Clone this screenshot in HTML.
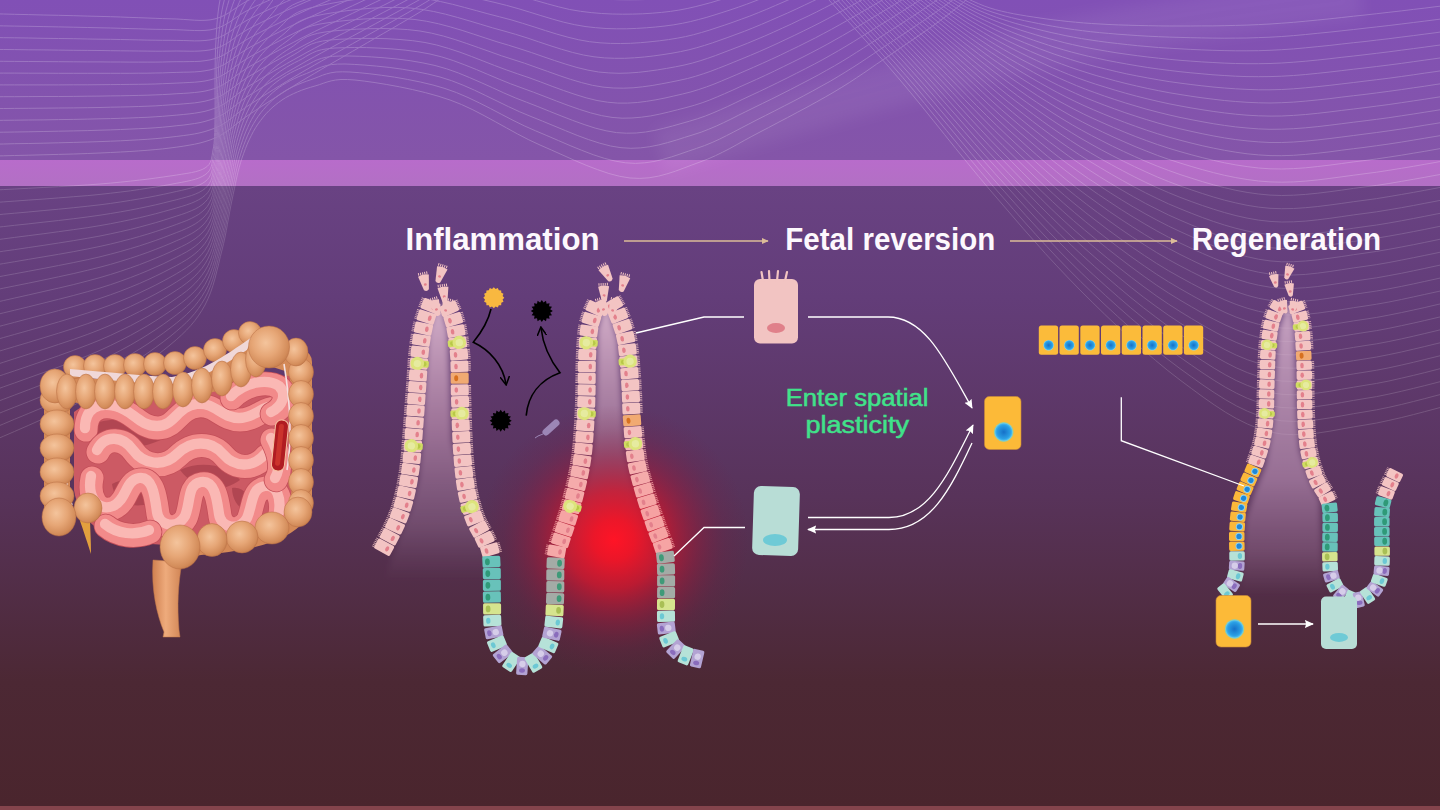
<!DOCTYPE html>
<html><head><meta charset="utf-8">
<style>
html,body{margin:0;padding:0;width:1440px;height:810px;overflow:hidden;background:#5a3358;}
svg{display:block;position:absolute;left:0;top:0;}
</style></head>
<body>
<svg width="1440" height="810" viewBox="0 0 1440 810">
<defs>
  <linearGradient id="gTop" x1="0" y1="0" x2="0" y2="1">
    <stop offset="0" stop-color="#8150b6"/>
    <stop offset="1" stop-color="#8455a8"/>
  </linearGradient>
  <linearGradient id="gBand" x1="0" y1="0" x2="0" y2="1">
    <stop offset="0" stop-color="#b86ccb"/>
    <stop offset="1" stop-color="#b270c4"/>
  </linearGradient>
  <linearGradient id="gLow" x1="0" y1="0" x2="0" y2="1">
    <stop offset="0" stop-color="#694283"/>
    <stop offset="0.18" stop-color="#633d79"/>
    <stop offset="0.5" stop-color="#58335a"/>
    <stop offset="0.8" stop-color="#4c2834"/>
    <stop offset="1" stop-color="#4a252d"/>
  </linearGradient>
  <radialGradient id="gRed" cx="0.5" cy="0.5" r="0.5">
    <stop offset="0" stop-color="#ff1426" stop-opacity="1"/>
    <stop offset="0.15" stop-color="#f21426" stop-opacity="0.95"/>
    <stop offset="0.36" stop-color="#d4162c" stop-opacity="0.8"/>
    <stop offset="0.62" stop-color="#a01838" stop-opacity="0.45"/>
    <stop offset="0.82" stop-color="#7c1c40" stop-opacity="0.18"/>
    <stop offset="1" stop-color="#701c40" stop-opacity="0"/>
  </radialGradient>
  <linearGradient id="gLumen" x1="0" y1="0" x2="0" y2="1">
    <stop offset="0" stop-color="#e8c4d8" stop-opacity="0.85"/>
    <stop offset="0.45" stop-color="#c89ab8" stop-opacity="0.6"/>
    <stop offset="0.8" stop-color="#b08aa8" stop-opacity="0.3"/>
    <stop offset="1" stop-color="#a07898" stop-opacity="0"/>
  </linearGradient>
  <radialGradient id="gNuc" cx="0.5" cy="0.5" r="0.5">
    <stop offset="0" stop-color="#1670c8"/>
    <stop offset="0.7" stop-color="#2a9ee4"/>
    <stop offset="0.85" stop-color="#40b4ec"/>
    <stop offset="1" stop-color="#8fd4f0"/>
  </radialGradient>
  <radialGradient id="gCol" cx="0.42" cy="0.4" r="0.65">
    <stop offset="0" stop-color="#f4c49c"/>
    <stop offset="0.5" stop-color="#e6a676"/>
    <stop offset="0.85" stop-color="#d38c5a"/>
    <stop offset="1" stop-color="#c27a4a"/>
  </radialGradient>
  <linearGradient id="gRect" x1="0" y1="0" x2="1" y2="0">
    <stop offset="0" stop-color="#d08050"/>
    <stop offset="0.45" stop-color="#eeab7c"/>
    <stop offset="1" stop-color="#d08454"/>
  </linearGradient>
  <linearGradient id="gLumen3" x1="0" y1="0" x2="0" y2="1">
    <stop offset="0" stop-color="#e0bcd4" stop-opacity="0.8"/>
    <stop offset="0.6" stop-color="#c096b8" stop-opacity="0.6"/>
    <stop offset="0.85" stop-color="#a87ca0" stop-opacity="0.35"/>
    <stop offset="1" stop-color="#a07898" stop-opacity="0"/>
  </linearGradient>
  <filter id="blur8" x="-20%" y="-50%" width="140%" height="200%"><feGaussianBlur stdDeviation="8"/></filter>
  <filter id="blur3" x="-20%" y="-20%" width="140%" height="140%"><feGaussianBlur stdDeviation="3"/></filter>
  <clipPath id="clipTop"><rect x="0" y="0" width="1440" height="186"/></clipPath>
  <clipPath id="clipLow"><rect x="0" y="186" width="1440" height="624"/></clipPath>
  <marker id="ahW" viewBox="0 0 10 10" refX="9" refY="5" markerWidth="7" markerHeight="7" orient="auto-start-reverse">
    <path d="M0,0.5 L10,5 L0,9.5 L1.5,5 z" fill="#ffffff"/>
  </marker>
  <marker id="ahT" viewBox="0 0 10 10" refX="9" refY="5" markerWidth="7" markerHeight="7" markerUnits="userSpaceOnUse" orient="auto">
    <path d="M0,0.5 L10,5 L0,9.5 z" fill="#dcbc98"/>
  </marker>
  <marker id="ahK" viewBox="0 0 10 10" refX="8" refY="5" markerWidth="6" markerHeight="6" orient="auto">
    <path d="M0,0 L9,5 L0,10" fill="none" stroke="#000" stroke-width="1.6"/>
  </marker>
</defs>

<!-- background -->
<rect x="0" y="0" width="1440" height="160" fill="url(#gTop)"/>
<rect x="0" y="186" width="1440" height="620" fill="url(#gLow)"/>
<rect x="0" y="160" width="1440" height="26" fill="url(#gBand)"/>
<rect x="0" y="806" width="1440" height="4" fill="#84444c"/>
<path d="M660,152 C760,120 880,88 1000,56 C1100,32 1220,12 1360,-4" stroke="#ffffff" stroke-width="44" fill="none" opacity="0.06" filter="url(#blur8)" clip-path="url(#clipTop)"/>
<g fill="none" stroke="#ffffff" stroke-width="1" clip-path="url(#clipTop)" opacity="0.2">
<path d="M-5.0,440.0 L3.3,436.3 L14.7,431.4 L28.2,425.5 L43.1,418.9 L58.6,412.0 L73.8,405.1 L87.8,398.3 L100.0,392.0 L110.7,386.0 L120.8,380.0 L130.4,374.0 L139.4,368.0 L147.9,362.1 L155.8,356.2 L163.2,350.5 L170.0,345.0 L176.2,339.8 L181.6,334.9 L186.5,330.1 L190.8,325.5 L194.7,320.8 L198.3,315.9 L201.7,310.7 L205.0,305.0 L208.0,298.8 L210.7,292.2 L213.0,285.3 L215.1,278.1 L216.9,270.9 L218.7,263.8 L220.3,256.7 L222.0,250.0 L223.6,243.5 L225.0,237.0 L226.3,230.5 L227.4,224.2 L228.6,217.9 L229.7,211.8 L230.8,205.8 L232.0,200.0 L233.2,194.3 L234.4,188.8 L235.5,183.3 L236.6,178.0 L237.8,172.8 L239.1,167.8 L240.5,162.8 L242.0,158.0 L243.7,153.3 L245.4,148.7 L247.2,144.2 L249.1,139.9 L251.2,135.7 L253.3,131.6 L255.6,127.7 L258.0,124.0 L260.6,120.5 L263.2,117.1 L266.0,113.8 L268.9,110.8 L272.0,107.8 L275.2,105.1 L278.5,102.5 L282.0,100.0 L285.6,97.7 L289.5,95.6 L293.4,93.7 L297.5,91.9 L301.7,90.2 L306.0,88.7 L310.5,87.3 L315.0,86.0 L319.3,84.7 L323.2,83.3 L327.1,82.0 L331.1,80.9 L335.7,80.0 L341.0,79.5 L347.3,79.5 L355.0,80.0 L364.3,81.1 L375.0,82.6 L386.8,84.5 L399.4,86.8 L412.3,89.5 L425.3,92.6 L438.0,96.1 L450.0,100.0 L461.5,104.5 L472.9,109.8 L484.1,115.6 L495.3,121.7 L506.5,127.9 L517.6,134.0 L528.8,139.8 L540.0,145.0 L551.4,150.0 L563.0,155.2 L574.6,160.4 L586.2,165.3 L597.7,169.7 L608.9,173.5 L619.7,176.3 L630.0,178.0 L639.8,178.4 L649.1,177.8 L658.2,176.2 L666.9,173.9 L675.4,171.2 L683.7,168.1 L691.9,165.0 L700.0,162.0 L707.9,159.0 L715.4,155.7 L722.6,152.2 L729.8,148.5 L736.9,144.6 L744.2,140.5 L751.9,136.3 L760.0,132.0 L768.7,127.5 L777.9,122.6 L787.5,117.6 L797.2,112.4 L807.0,107.2 L816.4,102.0 L825.5,96.9 L834.0,92.0 L841.9,87.2 L849.3,82.6 L856.4,77.9 L863.2,73.4 L869.9,68.8 L876.5,64.2 L883.2,59.7 L890.0,55.0 L897.0,50.3 L904.1,45.5 L911.1,40.8 L918.2,36.0 L925.2,31.2 L932.0,26.5 L938.6,21.7 L945.0,17.0 L951.4,12.1 L958.0,6.8 L964.6,1.4 L970.9,-3.9 L976.9,-8.9 L982.1,-13.4 L986.6,-17.2 L990.0,-20.0"/>
<path d="M-5.0,427.5 L3.3,424.0 L14.7,419.2 L28.2,413.6 L43.1,407.4 L58.6,400.8 L73.8,394.1 L87.8,387.6 L100.0,381.6 L110.7,375.9 L120.8,370.1 L130.4,364.4 L139.4,358.6 L147.9,352.9 L155.8,347.3 L163.2,341.9 L170.0,336.6 L176.2,331.5 L181.6,326.8 L186.5,322.3 L190.8,317.9 L194.8,313.3 L198.4,308.6 L201.7,303.6 L205.0,298.1 L208.0,292.2 L210.6,285.8 L212.9,279.1 L214.9,272.2 L216.7,265.3 L218.3,258.3 L219.9,251.5 L221.6,245.0 L223.1,238.6 L224.4,232.3 L225.7,226.0 L226.8,219.8 L227.9,213.7 L228.9,207.7 L230.0,201.8 L231.2,196.0 L232.3,190.4 L233.4,184.8 L234.5,179.4 L235.5,174.1 L236.7,168.9 L237.9,163.9 L239.2,158.9 L240.7,154.1 L242.2,149.4 L243.9,144.8 L245.6,140.3 L247.4,135.9 L249.4,131.6 L251.4,127.5 L253.6,123.6 L255.9,119.8 L258.3,116.2 L260.9,112.7 L263.6,109.4 L266.4,106.2 L269.3,103.2 L272.3,100.3 L275.5,97.6 L278.9,95.0 L282.4,92.6 L286.1,90.3 L289.9,88.2 L293.9,86.3 L297.9,84.5 L302.1,82.8 L306.5,81.2 L310.9,79.7 L315.0,78.2 L318.8,76.7 L322.5,75.2 L326.5,73.9 L330.9,72.8 L336.1,72.0 L342.4,71.8 L350.0,72.0 L359.2,72.7 L369.9,73.8 L381.7,75.3 L394.3,77.1 L407.3,79.4 L420.3,82.0 L433.0,85.0 L445.0,88.5 L456.5,92.6 L468.0,97.5 L479.3,102.9 L490.6,108.6 L501.8,114.5 L513.0,120.3 L524.2,125.8 L535.5,130.8 L546.9,135.6 L558.5,140.6 L570.1,145.6 L581.7,150.3 L593.2,154.7 L604.3,158.3 L615.2,161.1 L625.5,162.8 L635.4,163.4 L644.8,162.8 L654.0,161.5 L662.8,159.4 L671.5,156.9 L679.9,154.1 L688.3,151.2 L696.5,148.4 L704.5,145.6 L712.1,142.5 L719.4,139.2 L726.6,135.6 L733.8,131.9 L741.2,128.0 L748.9,124.0 L757.0,119.8 L765.7,115.4 L774.8,110.8 L784.3,105.9 L793.9,101.0 L803.5,95.9 L812.8,90.9 L821.8,85.9 L830.3,81.2 L838.2,76.5 L845.7,71.9 L852.9,67.4 L859.9,62.9 L866.7,58.4 L873.5,53.8 L880.3,49.3 L887.2,44.8 L894.2,40.1 L901.3,35.5 L908.3,30.9 L915.3,26.2 L922.2,21.6 L929.0,16.9 L935.7,12.3 L942.2,7.7 L948.9,2.8 L955.8,-2.5 L962.8,-7.9 L969.6,-13.2 L975.9,-18.3 L981.6,-22.8 L986.4,-26.6 L990.0,-29.5"/>
<path d="M-5.0,415.0 L3.3,411.6 L14.7,407.1 L28.2,401.8 L43.1,395.8 L58.6,389.5 L73.8,383.1 L87.8,376.9 L100.0,371.2 L110.7,365.7 L120.8,360.2 L130.4,354.7 L139.4,349.2 L147.9,343.8 L155.8,338.4 L163.2,333.2 L170.0,328.1 L176.2,323.3 L181.7,318.8 L186.5,314.5 L190.9,310.2 L194.8,305.9 L198.4,301.4 L201.8,296.6 L205.0,291.3 L208.0,285.6 L210.5,279.4 L212.7,273.0 L214.7,266.3 L216.4,259.6 L218.0,252.9 L219.5,246.4 L221.1,240.0 L222.6,233.8 L223.9,227.6 L225.1,221.5 L226.1,215.4 L227.2,209.4 L228.2,203.5 L229.2,197.7 L230.3,192.0 L231.4,186.4 L232.4,180.9 L233.4,175.6 L234.5,170.3 L235.5,165.1 L236.7,160.0 L237.9,155.0 L239.3,150.2 L240.8,145.5 L242.4,140.8 L244.0,136.3 L245.7,131.9 L247.6,127.6 L249.5,123.4 L251.6,119.4 L253.8,115.6 L256.1,111.9 L258.6,108.4 L261.1,104.9 L263.8,101.7 L266.6,98.5 L269.5,95.6 L272.6,92.7 L275.8,90.0 L279.2,87.4 L282.7,85.0 L286.4,82.8 L290.2,80.7 L294.2,78.7 L298.2,76.8 L302.4,75.1 L306.7,73.4 L310.7,71.7 L314.4,70.0 L318.0,68.4 L321.8,66.9 L326.2,65.6 L331.3,64.6 L337.4,64.1 L345.0,64.0 L354.2,64.4 L364.9,65.1 L376.6,66.1 L389.2,67.4 L402.2,69.2 L415.2,71.4 L427.9,74.0 L440.0,77.0 L451.6,80.7 L463.1,85.2 L474.5,90.2 L485.8,95.6 L497.1,101.1 L508.4,106.6 L519.7,111.8 L531.0,116.5 L542.4,121.1 L554.0,125.9 L565.6,130.7 L577.2,135.4 L588.6,139.6 L599.8,143.2 L610.6,146.0 L621.0,147.7 L630.9,148.3 L640.5,147.9 L649.8,146.7 L658.8,144.9 L667.6,142.6 L676.2,140.1 L684.6,137.4 L693.0,134.8 L701.1,132.2 L708.8,129.2 L716.2,126.1 L723.5,122.7 L730.8,119.2 L738.2,115.4 L745.9,111.6 L754.0,107.6 L762.6,103.4 L771.7,99.0 L781.0,94.3 L790.5,89.5 L799.9,84.6 L809.2,79.8 L818.2,75.0 L826.6,70.3 L834.6,65.8 L842.2,61.3 L849.5,56.8 L856.6,52.3 L863.6,47.9 L870.5,43.4 L877.4,39.0 L884.4,34.5 L891.4,30.0 L898.5,25.5 L905.5,21.0 L912.4,16.5 L919.3,12.0 L926.1,7.4 L932.9,2.9 L939.5,-1.7 L946.4,-6.6 L953.6,-11.8 L961.0,-17.2 L968.2,-22.6 L975.0,-27.7 L981.0,-32.3 L986.1,-36.1 L990.0,-39.0"/>
<path d="M-5.0,402.5 L3.3,399.3 L14.7,395.0 L28.2,389.9 L43.1,384.2 L58.6,378.2 L73.8,372.2 L87.8,366.3 L100.0,360.8 L110.7,355.6 L120.8,350.3 L130.4,345.1 L139.4,339.8 L147.9,334.6 L155.8,329.5 L163.2,324.5 L170.0,319.6 L176.2,315.1 L181.7,310.8 L186.5,306.6 L190.9,302.6 L194.8,298.4 L198.4,294.1 L201.8,289.5 L205.0,284.4 L207.9,278.9 L210.4,273.0 L212.6,266.8 L214.5,260.5 L216.1,254.0 L217.7,247.5 L219.2,241.2 L220.7,235.0 L222.1,229.0 L223.3,223.0 L224.5,217.0 L225.5,211.0 L226.5,205.1 L227.4,199.3 L228.4,193.6 L229.4,188.0 L230.5,182.5 L231.5,177.0 L232.4,171.7 L233.4,166.4 L234.4,161.2 L235.5,156.1 L236.6,151.2 L237.9,146.3 L239.4,141.6 L240.8,136.9 L242.4,132.3 L244.0,127.9 L245.8,123.6 L247.6,119.4 L249.6,115.3 L251.7,111.4 L253.9,107.6 L256.2,104.0 L258.7,100.5 L261.2,97.1 L263.9,93.9 L266.7,90.8 L269.6,87.8 L272.7,85.0 L276.0,82.3 L279.4,79.8 L282.9,77.4 L286.6,75.1 L290.4,72.9 L294.3,70.9 L298.4,69.0 L302.6,67.1 L306.5,65.2 L310.0,63.4 L313.5,61.5 L317.2,59.8 L321.4,58.4 L326.4,57.2 L332.5,56.4 L340.0,56.0 L349.1,56.0 L359.8,56.3 L371.6,56.9 L384.1,57.8 L397.1,59.0 L410.1,60.7 L422.9,62.9 L435.0,65.5 L446.6,68.8 L458.2,72.9 L469.6,77.6 L481.1,82.6 L492.5,87.7 L503.8,92.9 L515.2,97.8 L526.5,102.2 L537.9,106.6 L549.5,111.3 L561.1,115.9 L572.7,120.4 L584.1,124.5 L595.2,128.1 L606.1,130.8 L616.5,132.6 L626.5,133.2 L636.2,133.0 L645.6,132.0 L654.8,130.4 L663.7,128.3 L672.5,126.0 L681.0,123.6 L689.5,121.2 L697.7,118.7 L705.4,116.0 L712.9,113.0 L720.3,109.8 L727.7,106.5 L735.2,102.9 L742.9,99.2 L751.0,95.4 L759.6,91.4 L768.6,87.1 L777.8,82.6 L787.1,78.0 L796.4,73.3 L805.6,68.6 L814.5,64.0 L822.9,59.5 L830.9,55.0 L838.6,50.6 L846.0,46.2 L853.3,41.8 L860.4,37.4 L867.5,33.0 L874.5,28.6 L881.6,24.2 L888.7,19.9 L895.7,15.5 L902.6,11.1 L909.5,6.7 L916.4,2.3 L923.2,-2.1 L930.0,-6.5 L936.8,-11.1 L943.9,-15.9 L951.4,-21.1 L959.2,-26.6 L966.8,-32.0 L974.0,-37.1 L980.5,-41.7 L985.9,-45.6 L990.0,-48.5"/>
<path d="M-5.0,390.0 L3.3,386.9 L14.7,382.9 L28.2,378.0 L43.1,372.7 L58.6,367.0 L73.8,361.2 L87.8,355.6 L100.0,350.4 L110.7,345.4 L120.8,340.4 L130.4,335.4 L139.4,330.4 L147.9,325.5 L155.8,320.6 L163.2,315.8 L170.0,311.2 L176.2,306.8 L181.7,302.7 L186.6,298.8 L190.9,294.9 L194.9,291.0 L198.5,286.9 L201.8,282.4 L205.0,277.6 L207.9,272.3 L210.4,266.6 L212.4,260.7 L214.3,254.6 L215.9,248.3 L217.3,242.1 L218.8,236.0 L220.2,230.0 L221.6,224.1 L222.8,218.3 L223.9,212.4 L224.8,206.6 L225.8,200.9 L226.7,195.2 L227.6,189.5 L228.6,184.0 L229.6,178.5 L230.5,173.1 L231.4,167.8 L232.3,162.5 L233.3,157.3 L234.3,152.2 L235.4,147.3 L236.6,142.4 L237.9,137.6 L239.3,133.0 L240.8,128.4 L242.3,123.9 L244.0,119.5 L245.7,115.3 L247.6,111.2 L249.6,107.2 L251.7,103.4 L253.9,99.7 L256.2,96.1 L258.6,92.6 L261.1,89.3 L263.8,86.0 L266.6,83.0 L269.6,80.0 L272.7,77.2 L276.0,74.5 L279.4,71.9 L283.0,69.5 L286.6,67.2 L290.4,65.0 L294.4,62.8 L298.4,60.8 L302.2,58.8 L305.6,56.7 L309.0,54.7 L312.6,52.8 L316.7,51.1 L321.6,49.7 L327.6,48.7 L335.0,48.0 L344.1,47.7 L354.7,47.5 L366.5,47.6 L379.0,48.1 L392.0,48.9 L405.1,50.1 L417.9,51.8 L430.0,54.0 L441.7,56.9 L453.3,60.6 L464.8,64.9 L476.3,69.5 L487.8,74.4 L499.2,79.2 L510.6,83.8 L522.0,88.0 L533.5,92.2 L545.0,96.6 L556.6,101.1 L568.1,105.4 L579.5,109.4 L590.7,112.9 L601.5,115.6 L612.0,117.4 L622.1,118.2 L631.9,118.0 L641.4,117.2 L650.8,115.9 L659.8,114.1 L668.7,112.0 L677.4,109.8 L686.0,107.6 L694.3,105.3 L702.1,102.8 L709.7,100.0 L717.2,96.9 L724.6,93.7 L732.1,90.4 L739.9,86.8 L748.0,83.2 L756.5,79.4 L765.4,75.3 L774.5,71.0 L783.7,66.5 L792.9,62.0 L802.0,57.5 L810.8,53.0 L819.2,48.6 L827.2,44.3 L835.0,39.9 L842.6,35.6 L850.0,31.3 L857.3,27.0 L864.5,22.6 L871.6,18.3 L878.8,14.0 L885.9,9.7 L892.9,5.5 L899.8,1.2 L906.6,-3.0 L913.4,-7.3 L920.2,-11.6 L927.1,-15.9 L934.0,-20.4 L941.3,-25.2 L949.3,-30.5 L957.4,-35.9 L965.5,-41.3 L973.1,-46.5 L979.9,-51.2 L985.7,-55.1 L990.0,-58.0"/>
<path d="M-5.0,377.5 L3.3,374.6 L14.7,370.8 L28.2,366.2 L43.1,361.1 L58.6,355.7 L73.8,350.2 L87.8,344.9 L100.0,340.0 L110.7,335.3 L120.8,330.5 L130.4,325.8 L139.4,321.0 L147.9,316.3 L155.8,311.7 L163.2,307.2 L170.0,302.8 L176.2,298.6 L181.7,294.7 L186.6,291.0 L191.0,287.3 L194.9,283.5 L198.5,279.6 L201.8,275.4 L205.0,270.8 L207.9,265.7 L210.3,260.3 L212.3,254.6 L214.1,248.7 L215.6,242.7 L217.0,236.7 L218.4,230.8 L219.8,225.0 L221.1,219.3 L222.2,213.6 L223.3,207.9 L224.2,202.2 L225.1,196.6 L225.9,191.0 L226.8,185.5 L227.8,180.0 L228.7,174.6 L229.5,169.2 L230.4,163.9 L231.2,158.7 L232.1,153.5 L233.1,148.4 L234.1,143.4 L235.2,138.5 L236.5,133.7 L237.8,129.0 L239.2,124.4 L240.7,119.9 L242.2,115.5 L243.9,111.2 L245.6,107.0 L247.5,103.0 L249.5,99.1 L251.6,95.3 L253.7,91.6 L256.0,88.1 L258.4,84.6 L261.0,81.3 L263.7,78.1 L266.5,75.0 L269.5,72.0 L272.6,69.2 L275.9,66.5 L279.3,63.9 L282.9,61.4 L286.5,59.0 L290.3,56.7 L294.2,54.5 L297.9,52.3 L301.2,50.1 L304.5,47.9 L307.9,45.8 L311.9,43.9 L316.7,42.3 L322.6,41.0 L330.0,40.0 L339.1,39.3 L349.6,38.8 L361.4,38.4 L374.0,38.4 L387.0,38.7 L400.0,39.5 L412.8,40.7 L425.0,42.5 L436.7,45.0 L448.4,48.4 L460.0,52.2 L471.6,56.5 L483.1,61.0 L494.6,65.5 L506.1,69.8 L517.5,73.8 L529.0,77.7 L540.5,81.9 L552.1,86.3 L563.6,90.5 L575.0,94.4 L586.1,97.8 L597.0,100.5 L607.5,102.2 L617.7,103.1 L627.6,103.1 L637.3,102.5 L646.7,101.3 L655.9,99.8 L665.0,98.0 L673.8,96.0 L682.5,94.0 L690.9,91.9 L698.8,89.5 L706.5,86.9 L714.0,84.1 L721.5,81.0 L729.1,77.8 L736.9,74.5 L745.0,71.0 L753.5,67.3 L762.3,63.4 L771.3,59.3 L780.4,55.1 L789.4,50.7 L798.4,46.4 L807.1,42.0 L815.5,37.8 L823.6,33.5 L831.5,29.3 L839.2,25.0 L846.7,20.8 L854.1,16.5 L861.5,12.2 L868.8,8.0 L876.0,3.8 L883.1,-0.4 L890.1,-4.6 L896.9,-8.7 L903.7,-12.8 L910.5,-16.9 L917.3,-21.1 L924.2,-25.4 L931.2,-29.8 L938.8,-34.5 L947.1,-39.8 L955.6,-45.3 L964.1,-50.7 L972.1,-55.9 L979.4,-60.6 L985.4,-64.6 L990.0,-67.5"/>
<path d="M-5.0,365.0 L3.3,362.3 L14.7,358.6 L28.2,354.3 L43.1,349.5 L58.6,344.4 L73.8,339.3 L87.8,334.3 L100.0,329.6 L110.7,325.1 L120.8,320.7 L130.4,316.1 L139.4,311.6 L147.9,307.2 L155.8,302.8 L163.2,298.5 L170.0,294.3 L176.2,290.4 L181.7,286.7 L186.6,283.1 L191.0,279.6 L194.9,276.1 L198.5,272.3 L201.9,268.3 L205.0,263.9 L207.8,259.1 L210.2,253.9 L212.2,248.4 L213.9,242.8 L215.3,237.1 L216.7,231.3 L218.0,225.6 L219.3,220.0 L220.6,214.5 L221.7,208.9 L222.7,203.4 L223.6,197.8 L224.4,192.3 L225.2,186.8 L226.0,181.4 L226.9,176.0 L227.8,170.7 L228.6,165.3 L229.4,160.0 L230.2,154.8 L231.0,149.6 L231.8,144.5 L232.8,139.5 L233.9,134.6 L235.1,129.8 L236.3,125.1 L237.6,120.5 L239.0,115.9 L240.4,111.5 L242.0,107.1 L243.6,102.9 L245.4,98.8 L247.3,94.8 L249.2,90.9 L251.3,87.2 L253.5,83.5 L255.7,80.0 L258.1,76.5 L260.7,73.2 L263.4,70.0 L266.3,66.9 L269.3,63.9 L272.4,61.1 L275.7,58.3 L279.1,55.7 L282.6,53.1 L286.3,50.6 L290.1,48.2 L293.7,45.8 L296.8,43.4 L299.9,41.0 L303.3,38.8 L307.2,36.7 L311.9,34.9 L317.7,33.3 L325.0,32.0 L334.0,30.9 L344.6,30.0 L356.3,29.2 L368.9,28.7 L381.9,28.5 L395.0,28.8 L407.8,29.6 L420.0,31.0 L431.7,33.2 L443.5,36.1 L455.2,39.6 L466.8,43.5 L478.4,47.6 L490.0,51.7 L501.5,55.8 L513.0,59.5 L524.5,63.2 L536.0,67.3 L547.6,71.4 L559.1,75.5 L570.4,79.3 L581.6,82.6 L592.4,85.3 L603.0,87.1 L613.3,88.0 L623.3,88.2 L633.1,87.8 L642.7,86.8 L652.1,85.5 L661.2,83.9 L670.2,82.2 L679.0,80.4 L687.5,78.5 L695.5,76.3 L703.3,73.8 L710.9,71.2 L718.4,68.3 L726.1,65.3 L733.9,62.1 L742.0,58.8 L750.5,55.3 L759.2,51.6 L768.0,47.7 L777.0,43.6 L785.9,39.4 L794.8,35.2 L803.4,31.0 L811.8,26.9 L819.9,22.8 L827.9,18.6 L835.7,14.4 L843.4,10.2 L851.0,6.0 L858.5,1.8 L865.9,-2.4 L873.2,-6.5 L880.4,-10.6 L887.3,-14.6 L894.1,-18.6 L900.8,-22.5 L907.6,-26.5 L914.4,-30.6 L921.3,-34.8 L928.5,-39.1 L936.3,-43.8 L944.9,-49.1 L953.8,-54.6 L962.7,-60.1 L971.2,-65.3 L978.8,-70.1 L985.2,-74.0 L990.0,-77.0"/>
<path d="M-5.0,352.5 L3.3,349.9 L14.7,346.5 L28.2,342.5 L43.1,337.9 L58.6,333.2 L73.8,328.3 L87.8,323.6 L100.0,319.2 L110.7,315.0 L120.8,310.8 L130.4,306.5 L139.4,302.2 L147.9,298.0 L155.8,293.9 L163.2,289.8 L170.0,285.9 L176.2,282.1 L181.7,278.6 L186.6,275.3 L191.0,272.0 L195.0,268.6 L198.6,265.1 L201.9,261.3 L205.0,257.1 L207.8,252.4 L210.1,247.5 L212.0,242.3 L213.7,236.9 L215.1,231.4 L216.4,225.9 L217.6,220.4 L218.8,215.0 L220.1,209.7 L221.1,204.3 L222.1,198.9 L222.9,193.5 L223.7,188.0 L224.5,182.7 L225.2,177.3 L226.1,172.0 L226.9,166.7 L227.6,161.4 L228.4,156.2 L229.1,150.9 L229.8,145.7 L230.6,140.6 L231.5,135.6 L232.6,130.7 L233.6,125.9 L234.8,121.2 L236.0,116.5 L237.3,111.9 L238.6,107.4 L240.1,103.0 L241.6,98.8 L243.3,94.6 L245.1,90.5 L246.9,86.6 L248.8,82.7 L250.9,79.0 L253.0,75.3 L255.3,71.8 L257.7,68.3 L260.3,65.0 L263.0,61.8 L265.9,58.6 L268.9,55.6 L272.1,52.7 L275.3,49.9 L278.7,47.2 L282.3,44.5 L285.9,41.9 L289.4,39.3 L292.4,36.7 L295.4,34.2 L298.6,31.8 L302.4,29.5 L307.0,27.4 L312.8,25.6 L320.0,24.0 L329.0,22.6 L339.5,21.2 L351.2,20.0 L363.8,19.0 L376.8,18.4 L389.9,18.2 L402.8,18.5 L415.0,19.5 L426.8,21.3 L438.6,23.8 L450.3,26.9 L462.1,30.4 L473.8,34.2 L485.4,38.0 L497.0,41.8 L508.5,45.2 L520.0,48.8 L531.6,52.6 L543.1,56.6 L554.5,60.5 L565.9,64.2 L577.0,67.5 L587.9,70.1 L598.5,72.0 L608.8,72.9 L619.0,73.3 L628.9,73.0 L638.7,72.3 L648.2,71.2 L657.5,69.9 L666.6,68.4 L675.5,66.8 L684.0,65.1 L692.2,63.1 L700.1,60.8 L707.7,58.3 L715.4,55.6 L723.0,52.7 L730.9,49.7 L739.0,46.6 L747.4,43.3 L756.0,39.7 L764.8,36.0 L773.6,32.1 L782.4,28.1 L791.2,24.1 L799.7,20.0 L808.1,16.1 L816.3,12.1 L824.3,8.0 L832.3,3.9 L840.1,-0.3 L847.8,-4.4 L855.5,-8.6 L863.0,-12.7 L870.4,-16.8 L877.6,-20.7 L884.5,-24.6 L891.3,-28.4 L898.0,-32.3 L904.6,-36.1 L911.4,-40.1 L918.5,-44.2 L925.8,-48.5 L933.8,-53.2 L942.7,-58.4 L952.0,-63.9 L961.3,-69.5 L970.2,-74.7 L978.2,-79.5 L985.0,-83.5 L990.0,-86.5"/>
<path d="M-5.0,340.0 L3.3,337.6 L14.7,334.4 L28.2,330.6 L43.1,326.4 L58.6,321.9 L73.8,317.3 L87.8,312.9 L100.0,308.8 L110.7,304.9 L120.8,300.9 L130.4,296.9 L139.4,292.9 L147.9,288.9 L155.8,285.0 L163.2,281.1 L170.0,277.4 L176.2,273.9 L181.7,270.6 L186.6,267.5 L191.0,264.4 L195.0,261.2 L198.6,257.8 L201.9,254.2 L205.0,250.2 L207.8,245.8 L210.0,241.1 L211.9,236.2 L213.5,231.0 L214.8,225.8 L216.0,220.5 L217.2,215.2 L218.4,210.0 L219.6,204.8 L220.6,199.6 L221.5,194.3 L222.3,189.1 L223.0,183.8 L223.7,178.5 L224.4,173.2 L225.2,168.0 L226.0,162.8 L226.7,157.5 L227.3,152.3 L228.0,147.0 L228.7,141.9 L229.4,136.7 L230.3,131.7 L231.2,126.8 L232.2,122.0 L233.3,117.2 L234.4,112.5 L235.6,107.9 L236.8,103.4 L238.2,99.0 L239.6,94.6 L241.2,90.4 L242.9,86.3 L244.6,82.2 L246.4,78.3 L248.3,74.5 L250.3,70.7 L252.5,67.0 L254.7,63.5 L257.2,60.0 L259.8,56.6 L262.5,53.4 L265.4,50.2 L268.4,47.1 L271.6,44.1 L274.8,41.2 L278.3,38.4 L281.8,35.6 L285.1,32.8 L288.0,30.1 L290.9,27.4 L294.0,24.8 L297.6,22.3 L302.2,20.0 L307.8,17.9 L315.0,16.0 L323.9,14.2 L334.4,12.5 L346.1,10.8 L358.7,9.3 L371.7,8.2 L384.9,7.5 L397.8,7.4 L410.0,8.0 L421.8,9.4 L433.7,11.5 L445.5,14.2 L457.3,17.4 L469.1,20.8 L480.8,24.3 L492.4,27.8 L504.0,31.0 L515.5,34.3 L527.1,37.9 L538.6,41.8 L550.0,45.6 L561.3,49.2 L572.4,52.4 L583.4,55.0 L594.0,56.8 L604.4,57.9 L614.7,58.3 L624.7,58.3 L634.6,57.8 L644.3,57.0 L653.8,55.9 L663.0,54.6 L672.0,53.2 L680.6,51.6 L688.9,49.8 L696.8,47.7 L704.6,45.4 L712.3,42.9 L720.0,40.2 L727.9,37.4 L736.0,34.4 L744.4,31.3 L752.9,27.9 L761.6,24.3 L770.2,20.6 L778.9,16.8 L787.6,13.0 L796.1,9.1 L804.4,5.2 L812.6,1.3 L820.7,-2.7 L828.8,-6.7 L836.8,-10.8 L844.7,-14.9 L852.5,-19.0 L860.1,-23.0 L867.6,-27.0 L874.8,-30.9 L881.7,-34.6 L888.4,-38.3 L895.1,-42.0 L901.7,-45.8 L908.5,-49.6 L915.6,-53.6 L923.0,-57.8 L931.3,-62.5 L940.5,-67.7 L950.2,-73.3 L960.0,-78.8 L969.3,-84.1 L977.7,-89.0 L984.8,-93.0 L990.0,-96.0"/>
<path d="M-5.0,327.5 L3.3,325.3 L14.7,322.3 L28.2,318.7 L43.1,314.8 L58.6,310.6 L73.8,306.4 L87.8,302.3 L100.0,298.4 L110.7,294.7 L120.8,291.0 L130.4,287.2 L139.4,283.5 L147.9,279.7 L155.8,276.0 L163.2,272.4 L170.0,268.9 L176.2,265.7 L181.7,262.6 L186.7,259.6 L191.1,256.7 L195.0,253.7 L198.6,250.6 L201.9,247.1 L205.0,243.3 L207.7,239.2 L209.9,234.7 L211.8,230.0 L213.3,225.1 L214.5,220.1 L215.7,215.1 L216.8,210.0 L217.9,205.0 L219.1,200.0 L220.0,194.9 L220.9,189.8 L221.6,184.7 L222.3,179.5 L223.0,174.3 L223.6,169.1 L224.3,164.0 L225.1,158.8 L225.7,153.6 L226.3,148.4 L226.9,143.2 L227.6,138.0 L228.2,132.9 L229.0,127.8 L229.8,122.9 L230.8,118.1 L231.8,113.3 L232.8,108.6 L233.9,103.9 L235.0,99.4 L236.3,94.9 L237.6,90.5 L239.1,86.2 L240.6,82.0 L242.2,77.9 L243.9,73.9 L245.7,69.9 L247.6,66.1 L249.6,62.3 L251.8,58.6 L254.1,55.0 L256.6,51.5 L259.2,48.1 L261.9,44.8 L264.8,41.5 L267.8,38.4 L270.9,35.3 L274.2,32.3 L277.6,29.3 L280.8,26.4 L283.7,23.4 L286.4,20.6 L289.4,17.8 L292.9,15.1 L297.3,12.5 L302.9,10.2 L310.0,8.0 L318.9,5.9 L329.4,3.7 L341.1,1.6 L353.6,-0.3 L366.7,-1.9 L379.8,-3.1 L392.7,-3.6 L405.0,-3.5 L416.9,-2.5 L428.8,-0.8 L440.7,1.6 L452.6,4.3 L464.4,7.4 L476.2,10.6 L487.9,13.8 L499.5,16.8 L511.0,19.8 L522.6,23.3 L534.1,26.9 L545.5,30.6 L556.8,34.1 L567.9,37.2 L578.8,39.8 L589.5,41.7 L600.0,42.8 L610.4,43.4 L620.6,43.5 L630.6,43.3 L640.4,42.7 L650.0,41.8 L659.4,40.8 L668.5,39.6 L677.2,38.2 L685.6,36.6 L693.6,34.7 L701.5,32.5 L709.2,30.2 L717.0,27.6 L724.9,25.0 L733.0,22.2 L741.3,19.2 L749.8,16.1 L758.3,12.7 L766.9,9.2 L775.4,5.5 L784.0,1.8 L792.4,-1.9 L800.7,-5.7 L808.9,-9.4 L817.2,-13.3 L825.4,-17.3 L833.5,-21.3 L841.6,-25.4 L849.5,-29.4 L857.2,-33.4 L864.8,-37.2 L872.0,-41.0 L878.9,-44.6 L885.6,-48.2 L892.2,-51.8 L898.8,-55.4 L905.6,-59.1 L912.7,-63.0 L920.2,-67.2 L928.8,-71.8 L938.3,-77.0 L948.4,-82.6 L958.6,-88.2 L968.3,-93.6 L977.1,-98.4 L984.5,-102.5 L990.0,-105.5"/>
<path d="M-5.0,315.0 L3.3,312.9 L14.7,310.2 L28.2,306.9 L43.1,303.2 L58.6,299.3 L73.8,295.4 L87.8,291.6 L100.0,288.0 L110.7,284.6 L120.8,281.1 L130.4,277.6 L139.4,274.1 L147.9,270.6 L155.8,267.1 L163.2,263.8 L170.0,260.5 L176.2,257.4 L181.7,254.5 L186.7,251.8 L191.1,249.1 L195.1,246.3 L198.7,243.3 L201.9,240.1 L205.0,236.5 L207.7,232.6 L209.9,228.3 L211.6,223.9 L213.1,219.2 L214.3,214.5 L215.4,209.7 L216.4,204.8 L217.5,200.0 L218.6,195.2 L219.5,190.3 L220.3,185.3 L221.0,180.3 L221.6,175.2 L222.2,170.2 L222.8,165.1 L223.5,160.0 L224.1,154.9 L224.7,149.7 L225.3,144.5 L225.8,139.3 L226.4,134.1 L227.0,129.0 L227.7,123.9 L228.5,119.0 L229.4,114.1 L230.2,109.4 L231.2,104.6 L232.2,99.9 L233.3,95.3 L234.4,90.8 L235.7,86.4 L237.0,82.0 L238.4,77.7 L239.9,73.5 L241.5,69.4 L243.1,65.4 L244.9,61.4 L246.8,57.5 L248.8,53.7 L251.0,50.0 L253.3,46.4 L255.8,42.8 L258.4,39.3 L261.2,35.9 L264.0,32.6 L267.0,29.4 L270.2,26.1 L273.5,23.0 L276.6,19.9 L279.3,16.8 L281.9,13.7 L284.7,10.8 L288.1,7.9 L292.4,5.1 L298.0,2.5 L305.0,0.0 L313.8,-2.5 L324.3,-5.1 L336.0,-7.6 L348.5,-10.0 L361.6,-12.1 L374.8,-13.7 L387.7,-14.7 L400.0,-15.0 L411.9,-14.4 L423.9,-13.1 L435.8,-11.1 L447.8,-8.7 L459.7,-6.0 L471.6,-3.1 L483.4,-0.2 L495.0,2.5 L506.6,5.4 L518.1,8.6 L529.6,12.1 L540.9,15.6 L552.2,19.0 L563.3,22.1 L574.3,24.6 L585.0,26.5 L595.6,27.7 L606.1,28.5 L616.4,28.8 L626.6,28.8 L636.5,28.4 L646.3,27.8 L655.8,27.0 L665.0,26.0 L673.8,24.8 L682.3,23.3 L690.4,21.6 L698.3,19.6 L706.1,17.5 L714.0,15.1 L721.9,12.6 L730.0,10.0 L738.3,7.2 L746.7,4.2 L755.1,1.0 L763.5,-2.3 L771.9,-5.8 L780.3,-9.3 L788.7,-12.9 L797.0,-16.5 L805.3,-20.2 L813.6,-24.0 L821.9,-27.9 L830.2,-31.8 L838.4,-35.8 L846.5,-39.8 L854.3,-43.7 L862.0,-47.5 L869.3,-51.2 L876.1,-54.7 L882.8,-58.1 L889.3,-61.5 L895.9,-65.0 L902.7,-68.6 L909.8,-72.4 L917.5,-76.5 L926.2,-81.1 L936.1,-86.4 L946.6,-91.9 L957.2,-97.6 L967.4,-103.0 L976.6,-107.9 L984.3,-112.0 L990.0,-115.0"/>
<path d="M-5.0,302.5 L3.3,300.6 L14.7,298.0 L28.2,295.0 L43.1,291.6 L58.6,288.1 L73.8,284.5 L87.8,280.9 L100.0,277.6 L110.7,274.4 L120.8,271.2 L130.4,267.9 L139.4,264.7 L147.9,261.4 L155.8,258.2 L163.2,255.1 L170.0,252.1 L176.2,249.2 L181.7,246.5 L186.7,244.0 L191.1,241.4 L195.1,238.8 L198.7,236.0 L202.0,233.0 L205.0,229.6 L207.6,225.9 L209.8,222.0 L211.5,217.7 L212.9,213.4 L214.0,208.9 L215.0,204.3 L216.0,199.6 L217.1,195.0 L218.1,190.3 L218.9,185.6 L219.7,180.8 L220.3,175.9 L220.9,171.0 L221.5,166.0 L222.0,161.0 L222.7,156.0 L223.2,151.0 L223.8,145.8 L224.3,140.6 L224.8,135.4 L225.3,130.3 L225.8,125.1 L226.4,120.1 L227.2,115.1 L227.9,110.2 L228.7,105.4 L229.6,100.7 L230.5,95.9 L231.5,91.3 L232.5,86.7 L233.7,82.2 L234.9,77.8 L236.2,73.5 L237.6,69.2 L239.0,65.0 L240.5,60.8 L242.2,56.8 L243.9,52.8 L245.8,48.9 L247.9,45.0 L250.1,41.2 L252.5,37.5 L254.9,33.9 L257.5,30.3 L260.3,26.9 L263.1,23.4 L266.2,20.0 L269.4,16.7 L272.3,13.4 L274.9,10.1 L277.3,6.9 L280.1,3.7 L283.4,0.7 L287.6,-2.3 L293.0,-5.2 L300.0,-8.0 L308.8,-10.8 L319.2,-13.8 L330.9,-16.9 L343.4,-19.7 L356.5,-22.3 L369.7,-24.4 L382.7,-25.8 L395.0,-26.5 L407.0,-26.3 L419.0,-25.3 L431.0,-23.8 L443.1,-21.7 L455.1,-19.4 L467.0,-16.8 L478.8,-14.2 L490.5,-11.8 L502.1,-9.1 L513.6,-6.0 L525.0,-2.7 L536.4,0.7 L547.7,3.9 L558.8,6.9 L569.7,9.5 L580.5,11.3 L591.2,12.6 L601.7,13.5 L612.2,14.0 L622.5,14.2 L632.7,14.1 L642.6,13.8 L652.2,13.2 L661.5,12.4 L670.4,11.4 L678.9,10.1 L687.2,8.5 L695.2,6.7 L703.1,4.7 L710.9,2.6 L718.9,0.2 L727.0,-2.2 L735.3,-4.8 L743.5,-7.6 L751.8,-10.6 L760.1,-13.8 L768.4,-17.1 L776.7,-20.4 L785.0,-23.9 L793.3,-27.4 L801.6,-30.9 L810.0,-34.6 L818.5,-38.5 L826.9,-42.4 L835.3,-46.3 L843.5,-50.2 L851.5,-54.0 L859.2,-57.8 L866.5,-61.3 L873.4,-64.7 L879.9,-68.0 L886.4,-71.3 L892.9,-74.6 L899.7,-78.1 L906.9,-81.8 L914.8,-85.9 L923.7,-90.4 L933.9,-95.7 L944.8,-101.3 L955.8,-106.9 L966.4,-112.4 L976.0,-117.3 L984.1,-121.4 L990.0,-124.5"/>
<path d="M-5.0,290.0 L3.3,288.2 L14.7,285.9 L28.2,283.2 L43.1,280.1 L58.6,276.8 L73.8,273.5 L87.8,270.2 L100.0,267.2 L110.7,264.3 L120.8,261.3 L130.4,258.3 L139.4,255.3 L147.9,252.3 L155.8,249.3 L163.2,246.4 L170.0,243.6 L176.2,240.9 L181.8,238.5 L186.7,236.1 L191.2,233.8 L195.1,231.4 L198.7,228.8 L202.0,226.0 L205.0,222.8 L207.6,219.3 L209.7,215.6 L211.3,211.6 L212.7,207.5 L213.7,203.2 L214.7,198.8 L215.6,194.4 L216.6,190.0 L217.6,185.5 L218.4,180.9 L219.1,176.3 L219.7,171.5 L220.2,166.7 L220.7,161.8 L221.3,156.9 L221.8,152.0 L222.3,147.0 L222.8,141.9 L223.3,136.8 L223.7,131.6 L224.1,126.4 L224.6,121.2 L225.2,116.2 L225.8,111.2 L226.5,106.3 L227.2,101.5 L228.0,96.7 L228.8,91.9 L229.7,87.3 L230.6,82.6 L231.7,78.1 L232.8,73.6 L234.0,69.2 L235.3,64.8 L236.6,60.5 L238.0,56.3 L239.5,52.1 L241.1,48.0 L242.9,44.0 L244.8,40.0 L246.9,36.1 L249.1,32.2 L251.4,28.5 L253.9,24.8 L256.5,21.1 L259.2,17.5 L262.1,13.9 L265.2,10.4 L268.0,6.9 L270.5,3.5 L272.8,0.1 L275.4,-3.3 L278.6,-6.6 L282.7,-9.8 L288.1,-12.9 L295.0,-16.0 L303.7,-19.2 L314.1,-22.6 L325.8,-26.1 L338.4,-29.4 L351.4,-32.4 L364.7,-35.0 L377.6,-36.9 L390.0,-38.0 L402.0,-38.2 L414.1,-37.6 L426.2,-36.4 L438.3,-34.8 L450.4,-32.7 L462.4,-30.5 L474.3,-28.2 L486.0,-26.0 L497.6,-23.6 L509.1,-20.7 L520.5,-17.6 L531.9,-14.3 L543.1,-11.1 L554.2,-8.2 L565.2,-5.7 L576.0,-3.8 L586.7,-2.4 L597.4,-1.4 L608.0,-0.7 L618.5,-0.3 L628.8,-0.2 L638.8,-0.3 L648.6,-0.6 L658.0,-1.2 L667.0,-2.0 L675.6,-3.1 L683.9,-4.5 L692.0,-6.1 L700.0,-8.0 L707.9,-10.0 L715.9,-12.1 L724.0,-14.4 L732.2,-16.8 L740.4,-19.5 L748.6,-22.3 L756.8,-25.3 L764.9,-28.4 L773.1,-31.6 L781.3,-34.9 L789.6,-38.2 L798.0,-41.7 L806.5,-45.3 L815.1,-49.0 L823.6,-52.9 L832.1,-56.8 L840.5,-60.6 L848.6,-64.4 L856.4,-68.0 L863.7,-71.4 L870.6,-74.7 L877.1,-77.9 L883.5,-81.0 L890.0,-84.3 L896.8,-87.6 L904.1,-91.3 L912.0,-95.2 L921.2,-99.8 L931.8,-105.0 L943.0,-110.6 L954.5,-116.3 L965.5,-121.8 L975.5,-126.8 L983.8,-130.9 L990.0,-134.0"/>
<path d="M-5.0,277.5 L3.3,275.9 L14.7,273.8 L28.2,271.3 L43.1,268.5 L58.6,265.5 L73.8,262.5 L87.8,259.6 L100.0,256.8 L110.7,254.1 L120.8,251.4 L130.4,248.6 L139.4,245.9 L147.9,243.1 L155.8,240.4 L163.2,237.7 L170.0,235.1 L176.2,232.7 L181.8,230.5 L186.7,228.3 L191.2,226.1 L195.2,223.9 L198.7,221.5 L202.0,218.9 L205.0,215.9 L207.6,212.7 L209.6,209.2 L211.2,205.5 L212.5,201.6 L213.5,197.6 L214.4,193.4 L215.2,189.2 L216.2,185.0 L217.1,180.7 L217.8,176.3 L218.5,171.7 L219.0,167.1 L219.5,162.4 L220.0,157.7 L220.5,152.8 L220.9,148.0 L221.4,143.1 L221.9,138.0 L222.2,132.9 L222.6,127.7 L223.0,122.5 L223.4,117.4 L223.9,112.3 L224.4,107.3 L225.1,102.4 L225.7,97.5 L226.4,92.7 L227.1,88.0 L227.9,83.2 L228.7,78.6 L229.7,74.0 L230.7,69.4 L231.8,64.9 L232.9,60.5 L234.1,56.1 L235.4,51.8 L236.8,47.5 L238.3,43.3 L239.9,39.1 L241.7,35.0 L243.7,31.0 L245.7,27.0 L247.9,23.0 L250.3,19.2 L252.7,15.3 L255.3,11.5 L258.1,7.8 L261.1,4.1 L263.8,0.4 L266.1,-3.2 L268.3,-6.8 L270.8,-10.3 L273.9,-13.8 L277.9,-17.2 L283.2,-20.6 L290.0,-24.0 L298.7,-27.5 L309.1,-31.4 L320.7,-35.3 L333.3,-39.1 L346.4,-42.6 L359.6,-45.6 L372.6,-48.0 L385.0,-49.5 L397.0,-50.1 L409.2,-49.9 L421.4,-49.1 L433.6,-47.8 L445.7,-46.1 L457.8,-44.2 L469.7,-42.2 L481.5,-40.2 L493.1,-38.0 L504.6,-35.4 L516.0,-32.4 L527.3,-29.3 L538.5,-26.2 L549.6,-23.4 L560.6,-20.9 L571.5,-19.0 L582.3,-17.5 L593.1,-16.3 L603.9,-15.4 L614.5,-14.8 L624.9,-14.4 L635.1,-14.3 L645.0,-14.4 L654.5,-14.8 L663.6,-15.4 L672.3,-16.4 L680.7,-17.6 L688.9,-19.0 L696.9,-20.7 L704.9,-22.5 L712.9,-24.5 L721.0,-26.6 L729.2,-28.9 L737.3,-31.3 L745.3,-33.9 L753.4,-36.7 L761.4,-39.7 L769.5,-42.7 L777.7,-45.8 L785.9,-49.1 L794.3,-52.4 L802.9,-55.9 L811.6,-59.6 L820.3,-63.4 L829.0,-67.2 L837.5,-71.0 L845.7,-74.7 L853.6,-78.2 L861.0,-81.6 L867.8,-84.7 L874.2,-87.8 L880.6,-90.8 L887.1,-93.9 L893.9,-97.2 L901.2,-100.7 L909.2,-104.5 L918.7,-109.1 L929.6,-114.3 L941.2,-119.9 L953.1,-125.7 L964.5,-131.2 L974.9,-136.2 L983.6,-140.4 L990.0,-143.5"/>
<path d="M-5.0,265.0 L3.3,263.6 L14.7,261.7 L28.2,259.4 L43.1,256.9 L58.6,254.3 L73.8,251.6 L87.8,248.9 L100.0,246.4 L110.7,244.0 L120.8,241.5 L130.4,239.0 L139.4,236.5 L147.9,234.0 L155.8,231.5 L163.2,229.1 L170.0,226.7 L176.2,224.5 L181.8,222.4 L186.8,220.5 L191.2,218.5 L195.2,216.4 L198.8,214.3 L202.0,211.8 L205.0,209.1 L207.5,206.1 L209.5,202.8 L211.1,199.3 L212.3,195.7 L213.2,191.9 L214.0,188.0 L214.8,184.0 L215.7,180.0 L216.6,175.9 L217.3,171.6 L217.9,167.2 L218.4,162.7 L218.8,158.1 L219.2,153.5 L219.7,148.8 L220.1,144.0 L220.5,139.1 L220.9,134.1 L221.2,129.0 L221.5,123.8 L221.9,118.7 L222.2,113.5 L222.6,108.4 L223.1,103.4 L223.6,98.5 L224.2,93.6 L224.8,88.8 L225.4,84.0 L226.1,79.2 L226.8,74.5 L227.7,69.8 L228.6,65.2 L229.6,60.6 L230.6,56.1 L231.7,51.6 L232.8,47.2 L234.0,42.8 L235.4,38.5 L236.9,34.2 L238.6,30.0 L240.4,25.8 L242.4,21.7 L244.4,17.6 L246.6,13.6 L249.0,9.6 L251.4,5.6 L254.1,1.7 L256.9,-2.2 L259.5,-6.0 L261.7,-9.8 L263.8,-13.6 L266.2,-17.3 L269.1,-21.0 L273.0,-24.7 L278.2,-28.3 L285.0,-32.0 L293.7,-35.9 L304.0,-40.1 L315.6,-44.5 L328.2,-48.8 L341.3,-52.8 L354.5,-56.3 L367.6,-59.1 L380.0,-61.0 L392.1,-62.0 L404.3,-62.2 L416.5,-61.8 L428.8,-60.8 L441.0,-59.5 L453.2,-57.9 L465.2,-56.2 L477.0,-54.5 L488.6,-52.5 L500.1,-50.0 L511.5,-47.2 L522.8,-44.2 L534.0,-41.3 L545.1,-38.5 L556.1,-36.0 L567.0,-34.1 L577.9,-32.6 L588.8,-31.3 L599.7,-30.2 L610.4,-29.3 L621.0,-28.7 L631.3,-28.3 L641.4,-28.2 L651.0,-28.4 L660.2,-28.9 L669.0,-29.6 L677.5,-30.7 L685.7,-31.9 L693.8,-33.4 L701.8,-35.1 L709.9,-36.9 L718.0,-38.8 L726.1,-40.9 L734.1,-43.1 L742.1,-45.6 L750.0,-48.2 L757.9,-51.0 L765.9,-53.8 L774.0,-56.8 L782.2,-59.9 L790.7,-63.1 L799.3,-66.6 L808.2,-70.2 L817.0,-73.9 L825.8,-77.7 L834.5,-81.4 L842.8,-85.0 L850.8,-88.5 L858.2,-91.7 L865.0,-94.8 L871.4,-97.7 L877.7,-100.5 L884.1,-103.5 L890.9,-106.7 L898.3,-110.1 L906.5,-113.9 L916.2,-118.4 L927.4,-123.6 L939.4,-129.3 L951.7,-135.0 L963.6,-140.6 L974.3,-145.7 L983.4,-149.9 L990.0,-153.0"/>
<path d="M-5.0,252.5 L3.3,251.2 L14.7,249.6 L28.2,247.6 L43.1,245.4 L58.6,243.0 L73.8,240.6 L87.8,238.2 L100.0,236.0 L110.7,233.8 L120.8,231.6 L130.4,229.4 L139.4,227.1 L147.9,224.8 L155.8,222.6 L163.2,220.4 L170.0,218.2 L176.2,216.2 L181.8,214.4 L186.8,212.6 L191.2,210.8 L195.2,209.0 L198.8,207.0 L202.0,204.8 L205.0,202.2 L207.5,199.4 L209.4,196.4 L210.9,193.2 L212.1,189.8 L213.0,186.3 L213.7,182.6 L214.4,178.9 L215.2,175.0 L216.1,171.0 L216.7,166.9 L217.3,162.7 L217.7,158.3 L218.1,153.9 L218.5,149.3 L218.9,144.7 L219.2,140.0 L219.6,135.2 L219.9,130.2 L220.2,125.1 L220.5,120.0 L220.7,114.8 L221.0,109.6 L221.3,104.5 L221.8,99.5 L222.2,94.6 L222.7,89.7 L223.2,84.8 L223.7,80.0 L224.3,75.2 L225.0,70.4 L225.7,65.7 L226.5,61.0 L227.4,56.4 L228.3,51.8 L229.2,47.2 L230.2,42.7 L231.3,38.2 L232.6,33.8 L234.0,29.4 L235.5,25.0 L237.2,20.7 L239.0,16.4 L240.9,12.2 L243.0,8.0 L245.2,3.8 L247.5,-0.3 L250.1,-4.4 L252.8,-8.5 L255.2,-12.5 L257.3,-16.5 L259.3,-20.4 L261.5,-24.3 L264.4,-28.2 L268.2,-32.1 L273.3,-36.0 L280.0,-40.0 L288.6,-44.3 L298.9,-48.9 L310.6,-53.7 L323.1,-58.5 L336.2,-62.9 L349.5,-66.9 L362.5,-70.2 L375.0,-72.5 L387.1,-73.9 L399.4,-74.5 L411.7,-74.4 L424.1,-73.9 L436.4,-72.9 L448.6,-71.6 L460.7,-70.2 L472.5,-68.8 L484.1,-67.0 L495.6,-64.7 L507.0,-62.1 L518.3,-59.2 L529.4,-56.4 L540.5,-53.6 L551.5,-51.2 L562.5,-49.2 L573.5,-47.6 L584.5,-46.2 L595.5,-44.9 L606.4,-43.8 L617.1,-43.0 L627.6,-42.4 L637.7,-42.0 L647.5,-42.0 L656.8,-42.3 L665.7,-42.9 L674.3,-43.7 L682.6,-44.8 L690.7,-46.1 L698.8,-47.6 L706.9,-49.2 L715.0,-51.0 L723.1,-52.9 L731.0,-55.0 L738.8,-57.3 L746.6,-59.7 L754.4,-62.3 L762.3,-65.0 L770.3,-67.8 L778.5,-70.8 L787.0,-73.9 L795.8,-77.3 L804.7,-80.8 L813.7,-84.5 L822.7,-88.1 L831.5,-91.8 L839.9,-95.4 L848.0,-98.8 L855.4,-101.9 L862.2,-104.8 L868.6,-107.5 L874.8,-110.3 L881.2,-113.1 L888.0,-116.2 L895.4,-119.5 L903.8,-123.2 L913.7,-127.7 L925.2,-132.9 L937.7,-138.6 L950.4,-144.4 L962.6,-150.0 L973.8,-155.1 L983.1,-159.4 L990.0,-162.5"/>
<path d="M-5.0,240.0 L3.3,238.9 L14.7,237.4 L28.2,235.7 L43.1,233.8 L58.6,231.7 L73.8,229.6 L87.8,227.6 L100.0,225.6 L110.7,223.7 L120.8,221.7 L130.4,219.7 L139.4,217.7 L147.9,215.7 L155.8,213.7 L163.2,211.7 L170.0,209.8 L176.2,208.0 L181.8,206.4 L186.8,204.8 L191.3,203.2 L195.3,201.5 L198.8,199.7 L202.1,197.7 L205.0,195.4 L207.5,192.8 L209.4,190.0 L210.8,187.1 L211.9,183.9 L212.7,180.6 L213.4,177.2 L214.0,173.7 L214.8,170.0 L215.6,166.2 L216.2,162.3 L216.7,158.2 L217.1,153.9 L217.4,149.6 L217.8,145.2 L218.1,140.6 L218.4,136.0 L218.7,131.2 L219.0,126.3 L219.2,121.2 L219.4,116.1 L219.6,110.9 L219.8,105.7 L220.1,100.6 L220.4,95.6 L220.8,90.7 L221.2,85.7 L221.6,80.8 L222.0,76.0 L222.5,71.1 L223.1,66.3 L223.7,61.5 L224.4,56.8 L225.2,52.1 L225.9,47.4 L226.7,42.8 L227.6,38.1 L228.6,33.6 L229.7,29.0 L231.0,24.5 L232.4,20.0 L234.0,15.5 L235.6,11.1 L237.4,6.7 L239.3,2.4 L241.4,-2.0 L243.6,-6.3 L246.0,-10.5 L248.6,-14.8 L250.9,-19.0 L252.9,-23.1 L254.7,-27.2 L256.9,-31.3 L259.6,-35.4 L263.3,-39.5 L268.3,-43.7 L275.0,-48.0 L283.6,-52.6 L293.9,-57.7 L305.5,-62.9 L318.0,-68.1 L331.1,-73.1 L344.4,-77.5 L357.5,-81.3 L370.0,-84.0 L382.2,-85.8 L394.5,-86.8 L406.9,-87.1 L419.3,-86.9 L431.7,-86.3 L444.0,-85.4 L456.1,-84.2 L468.0,-83.0 L479.7,-81.5 L491.2,-79.4 L502.5,-76.9 L513.8,-74.2 L524.9,-71.4 L536.0,-68.8 L547.0,-66.4 L558.0,-64.4 L569.1,-62.7 L580.2,-61.1 L591.3,-59.7 L602.4,-58.4 L613.2,-57.3 L623.9,-56.4 L634.1,-55.8 L644.0,-55.6 L653.4,-55.7 L662.4,-56.1 L671.0,-56.8 L679.4,-57.7 L687.7,-58.8 L695.8,-60.2 L703.9,-61.6 L712.0,-63.2 L720.0,-64.9 L727.9,-66.8 L735.6,-68.9 L743.3,-71.2 L750.9,-73.6 L758.7,-76.1 L766.6,-78.8 L774.8,-81.6 L783.3,-84.6 L792.2,-87.9 L801.3,-91.4 L810.4,-95.0 L819.5,-98.6 L828.4,-102.2 L837.0,-105.7 L845.2,-109.0 L852.6,-112.0 L859.4,-114.8 L865.7,-117.4 L871.9,-120.1 L878.3,-122.8 L885.1,-125.7 L892.5,-128.9 L901.0,-132.6 L911.1,-137.0 L923.0,-142.3 L935.9,-147.9 L949.0,-153.8 L961.7,-159.4 L973.2,-164.5 L982.9,-168.9 L990.0,-172.0"/>
<path d="M-5.0,227.5 L3.3,226.6 L14.7,225.3 L28.2,223.9 L43.1,222.2 L58.6,220.5 L73.8,218.7 L87.8,216.9 L100.0,215.2 L110.7,213.5 L120.8,211.8 L130.4,210.1 L139.4,208.3 L147.9,206.5 L155.8,204.8 L163.2,203.0 L170.0,201.3 L176.2,199.8 L181.8,198.3 L186.8,196.9 L191.3,195.6 L195.3,194.1 L198.9,192.5 L202.1,190.7 L205.0,188.6 L207.4,186.2 L209.3,183.6 L210.7,180.9 L211.7,178.0 L212.4,175.0 L213.0,171.8 L213.7,168.5 L214.3,165.0 L215.1,161.4 L215.6,157.6 L216.1,153.6 L216.4,149.5 L216.7,145.3 L217.0,141.0 L217.3,136.5 L217.6,132.0 L217.8,127.3 L218.0,122.4 L218.2,117.4 L218.3,112.2 L218.4,107.0 L218.6,101.9 L218.8,96.7 L219.1,91.7 L219.3,86.7 L219.7,81.8 L220.0,76.9 L220.3,72.0 L220.7,67.1 L221.2,62.2 L221.7,57.4 L222.3,52.6 L222.9,47.8 L223.6,43.1 L224.3,38.3 L225.1,33.6 L225.9,28.9 L226.9,24.3 L228.0,19.6 L229.3,15.0 L230.7,10.4 L232.3,5.8 L233.9,1.3 L235.7,-3.2 L237.6,-7.7 L239.7,-12.2 L242.0,-16.7 L244.4,-21.1 L246.7,-25.5 L248.5,-29.8 L250.2,-34.1 L252.2,-38.3 L254.9,-42.6 L258.5,-47.0 L263.4,-51.4 L270.0,-56.0 L278.5,-61.0 L288.8,-66.4 L300.4,-72.1 L312.9,-77.8 L326.1,-83.3 L339.4,-88.2 L352.5,-92.3 L365.0,-95.5 L377.2,-97.7 L389.6,-99.0 L402.1,-99.8 L414.6,-100.0 L427.0,-99.7 L439.4,-99.1 L451.6,-98.2 L463.5,-97.2 L475.2,-95.9 L486.7,-94.0 L498.0,-91.7 L509.2,-89.2 L520.3,-86.5 L531.4,-83.9 L542.5,-81.5 L553.5,-79.6 L564.6,-77.8 L575.9,-76.1 L587.2,-74.4 L598.3,-72.9 L609.4,-71.5 L620.1,-70.5 L630.5,-69.7 L640.5,-69.2 L650.0,-69.1 L659.1,-69.3 L667.8,-69.8 L676.3,-70.6 L684.6,-71.6 L692.8,-72.7 L700.9,-74.0 L709.0,-75.4 L717.0,-76.9 L724.8,-78.7 L732.4,-80.6 L739.9,-82.6 L747.4,-84.9 L755.1,-87.2 L762.9,-89.8 L771.1,-92.4 L779.7,-95.4 L788.6,-98.6 L797.8,-102.0 L807.1,-105.5 L816.4,-109.1 L825.4,-112.6 L834.2,-116.0 L842.4,-119.2 L849.9,-122.2 L856.6,-124.8 L862.9,-127.3 L869.0,-129.8 L875.4,-132.4 L882.1,-135.2 L889.7,-138.3 L898.2,-141.9 L908.6,-146.4 L920.8,-151.6 L934.1,-157.3 L947.6,-163.1 L960.7,-168.8 L972.7,-174.0 L982.7,-178.3 L990.0,-181.5"/>
<path d="M-5.0,215.0 L3.3,214.2 L14.7,213.2 L28.2,212.0 L43.1,210.6 L58.6,209.2 L73.8,207.7 L87.8,206.2 L100.0,204.8 L110.7,203.4 L120.8,201.9 L130.4,200.4 L139.4,198.9 L147.9,197.4 L155.8,195.9 L163.2,194.4 L170.0,192.9 L176.2,191.5 L181.8,190.3 L186.8,189.1 L191.3,187.9 L195.3,186.6 L198.9,185.2 L202.1,183.6 L205.0,181.7 L207.4,179.6 L209.2,177.3 L210.5,174.8 L211.5,172.1 L212.2,169.4 L212.7,166.4 L213.3,163.3 L213.9,160.0 L214.6,156.5 L215.1,152.9 L215.5,149.1 L215.8,145.2 L216.0,141.1 L216.3,136.8 L216.5,132.5 L216.7,128.0 L216.9,123.4 L217.0,118.5 L217.1,113.5 L217.2,108.4 L217.3,103.2 L217.4,98.0 L217.5,92.8 L217.7,87.8 L217.9,82.8 L218.1,77.9 L218.4,72.9 L218.6,68.0 L218.9,63.1 L219.3,58.2 L219.7,53.3 L220.2,48.4 L220.7,43.5 L221.3,38.7 L221.8,33.9 L222.5,29.1 L223.2,24.3 L224.0,19.5 L225.0,14.7 L226.2,10.0 L227.5,5.3 L228.9,0.6 L230.4,-4.1 L232.1,-8.8 L233.9,-13.5 L235.8,-18.1 L238.0,-22.8 L240.3,-27.4 L242.4,-32.0 L244.1,-36.5 L245.7,-40.9 L247.6,-45.4 L250.1,-49.8 L253.6,-54.4 L258.5,-59.1 L265.0,-64.0 L273.5,-69.3 L283.7,-75.2 L295.3,-81.3 L307.9,-87.5 L321.0,-93.4 L334.3,-98.8 L347.5,-103.4 L360.0,-107.0 L372.2,-109.6 L384.7,-111.3 L397.2,-112.4 L409.8,-113.0 L422.4,-113.1 L434.8,-112.8 L447.0,-112.2 L459.0,-111.5 L470.7,-110.4 L482.2,-108.7 L493.5,-106.5 L504.7,-104.1 L515.8,-101.6 L526.9,-99.1 L537.9,-96.7 L549.0,-94.7 L560.2,-92.9 L571.6,-91.0 L583.0,-89.1 L594.3,-87.4 L605.5,-85.8 L616.4,-84.5 L626.9,-83.5 L637.0,-82.8 L646.6,-82.5 L655.8,-82.6 L664.6,-82.9 L673.2,-83.5 L681.5,-84.3 L689.7,-85.2 L697.9,-86.4 L706.0,-87.6 L714.0,-89.0 L721.6,-90.5 L729.1,-92.2 L736.5,-94.1 L743.9,-96.2 L751.5,-98.4 L759.3,-100.8 L767.4,-103.3 L776.0,-106.1 L785.1,-109.2 L794.4,-112.5 L803.8,-116.0 L813.2,-119.5 L822.4,-123.0 L831.3,-126.4 L839.6,-129.5 L847.1,-132.3 L853.8,-134.8 L860.1,-137.2 L866.2,-139.6 L872.4,-142.0 L879.2,-144.7 L886.8,-147.7 L895.5,-151.3 L906.1,-155.7 L918.6,-160.9 L932.3,-166.6 L946.2,-172.5 L959.8,-178.2 L972.1,-183.4 L982.4,-187.8 L990.0,-191.0"/>
<path d="M-5.0,202.5 L3.3,201.9 L14.7,201.1 L28.2,200.1 L43.1,199.1 L58.6,197.9 L73.8,196.7 L87.8,195.6 L100.0,194.4 L110.7,193.2 L120.8,192.0 L130.4,190.8 L139.4,189.5 L147.9,188.2 L155.8,187.0 L163.2,185.7 L170.0,184.5 L176.2,183.3 L181.8,182.3 L186.9,181.3 L191.3,180.3 L195.4,179.2 L198.9,178.0 L202.1,176.5 L205.0,174.8 L207.4,172.9 L209.1,170.9 L210.4,168.6 L211.3,166.3 L211.9,163.7 L212.4,161.0 L212.9,158.1 L213.4,155.0 L214.1,151.7 L214.5,148.2 L214.9,144.6 L215.1,140.8 L215.4,136.8 L215.5,132.7 L215.7,128.4 L215.8,124.0 L216.0,119.4 L216.1,114.6 L216.1,109.6 L216.1,104.5 L216.2,99.3 L216.2,94.1 L216.2,89.0 L216.3,83.9 L216.5,78.9 L216.6,73.9 L216.8,69.0 L216.9,64.0 L217.2,59.0 L217.4,54.1 L217.7,49.1 L218.1,44.2 L218.5,39.3 L218.9,34.4 L219.4,29.4 L219.9,24.5 L220.5,19.6 L221.2,14.8 L222.1,9.9 L223.1,5.0 L224.3,0.1 L225.5,-4.7 L226.9,-9.6 L228.4,-14.4 L230.1,-19.2 L231.9,-24.1 L233.9,-28.9 L236.2,-33.7 L238.1,-38.5 L239.7,-43.1 L241.2,-47.7 L243.0,-52.4 L245.4,-57.1 L248.8,-61.9 L253.5,-66.8 L260.0,-72.0 L268.4,-77.7 L278.6,-84.0 L290.2,-90.6 L302.8,-97.2 L315.9,-103.6 L329.3,-109.4 L342.4,-114.5 L355.0,-118.5 L367.3,-121.4 L379.8,-123.6 L392.4,-125.1 L405.1,-126.0 L417.7,-126.5 L430.2,-126.5 L442.5,-126.2 L454.5,-125.8 L466.2,-124.9 L477.7,-123.3 L489.0,-121.4 L500.2,-119.1 L511.2,-116.7 L522.3,-114.2 L533.4,-111.9 L544.5,-109.8 L555.8,-107.9 L567.3,-105.9 L578.8,-103.9 L590.3,-101.9 L601.6,-100.1 L612.6,-98.5 L623.3,-97.3 L633.5,-96.4 L643.2,-95.9 L652.5,-95.8 L661.4,-96.0 L670.0,-96.4 L678.4,-97.0 L686.7,-97.8 L694.9,-98.7 L703.0,-99.8 L710.9,-101.0 L718.5,-102.4 L725.9,-103.9 L733.1,-105.6 L740.4,-107.5 L747.9,-109.5 L755.6,-111.7 L763.7,-114.1 L772.4,-116.8 L781.5,-119.9 L791.0,-123.1 L800.5,-126.5 L810.1,-130.0 L819.4,-133.4 L828.4,-136.7 L836.8,-139.8 L844.3,-142.5 L851.0,-144.9 L857.2,-147.1 L863.3,-149.3 L869.5,-151.6 L876.3,-154.2 L883.9,-157.2 L892.8,-160.7 L903.6,-165.0 L916.4,-170.2 L930.5,-176.0 L944.9,-181.9 L958.8,-187.6 L971.6,-192.9 L982.2,-197.3 L990.0,-200.5"/>
<path d="M-5.0,190.0 L3.3,189.6 L14.7,189.0 L28.2,188.3 L43.1,187.5 L58.6,186.7 L73.8,185.8 L87.8,184.9 L100.0,184.0 L110.7,183.1 L120.8,182.1 L130.4,181.1 L139.4,180.1 L147.9,179.1 L155.8,178.0 L163.2,177.0 L170.0,176.0 L176.2,175.1 L181.8,174.2 L186.9,173.4 L191.4,172.6 L195.4,171.7 L199.0,170.7 L202.2,169.5 L205.0,168.0 L207.3,166.3 L209.0,164.5 L210.2,162.5 L211.1,160.4 L211.6,158.1 L212.1,155.6 L212.5,152.9 L213.0,150.0 L213.6,146.9 L214.0,143.6 L214.3,140.1 L214.5,136.4 L214.7,132.5 L214.8,128.5 L214.9,124.3 L215.0,120.0 L215.1,115.5 L215.1,110.7 L215.1,105.7 L215.1,100.6 L215.0,95.4 L215.0,90.2 L215.0,85.1 L215.0,80.0 L215.1,75.0 L215.1,70.0 L215.2,65.0 L215.2,60.0 L215.4,55.0 L215.5,50.0 L215.7,45.0 L216.0,40.0 L216.3,35.0 L216.6,30.0 L216.9,25.0 L217.3,20.0 L217.8,15.0 L218.4,10.0 L219.1,5.0 L220.0,0.0 L221.0,-5.0 L222.2,-10.0 L223.4,-15.0 L224.8,-20.0 L226.3,-25.0 L228.0,-30.0 L229.9,-35.0 L232.0,-40.0 L233.9,-44.9 L235.3,-49.8 L236.7,-54.6 L238.3,-59.4 L240.6,-64.3 L243.9,-69.3 L248.6,-74.5 L255.0,-80.0 L263.4,-86.0 L273.6,-92.7 L285.1,-99.8 L297.7,-106.9 L310.8,-113.7 L324.2,-120.1 L337.4,-125.6 L350.0,-130.0 L362.3,-133.3 L374.9,-135.9 L387.6,-137.8 L400.3,-139.1 L413.0,-139.8 L425.6,-140.2 L437.9,-140.2 L450.0,-140.0 L461.7,-139.3 L473.2,-138.0 L484.5,-136.2 L495.6,-134.1 L506.7,-131.7 L517.7,-129.3 L528.8,-127.0 L540.0,-125.0 L551.4,-123.0 L563.0,-120.9 L574.6,-118.6 L586.2,-116.4 L597.7,-114.4 L608.9,-112.6 L619.7,-111.1 L630.0,-110.0 L639.8,-109.4 L649.1,-109.0 L658.2,-109.0 L666.9,-109.2 L675.4,-109.7 L683.7,-110.3 L691.9,-111.1 L700.0,-112.0 L707.9,-113.0 L715.4,-114.2 L722.6,-115.5 L729.8,-117.1 L736.9,-118.8 L744.2,-120.6 L751.9,-122.7 L760.0,-125.0 L768.7,-127.6 L777.9,-130.5 L787.5,-133.7 L797.2,-137.1 L807.0,-140.5 L816.4,-143.8 L825.5,-147.0 L834.0,-150.0 L841.6,-152.6 L848.2,-154.9 L854.4,-157.0 L860.4,-159.1 L866.6,-161.3 L873.3,-163.7 L881.0,-166.6 L890.0,-170.0 L901.1,-174.3 L914.2,-179.5 L928.7,-185.3 L943.5,-191.2 L957.9,-197.1 L971.0,-202.3 L982.0,-206.8 L990.0,-210.0"/>
<path d="M-5.0,13.8 L3.3,14.0 L14.7,14.3 L28.2,14.6 L43.1,15.0 L58.6,15.3 L73.8,15.7 L87.8,16.1 L100.0,16.4 L110.6,16.7 L120.5,17.0 L129.9,17.4 L138.8,17.7 L147.1,18.0 L155.1,18.3 L162.7,18.6 L170.0,18.8 L176.9,19.0 L183.2,19.4 L189.1,19.8 L194.7,20.2 L200.0,20.4 L205.0,20.3 L210.0,19.9 L215.0,18.9 L219.8,17.4 L224.1,15.5 L228.2,13.2 L232.2,10.5 L236.2,7.8 L240.4,5.0 L245.0,2.2 L250.0,-0.5 L255.5,-3.0 L261.2,-5.6 L267.2,-8.2 L273.4,-10.8 L279.9,-13.5 L286.4,-16.1 L293.2,-18.7 L300.0,-21.4 L307.0,-24.0 L314.3,-26.7 L321.8,-29.3 L329.4,-31.9 L337.1,-34.6 L344.8,-37.2 L352.4,-39.9 L360.0,-42.5 L367.7,-45.3 L375.7,-48.1 L383.8,-50.9 L391.9,-53.8 L399.7,-56.5 L407.1,-59.1 L413.9,-61.5 L420.0,-63.7 L425.2,-65.5 L429.6,-67.1 L433.4,-68.5 L436.9,-69.7 L440.1,-70.9 L443.2,-72.0 L446.5,-73.2 L450.0,-74.5 L454.0,-75.9 L458.2,-77.4 L462.6,-79.0 L466.9,-80.5 L470.9,-82.0 L474.6,-83.3 L477.7,-84.4 L480.0,-85.2"/>
<path d="M-5.0,25.7 L3.3,25.9 L14.7,26.1 L28.2,26.3 L43.1,26.6 L58.6,26.9 L73.8,27.2 L87.8,27.5 L100.0,27.8 L110.6,28.0 L120.5,28.3 L129.9,28.6 L138.8,28.8 L147.1,29.1 L155.1,29.3 L162.7,29.4 L170.0,29.5 L176.9,29.7 L183.2,30.0 L189.1,30.3 L194.7,30.5 L200.0,30.6 L205.0,30.4 L210.0,29.9 L215.0,28.8 L219.8,27.3 L224.1,25.3 L228.2,22.9 L232.2,20.3 L236.2,17.5 L240.4,14.6 L245.0,11.8 L250.0,9.1 L255.5,6.4 L261.2,3.8 L267.2,1.1 L273.4,-1.7 L279.9,-4.5 L286.4,-7.2 L293.2,-10.0 L300.0,-12.8 L307.0,-15.5 L314.3,-18.3 L321.8,-21.1 L329.4,-23.9 L337.1,-26.7 L344.8,-29.5 L352.4,-32.3 L360.0,-35.1 L367.7,-37.9 L375.7,-40.9 L383.8,-43.9 L391.9,-46.9 L399.7,-49.8 L407.1,-52.6 L413.9,-55.1 L420.0,-57.4 L425.2,-59.3 L429.6,-61.0 L433.4,-62.5 L436.9,-63.8 L440.1,-65.1 L443.2,-66.3 L446.5,-67.6 L450.0,-68.9 L454.0,-70.4 L458.2,-72.1 L462.6,-73.8 L466.9,-75.4 L470.9,-77.0 L474.6,-78.4 L477.7,-79.6 L480.0,-80.5"/>
<path d="M-5.0,37.5 L3.3,37.7 L14.7,37.8 L28.2,38.0 L43.1,38.3 L58.6,38.5 L73.8,38.7 L87.8,39.0 L100.0,39.2 L110.6,39.3 L120.5,39.5 L129.9,39.7 L138.8,39.9 L147.1,40.1 L155.1,40.2 L162.7,40.3 L170.0,40.3 L176.9,40.4 L183.2,40.5 L189.1,40.7 L194.7,40.9 L200.0,40.8 L205.0,40.5 L210.0,39.9 L215.0,38.8 L219.8,37.2 L224.1,35.1 L228.2,32.7 L232.2,30.0 L236.2,27.2 L240.4,24.3 L245.0,21.4 L250.0,18.6 L255.5,15.9 L261.2,13.1 L267.2,10.3 L273.4,7.4 L279.9,4.6 L286.4,1.6 L293.2,-1.3 L300.0,-4.2 L307.0,-7.1 L314.3,-10.0 L321.8,-12.9 L329.4,-15.8 L337.1,-18.8 L344.8,-21.7 L352.4,-24.7 L360.0,-27.6 L367.7,-30.6 L375.7,-33.7 L383.8,-36.9 L391.9,-40.0 L399.7,-43.1 L407.1,-46.0 L413.9,-48.7 L420.0,-51.1 L425.2,-53.1 L429.6,-54.9 L433.4,-56.5 L436.9,-57.9 L440.1,-59.3 L443.2,-60.6 L446.5,-61.9 L450.0,-63.4 L454.0,-65.0 L458.2,-66.8 L462.6,-68.5 L466.9,-70.3 L470.9,-72.0 L474.6,-73.5 L477.7,-74.7 L480.0,-75.7"/>
<path d="M-5.0,49.4 L3.3,49.5 L14.7,49.6 L28.2,49.8 L43.1,49.9 L58.6,50.1 L73.8,50.3 L87.8,50.4 L100.0,50.5 L110.6,50.7 L120.5,50.8 L129.9,50.9 L138.8,51.0 L147.1,51.1 L155.1,51.2 L162.7,51.2 L170.0,51.1 L176.9,51.0 L183.2,51.1 L189.1,51.2 L194.7,51.2 L200.0,51.0 L205.0,50.6 L210.0,49.9 L215.0,48.7 L219.8,47.0 L224.1,44.9 L228.2,42.5 L232.2,39.8 L236.2,36.9 L240.4,33.9 L245.0,31.0 L250.0,28.2 L255.5,25.3 L261.2,22.5 L267.2,19.5 L273.4,16.6 L279.9,13.6 L286.4,10.5 L293.2,7.5 L300.0,4.5 L307.0,1.4 L314.3,-1.6 L321.8,-4.7 L329.4,-7.8 L337.1,-10.9 L344.8,-14.0 L352.4,-17.1 L360.0,-20.2 L367.7,-23.3 L375.7,-26.6 L383.8,-29.9 L391.9,-33.2 L399.7,-36.4 L407.1,-39.4 L413.9,-42.2 L420.0,-44.8 L425.2,-47.0 L429.6,-48.8 L433.4,-50.5 L436.9,-52.0 L440.1,-53.4 L443.2,-54.8 L446.5,-56.3 L450.0,-57.8 L454.0,-59.6 L458.2,-61.4 L462.6,-63.3 L466.9,-65.2 L470.9,-67.0 L474.6,-68.6 L477.7,-69.9 L480.0,-70.9"/>
<path d="M-5.0,61.2 L3.3,61.3 L14.7,61.4 L28.2,61.5 L43.1,61.6 L58.6,61.7 L73.8,61.8 L87.8,61.9 L100.0,61.9 L110.6,62.0 L120.5,62.0 L129.9,62.1 L138.8,62.1 L147.1,62.1 L155.1,62.1 L162.7,62.0 L170.0,61.8 L176.9,61.7 L183.2,61.7 L189.1,61.6 L194.7,61.5 L200.0,61.3 L205.0,60.7 L210.0,59.9 L215.0,58.6 L219.8,56.9 L224.1,54.7 L228.2,52.2 L232.2,49.5 L236.2,46.6 L240.4,43.6 L245.0,40.6 L250.0,37.7 L255.5,34.8 L261.2,31.8 L267.2,28.8 L273.4,25.7 L279.9,22.6 L286.4,19.4 L293.2,16.2 L300.0,13.1 L307.0,9.9 L314.3,6.7 L321.8,3.5 L329.4,0.3 L337.1,-3.0 L344.8,-6.2 L352.4,-9.5 L360.0,-12.7 L367.7,-16.0 L375.7,-19.4 L383.8,-22.9 L391.9,-26.3 L399.7,-29.7 L407.1,-32.9 L413.9,-35.8 L420.0,-38.5 L425.2,-40.8 L429.6,-42.8 L433.4,-44.5 L436.9,-46.1 L440.1,-47.6 L443.2,-49.1 L446.5,-50.7 L450.0,-52.3 L454.0,-54.1 L458.2,-56.1 L462.6,-58.1 L466.9,-60.1 L470.9,-62.0 L474.6,-63.7 L477.7,-65.1 L480.0,-66.2"/>
<path d="M-5.0,73.1 L3.3,73.1 L14.7,73.1 L28.2,73.2 L43.1,73.2 L58.6,73.3 L73.8,73.3 L87.8,73.3 L100.0,73.3 L110.6,73.3 L120.5,73.3 L129.9,73.3 L138.8,73.2 L147.1,73.2 L155.1,73.0 L162.7,72.9 L170.0,72.6 L176.9,72.4 L183.2,72.2 L189.1,72.1 L194.7,71.9 L200.0,71.5 L205.0,70.8 L210.0,69.9 L215.0,68.5 L219.8,66.7 L224.1,64.5 L228.2,62.0 L232.2,59.2 L236.2,56.3 L240.4,53.3 L245.0,50.2 L250.0,47.2 L255.5,44.3 L261.2,41.2 L267.2,38.0 L273.4,34.8 L279.9,31.6 L286.4,28.3 L293.2,25.0 L300.0,21.7 L307.0,18.4 L314.3,15.1 L321.8,11.7 L329.4,8.3 L337.1,4.9 L344.8,1.5 L352.4,-1.9 L360.0,-5.2 L367.7,-8.7 L375.7,-12.2 L383.8,-15.9 L391.9,-19.5 L399.7,-23.0 L407.1,-26.3 L413.9,-29.4 L420.0,-32.2 L425.2,-34.6 L429.6,-36.7 L433.4,-38.5 L436.9,-40.2 L440.1,-41.8 L443.2,-43.4 L446.5,-45.0 L450.0,-46.8 L454.0,-48.7 L458.2,-50.8 L462.6,-52.9 L466.9,-55.0 L470.9,-57.0 L474.6,-58.8 L477.7,-60.3 L480.0,-61.4"/>
<path d="M-5.0,84.9 L3.3,84.9 L14.7,84.9 L28.2,84.9 L43.1,84.9 L58.6,84.9 L73.8,84.8 L87.8,84.8 L100.0,84.7 L110.6,84.6 L120.5,84.5 L129.9,84.4 L138.8,84.3 L147.1,84.2 L155.1,84.0 L162.7,83.7 L170.0,83.4 L176.9,83.1 L183.2,82.8 L189.1,82.5 L194.7,82.2 L200.0,81.7 L205.0,81.0 L210.0,79.9 L215.0,78.5 L219.8,76.6 L224.1,74.3 L228.2,71.8 L232.2,69.0 L236.2,66.0 L240.4,62.9 L245.0,59.8 L250.0,56.8 L255.5,53.7 L261.2,50.5 L267.2,47.3 L273.4,43.9 L279.9,40.6 L286.4,37.1 L293.2,33.7 L300.0,30.3 L307.0,26.9 L314.3,23.4 L321.8,19.9 L329.4,16.4 L337.1,12.8 L344.8,9.3 L352.4,5.8 L360.0,2.2 L367.7,-1.4 L375.7,-5.1 L383.8,-8.9 L391.9,-12.6 L399.7,-16.2 L407.1,-19.7 L413.9,-22.9 L420.0,-25.8 L425.2,-28.4 L429.6,-30.6 L433.4,-32.5 L436.9,-34.3 L440.1,-36.0 L443.2,-37.7 L446.5,-39.4 L450.0,-41.2 L454.0,-43.3 L458.2,-45.4 L462.6,-47.7 L466.9,-49.9 L470.9,-52.0 L474.6,-53.9 L477.7,-55.4 L480.0,-56.6"/>
<path d="M-5.0,96.8 L3.3,96.7 L14.7,96.7 L28.2,96.6 L43.1,96.5 L58.6,96.5 L73.8,96.4 L87.8,96.2 L100.0,96.1 L110.6,95.9 L120.5,95.8 L129.9,95.6 L138.8,95.4 L147.1,95.2 L155.1,94.9 L162.7,94.6 L170.0,94.2 L176.9,93.7 L183.2,93.4 L189.1,93.0 L194.7,92.5 L200.0,91.9 L205.0,91.1 L210.0,89.9 L215.0,88.4 L219.8,86.4 L224.1,84.1 L228.2,81.5 L232.2,78.7 L236.2,75.7 L240.4,72.6 L245.0,69.4 L250.0,66.3 L255.5,63.2 L261.2,59.9 L267.2,56.5 L273.4,53.1 L279.9,49.6 L286.4,46.0 L293.2,42.5 L300.0,38.9 L307.0,35.4 L314.3,31.7 L321.8,28.1 L329.4,24.4 L337.1,20.7 L344.8,17.0 L352.4,13.4 L360.0,9.7 L367.7,5.9 L375.7,2.1 L383.8,-1.8 L391.9,-5.7 L399.7,-9.5 L407.1,-13.2 L413.9,-16.5 L420.0,-19.5 L425.2,-22.2 L429.6,-24.5 L433.4,-26.6 L436.9,-28.4 L440.1,-30.2 L443.2,-32.0 L446.5,-33.8 L450.0,-35.7 L454.0,-37.8 L458.2,-40.1 L462.6,-42.5 L466.9,-44.8 L470.9,-47.0 L474.6,-48.9 L477.7,-50.6 L480.0,-51.8"/>
<path d="M-5.0,108.6 L3.3,108.5 L14.7,108.4 L28.2,108.3 L43.1,108.2 L58.6,108.0 L73.8,107.9 L87.8,107.7 L100.0,107.5 L110.6,107.2 L120.5,107.0 L129.9,106.8 L138.8,106.5 L147.1,106.2 L155.1,105.9 L162.7,105.4 L170.0,104.9 L176.9,104.4 L183.2,103.9 L189.1,103.4 L194.7,102.9 L200.0,102.1 L205.0,101.2 L210.0,99.9 L215.0,98.3 L219.8,96.3 L224.1,93.9 L228.2,91.3 L232.2,88.4 L236.2,85.4 L240.4,82.2 L245.0,79.0 L250.0,75.8 L255.5,72.6 L261.2,69.2 L267.2,65.8 L273.4,62.2 L279.9,58.6 L286.4,54.9 L293.2,51.2 L300.0,47.5 L307.0,43.8 L314.3,40.1 L321.8,36.3 L329.4,32.5 L337.1,28.6 L344.8,24.8 L352.4,21.0 L360.0,17.2 L367.7,13.3 L375.7,9.2 L383.8,5.2 L391.9,1.1 L399.7,-2.8 L407.1,-6.6 L413.9,-10.1 L420.0,-13.2 L425.2,-16.0 L429.6,-18.4 L433.4,-20.6 L436.9,-22.5 L440.1,-24.4 L443.2,-26.2 L446.5,-28.1 L450.0,-30.2 L454.0,-32.4 L458.2,-34.8 L462.6,-37.2 L466.9,-39.7 L470.9,-42.0 L474.6,-44.0 L477.7,-45.8 L480.0,-47.1"/>
<path d="M-5.0,120.5 L3.3,120.3 L14.7,120.2 L28.2,120.0 L43.1,119.9 L58.6,119.6 L73.8,119.4 L87.8,119.1 L100.0,118.8 L110.6,118.6 L120.5,118.3 L129.9,118.0 L138.8,117.6 L147.1,117.3 L155.1,116.8 L162.7,116.3 L170.0,115.7 L176.9,115.1 L183.2,114.5 L189.1,113.9 L194.7,113.2 L200.0,112.3 L205.0,111.3 L210.0,109.9 L215.0,108.2 L219.8,106.2 L224.1,103.8 L228.2,101.1 L232.2,98.2 L236.2,95.1 L240.4,91.9 L245.0,88.7 L250.0,85.4 L255.5,82.1 L261.2,78.6 L267.2,75.0 L273.4,71.3 L279.9,67.6 L286.4,63.8 L293.2,60.0 L300.0,56.2 L307.0,52.3 L314.3,48.4 L321.8,44.5 L329.4,40.5 L337.1,36.5 L344.8,32.6 L352.4,28.6 L360.0,24.6 L367.7,20.6 L375.7,16.4 L383.8,12.2 L391.9,8.0 L399.7,3.9 L407.1,-0.0 L413.9,-3.6 L420.0,-6.9 L425.2,-9.8 L429.6,-12.3 L433.4,-14.6 L436.9,-16.6 L440.1,-18.6 L443.2,-20.5 L446.5,-22.5 L450.0,-24.6 L454.0,-26.9 L458.2,-29.5 L462.6,-32.0 L466.9,-34.6 L470.9,-37.0 L474.6,-39.1 L477.7,-40.9 L480.0,-42.3"/>
<path d="M-5.0,132.3 L3.3,132.2 L14.7,132.0 L28.2,131.8 L43.1,131.5 L58.6,131.2 L73.8,130.9 L87.8,130.6 L100.0,130.2 L110.6,129.9 L120.5,129.5 L129.9,129.1 L138.8,128.7 L147.1,128.3 L155.1,127.8 L162.7,127.2 L170.0,126.5 L176.9,125.7 L183.2,125.1 L189.1,124.3 L194.7,123.5 L200.0,122.6 L205.0,121.4 L210.0,119.9 L215.0,118.2 L219.8,116.0 L224.1,113.6 L228.2,110.8 L232.2,107.9 L236.2,104.8 L240.4,101.6 L245.0,98.3 L250.0,94.9 L255.5,91.5 L261.2,87.9 L267.2,84.2 L273.4,80.4 L279.9,76.6 L286.4,72.6 L293.2,68.7 L300.0,64.8 L307.0,60.8 L314.3,56.8 L321.8,52.7 L329.4,48.6 L337.1,44.4 L344.8,40.3 L352.4,36.2 L360.0,32.1 L367.7,27.9 L375.7,23.6 L383.8,19.2 L391.9,14.8 L399.7,10.6 L407.1,6.6 L413.9,2.8 L420.0,-0.6 L425.2,-3.6 L429.6,-6.2 L433.4,-8.6 L436.9,-10.7 L440.1,-12.8 L443.2,-14.8 L446.5,-16.9 L450.0,-19.1 L454.0,-21.5 L458.2,-24.1 L462.6,-26.8 L466.9,-29.5 L470.9,-32.0 L474.6,-34.2 L477.7,-36.1 L480.0,-37.5"/>
<path d="M-5.0,144.2 L3.3,144.0 L14.7,143.7 L28.2,143.5 L43.1,143.2 L58.6,142.8 L73.8,142.4 L87.8,142.0 L100.0,141.6 L110.6,141.2 L120.5,140.8 L129.9,140.3 L138.8,139.8 L147.1,139.3 L155.1,138.7 L162.7,138.0 L170.0,137.2 L176.9,136.4 L183.2,135.6 L189.1,134.8 L194.7,133.9 L200.0,132.8 L205.0,131.5 L210.0,129.9 L215.0,128.1 L219.8,125.9 L224.1,123.4 L228.2,120.6 L232.2,117.6 L236.2,114.5 L240.4,111.2 L245.0,107.9 L250.0,104.5 L255.5,101.0 L261.2,97.3 L267.2,93.5 L273.4,89.6 L279.9,85.6 L286.4,81.5 L293.2,77.5 L300.0,73.4 L307.0,69.3 L314.3,65.1 L321.8,60.9 L329.4,56.6 L337.1,52.4 L344.8,48.1 L352.4,43.8 L360.0,39.5 L367.7,35.2 L375.7,30.7 L383.8,26.2 L391.9,21.7 L399.7,17.3 L407.1,13.1 L413.9,9.2 L420.0,5.7 L425.2,2.6 L429.6,-0.1 L433.4,-2.6 L436.9,-4.8 L440.1,-7.0 L443.2,-9.1 L446.5,-11.2 L450.0,-13.5 L454.0,-16.1 L458.2,-18.8 L462.6,-21.6 L466.9,-24.4 L470.9,-27.0 L474.6,-29.3 L477.7,-31.3 L480.0,-32.8"/>
<path d="M-5.0,156.0 L3.3,155.8 L14.7,155.5 L28.2,155.2 L43.1,154.8 L58.6,154.4 L73.8,154.0 L87.8,153.5 L100.0,153.0 L110.6,152.5 L120.5,152.0 L129.9,151.5 L138.8,150.9 L147.1,150.3 L155.1,149.6 L162.7,148.9 L170.0,148.0 L176.9,147.1 L183.2,146.2 L189.1,145.2 L194.7,144.2 L200.0,143.0 L205.0,141.6 L210.0,140.0 L215.0,138.0 L219.8,135.7 L224.1,133.2 L228.2,130.4 L232.2,127.4 L236.2,124.2 L240.4,120.9 L245.0,117.5 L250.0,114.0 L255.5,110.4 L261.2,106.6 L267.2,102.7 L273.4,98.7 L279.9,94.6 L286.4,90.4 L293.2,86.2 L300.0,82.0 L307.0,77.8 L314.3,73.5 L321.8,69.1 L329.4,64.7 L337.1,60.3 L344.8,55.8 L352.4,51.4 L360.0,47.0 L367.7,42.5 L375.7,37.9 L383.8,33.2 L391.9,28.6 L399.7,24.0 L407.1,19.7 L413.9,15.7 L420.0,12.0 L425.2,8.8 L429.6,5.9 L433.4,3.4 L436.9,1.1 L440.1,-1.2 L443.2,-3.4 L446.5,-5.6 L450.0,-8.0 L454.0,-10.6 L458.2,-13.5 L462.6,-16.4 L466.9,-19.2 L470.9,-22.0 L474.6,-24.4 L477.7,-26.5 L480.0,-28.0"/>
<path d="M950.0,-10.0 L953.0,-8.6 L957.0,-6.6 L961.6,-4.2 L966.9,-1.6 L972.5,1.0 L978.4,3.6 L984.2,6.0 L990.0,8.0 L995.7,9.7 L1001.6,11.2 L1007.6,12.5 L1013.8,13.8 L1020.1,14.9 L1026.6,16.0 L1033.2,17.0 L1040.0,18.0 L1046.9,19.0 L1053.8,19.9 L1060.9,20.7 L1068.1,21.5 L1075.6,22.2 L1083.4,22.9 L1091.5,23.5 L1100.0,24.0 L1109.0,24.5 L1118.4,24.9 L1128.1,25.2 L1138.1,25.5 L1148.4,25.7 L1158.8,25.9 L1169.4,26.0 L1180.0,26.0 L1190.7,26.0 L1201.7,25.9 L1212.8,25.9 L1224.1,25.7 L1235.4,25.4 L1246.9,25.1 L1258.4,24.6 L1270.0,24.0 L1281.7,23.2 L1293.6,22.3 L1305.7,21.2 L1317.8,20.0 L1329.9,18.8 L1341.8,17.5 L1353.6,16.2 L1365.0,15.0 L1376.7,13.7 L1388.9,12.3 L1401.3,10.9 L1413.4,9.4 L1424.8,8.1 L1435.0,6.8 L1443.5,5.8 L1450.0,5.0"/>
<path d="M945.8,-10.0 L948.9,-8.4 L953.0,-6.2 L957.8,-3.6 L963.2,-0.7 L969.1,2.3 L975.1,5.3 L981.2,8.0 L987.1,10.3 L993.0,12.3 L999.0,14.2 L1005.2,16.0 L1011.5,17.6 L1018.0,19.2 L1024.6,20.7 L1031.4,22.1 L1038.4,23.5 L1045.4,24.9 L1052.5,26.2 L1059.7,27.4 L1067.0,28.6 L1074.6,29.7 L1082.5,30.7 L1090.7,31.7 L1099.4,32.6 L1108.4,33.4 L1117.9,34.2 L1127.7,34.9 L1137.9,35.6 L1148.2,36.2 L1158.7,36.7 L1169.3,37.1 L1180.0,37.4 L1190.8,37.7 L1201.7,37.9 L1212.8,38.1 L1224.1,38.2 L1235.5,38.1 L1246.9,38.0 L1258.4,37.6 L1270.0,37.2 L1281.7,36.5 L1293.6,35.6 L1305.7,34.5 L1317.8,33.3 L1329.9,32.1 L1341.8,30.8 L1353.6,29.5 L1365.0,28.2 L1376.7,26.9 L1388.9,25.5 L1401.3,24.0 L1413.4,22.5 L1424.8,21.1 L1435.0,19.8 L1443.5,18.7 L1450.0,17.9"/>
<path d="M941.6,-10.0 L944.8,-8.2 L949.0,-5.8 L954.0,-2.9 L959.6,0.3 L965.6,3.6 L971.8,6.9 L978.1,10.0 L984.2,12.6 L990.2,15.0 L996.4,17.3 L1002.8,19.5 L1009.3,21.5 L1015.9,23.5 L1022.7,25.4 L1029.7,27.3 L1036.8,29.1 L1043.9,30.8 L1051.1,32.5 L1058.5,34.1 L1065.9,35.7 L1073.7,37.2 L1081.6,38.6 L1090.0,39.9 L1098.7,41.2 L1107.9,42.4 L1117.5,43.5 L1127.4,44.6 L1137.6,45.7 L1148.0,46.6 L1158.6,47.5 L1169.3,48.2 L1180.0,48.8 L1190.8,49.4 L1201.8,49.9 L1212.9,50.3 L1224.1,50.6 L1235.5,50.8 L1246.9,50.8 L1258.5,50.7 L1270.0,50.3 L1281.7,49.7 L1293.6,48.9 L1305.7,47.8 L1317.8,46.6 L1329.9,45.4 L1341.8,44.0 L1353.6,42.7 L1365.0,41.5 L1376.7,40.1 L1388.9,38.7 L1401.3,37.1 L1413.4,35.6 L1424.8,34.1 L1435.0,32.8 L1443.5,31.6 L1450.0,30.8"/>
<path d="M937.4,-10.0 L940.7,-8.0 L945.1,-5.4 L950.2,-2.2 L956.0,1.3 L962.2,4.9 L968.6,8.5 L975.0,11.9 L981.3,15.0 L987.5,17.7 L993.8,20.4 L1000.4,22.9 L1007.0,25.4 L1013.9,27.8 L1020.8,30.2 L1027.9,32.4 L1035.2,34.6 L1042.5,36.8 L1049.8,38.8 L1057.3,40.8 L1064.9,42.8 L1072.7,44.6 L1080.8,46.4 L1089.2,48.1 L1098.1,49.7 L1107.3,51.3 L1117.0,52.9 L1127.0,54.3 L1137.3,55.7 L1147.8,57.0 L1158.5,58.2 L1169.2,59.3 L1180.0,60.3 L1190.8,61.1 L1201.8,61.9 L1212.9,62.5 L1224.2,63.1 L1235.5,63.5 L1247.0,63.7 L1258.5,63.7 L1270.0,63.5 L1281.7,63.0 L1293.6,62.2 L1305.7,61.2 L1317.8,60.0 L1329.9,58.7 L1341.8,57.3 L1353.6,56.0 L1365.0,54.7 L1376.7,53.3 L1388.9,51.8 L1401.3,50.2 L1413.4,48.6 L1424.8,47.1 L1435.0,45.7 L1443.5,44.6 L1450.0,43.7"/>
<path d="M933.2,-10.0 L936.6,-7.9 L941.1,-5.0 L946.4,-1.6 L952.4,2.2 L958.7,6.2 L965.3,10.1 L972.0,13.9 L978.4,17.3 L984.7,20.4 L991.3,23.4 L998.0,26.4 L1004.8,29.3 L1011.8,32.1 L1018.9,34.9 L1026.2,37.6 L1033.5,40.2 L1041.0,42.7 L1048.5,45.2 L1056.0,47.6 L1063.8,49.9 L1071.7,52.1 L1079.9,54.2 L1088.5,56.3 L1097.4,58.3 L1106.8,60.3 L1116.6,62.2 L1126.7,64.0 L1137.1,65.8 L1147.7,67.5 L1158.4,69.0 L1169.2,70.4 L1180.0,71.7 L1190.9,72.8 L1201.9,73.8 L1213.0,74.8 L1224.2,75.5 L1235.6,76.2 L1247.0,76.6 L1258.5,76.7 L1270.0,76.6 L1281.7,76.2 L1293.6,75.5 L1305.7,74.5 L1317.8,73.3 L1329.9,72.0 L1341.8,70.6 L1353.6,69.2 L1365.0,67.9 L1376.7,66.5 L1388.9,65.0 L1401.3,63.4 L1413.4,61.7 L1424.8,60.1 L1435.0,58.7 L1443.5,57.5 L1450.0,56.6"/>
<path d="M929.0,-10.0 L932.5,-7.7 L937.1,-4.6 L942.6,-0.9 L948.7,3.2 L955.3,7.5 L962.1,11.8 L968.9,15.9 L975.5,19.6 L982.0,23.1 L988.7,26.5 L995.6,29.9 L1002.6,33.2 L1009.7,36.5 L1017.0,39.6 L1024.4,42.7 L1031.9,45.7 L1039.5,48.7 L1047.1,51.5 L1054.8,54.3 L1062.7,56.9 L1070.7,59.5 L1079.1,62.1 L1087.7,64.5 L1096.8,66.9 L1106.3,69.2 L1116.1,71.5 L1126.3,73.8 L1136.8,75.9 L1147.5,77.9 L1158.3,79.8 L1169.1,81.6 L1180.0,83.1 L1190.9,84.5 L1201.9,85.8 L1213.0,87.0 L1224.3,88.0 L1235.6,88.8 L1247.0,89.4 L1258.5,89.8 L1270.0,89.8 L1281.7,89.5 L1293.6,88.8 L1305.7,87.8 L1317.8,86.6 L1329.9,85.3 L1341.8,83.9 L1353.6,82.5 L1365.0,81.1 L1376.7,79.7 L1388.9,78.2 L1401.3,76.5 L1413.4,74.8 L1424.8,73.1 L1435.0,71.7 L1443.5,70.4 L1450.0,69.5"/>
<path d="M924.8,-10.0 L928.5,-7.5 L933.2,-4.2 L938.8,-0.2 L945.1,4.1 L951.8,8.7 L958.8,13.4 L965.8,17.8 L972.6,21.9 L979.3,25.8 L986.1,29.6 L993.1,33.4 L1000.3,37.1 L1007.6,40.8 L1015.1,44.4 L1022.7,47.9 L1030.3,51.3 L1038.0,54.6 L1045.8,57.8 L1053.6,61.0 L1061.6,64.0 L1069.8,67.0 L1078.2,69.9 L1087.0,72.7 L1096.1,75.5 L1105.7,78.2 L1115.7,80.9 L1126.0,83.5 L1136.6,86.0 L1147.3,88.4 L1158.2,90.6 L1169.1,92.7 L1180.0,94.5 L1190.9,96.2 L1202.0,97.8 L1213.1,99.2 L1224.3,100.5 L1235.6,101.5 L1247.0,102.3 L1258.5,102.8 L1270.0,103.0 L1281.7,102.7 L1293.6,102.1 L1305.7,101.1 L1317.8,99.9 L1329.9,98.6 L1341.8,97.1 L1353.6,95.7 L1365.0,94.4 L1376.7,92.9 L1388.9,91.3 L1401.3,89.6 L1413.4,87.8 L1424.8,86.2 L1435.0,84.6 L1443.5,83.4 L1450.0,82.4"/>
<path d="M920.6,-10.0 L924.4,-7.3 L929.2,-3.8 L935.0,0.4 L941.5,5.1 L948.4,10.0 L955.6,15.0 L962.7,19.8 L969.7,24.3 L976.5,28.4 L983.6,32.6 L990.7,36.8 L998.1,41.0 L1005.6,45.1 L1013.2,49.1 L1020.9,53.0 L1028.7,56.8 L1036.6,60.5 L1044.4,64.1 L1052.4,67.7 L1060.5,71.1 L1068.8,74.5 L1077.4,77.8 L1086.2,81.0 L1095.5,84.1 L1105.2,87.1 L1115.2,90.2 L1125.6,93.2 L1136.3,96.1 L1147.1,98.8 L1158.1,101.4 L1169.1,103.8 L1180.0,105.9 L1191.0,107.9 L1202.0,109.7 L1213.1,111.4 L1224.3,112.9 L1235.6,114.2 L1247.0,115.2 L1258.5,115.8 L1270.0,116.1 L1281.7,116.0 L1293.6,115.4 L1305.7,114.5 L1317.8,113.3 L1329.9,111.9 L1341.8,110.4 L1353.6,109.0 L1365.0,107.6 L1376.7,106.1 L1388.9,104.5 L1401.3,102.7 L1413.4,100.9 L1424.8,99.2 L1435.0,97.6 L1443.5,96.3 L1450.0,95.3"/>
<path d="M916.5,-10.0 L920.3,-7.2 L925.3,-3.4 L931.2,1.1 L937.8,6.1 L945.0,11.3 L952.3,16.6 L959.7,21.8 L966.8,26.6 L973.8,31.1 L981.0,35.7 L988.3,40.3 L995.8,44.9 L1003.5,49.4 L1011.3,53.8 L1019.1,58.2 L1027.1,62.4 L1035.1,66.5 L1043.1,70.5 L1051.2,74.4 L1059.4,78.2 L1067.8,81.9 L1076.5,85.6 L1085.5,89.2 L1094.8,92.6 L1104.6,96.1 L1114.8,99.5 L1125.3,102.9 L1136.0,106.1 L1146.9,109.3 L1158.0,112.2 L1169.0,114.9 L1180.0,117.4 L1191.0,119.6 L1202.0,121.7 L1213.2,123.7 L1224.4,125.4 L1235.7,126.9 L1247.0,128.0 L1258.5,128.9 L1270.0,129.3 L1281.7,129.2 L1293.6,128.7 L1305.7,127.8 L1317.8,126.6 L1329.9,125.2 L1341.8,123.7 L1353.6,122.2 L1365.0,120.8 L1376.7,119.3 L1388.9,117.7 L1401.3,115.8 L1413.4,114.0 L1424.8,112.2 L1435.0,110.6 L1443.5,109.2 L1450.0,108.2"/>
<path d="M912.3,-10.0 L916.2,-7.0 L921.3,-3.0 L927.4,1.7 L934.2,7.0 L941.5,12.6 L949.1,18.3 L956.6,23.8 L963.9,28.9 L971.0,33.8 L978.4,38.8 L985.9,43.8 L993.6,48.8 L1001.4,53.7 L1009.3,58.6 L1017.4,63.3 L1025.5,67.9 L1033.6,72.4 L1041.8,76.8 L1050.0,81.1 L1058.3,85.3 L1066.9,89.4 L1075.6,93.4 L1084.7,97.4 L1094.2,101.2 L1104.1,105.0 L1114.3,108.8 L1124.9,112.6 L1135.8,116.2 L1146.8,119.7 L1157.9,123.0 L1169.0,126.0 L1180.0,128.8 L1191.0,131.3 L1202.1,133.7 L1213.2,135.9 L1224.4,137.9 L1235.7,139.6 L1247.1,140.9 L1258.5,141.9 L1270.0,142.5 L1281.7,142.5 L1293.6,142.0 L1305.7,141.1 L1317.8,139.9 L1329.9,138.5 L1341.8,137.0 L1353.6,135.5 L1365.0,134.0 L1376.7,132.5 L1388.9,130.8 L1401.3,129.0 L1413.4,127.1 L1424.8,125.2 L1435.0,123.6 L1443.5,122.2 L1450.0,121.1"/>
<path d="M908.1,-10.0 L912.1,-6.8 L917.3,-2.6 L923.6,2.4 L930.6,8.0 L938.1,13.9 L945.8,19.9 L953.5,25.7 L961.0,31.2 L968.3,36.5 L975.8,41.9 L983.5,47.3 L991.4,52.7 L999.3,58.0 L1007.4,63.3 L1015.6,68.5 L1023.9,73.5 L1032.1,78.3 L1040.4,83.1 L1048.8,87.8 L1057.2,92.4 L1065.9,96.9 L1074.8,101.3 L1084.0,105.6 L1093.5,109.8 L1103.5,114.0 L1113.9,118.2 L1124.6,122.3 L1135.5,126.3 L1146.6,130.2 L1157.7,133.8 L1168.9,137.2 L1180.0,140.2 L1191.0,143.0 L1202.1,145.7 L1213.3,148.1 L1224.5,150.3 L1235.7,152.2 L1247.1,153.8 L1258.5,154.9 L1270.0,155.6 L1281.7,155.7 L1293.6,155.3 L1305.7,154.4 L1317.8,153.2 L1329.9,151.8 L1341.8,150.2 L1353.6,148.7 L1365.0,147.3 L1376.7,145.7 L1388.9,144.0 L1401.3,142.1 L1413.4,140.1 L1424.8,138.2 L1435.0,136.5 L1443.5,135.1 L1450.0,134.0"/>
<path d="M903.9,-10.0 L908.0,-6.7 L913.4,-2.2 L919.8,3.1 L927.0,8.9 L934.6,15.2 L942.5,21.5 L950.4,27.7 L958.1,33.5 L965.6,39.2 L973.3,44.9 L981.1,50.7 L989.1,56.6 L997.3,62.3 L1005.5,68.0 L1013.9,73.6 L1022.3,79.0 L1030.7,84.3 L1039.1,89.4 L1047.6,94.5 L1056.1,99.5 L1064.9,104.3 L1073.9,109.1 L1083.2,113.8 L1092.9,118.4 L1103.0,122.9 L1113.5,127.5 L1124.2,132.0 L1135.2,136.4 L1146.4,140.6 L1157.6,144.6 L1168.9,148.3 L1180.0,151.6 L1191.1,154.7 L1202.2,157.6 L1213.3,160.3 L1224.5,162.8 L1235.8,164.9 L1247.1,166.6 L1258.5,168.0 L1270.0,168.8 L1281.7,169.0 L1293.6,168.6 L1305.7,167.8 L1317.8,166.5 L1329.9,165.1 L1341.8,163.5 L1353.6,161.9 L1365.0,160.5 L1376.7,158.9 L1388.9,157.1 L1401.3,155.2 L1413.4,153.2 L1424.8,151.3 L1435.0,149.5 L1443.5,148.0 L1450.0,146.9"/>
<path d="M899.7,-10.0 L903.9,-6.5 L909.4,-1.8 L916.0,3.7 L923.3,9.9 L931.2,16.4 L939.3,23.1 L947.4,29.7 L955.2,35.9 L962.8,41.9 L970.7,48.0 L978.7,54.2 L986.9,60.4 L995.2,66.7 L1003.6,72.8 L1012.1,78.8 L1020.6,84.6 L1029.2,90.2 L1037.7,95.8 L1046.3,101.2 L1055.1,106.6 L1064.0,111.8 L1073.1,117.0 L1082.5,122.0 L1092.3,127.0 L1102.4,131.9 L1113.0,136.8 L1123.9,141.7 L1135.0,146.5 L1146.2,151.0 L1157.5,155.4 L1168.8,159.4 L1180.0,163.0 L1191.1,166.4 L1202.2,169.6 L1213.4,172.6 L1224.5,175.3 L1235.8,177.6 L1247.1,179.5 L1258.5,181.0 L1270.0,181.9 L1281.7,182.2 L1293.6,181.9 L1305.7,181.1 L1317.8,179.9 L1329.9,178.4 L1341.8,176.8 L1353.6,175.2 L1365.0,173.7 L1376.7,172.2 L1388.9,170.3 L1401.3,168.3 L1413.4,166.3 L1424.8,164.3 L1435.0,162.5 L1443.5,160.9 L1450.0,159.8"/>
<path d="M895.5,-10.0 L899.8,-6.3 L905.5,-1.4 L912.2,4.4 L919.7,10.9 L927.7,17.7 L936.0,24.8 L944.3,31.7 L952.3,38.2 L960.1,44.6 L968.1,51.1 L976.3,57.7 L984.7,64.3 L993.1,71.0 L1001.7,77.5 L1010.3,83.9 L1019.0,90.1 L1027.7,96.2 L1036.4,102.1 L1045.1,107.9 L1054.0,113.7 L1063.0,119.3 L1072.2,124.8 L1081.7,130.2 L1091.6,135.5 L1101.9,140.8 L1112.6,146.2 L1123.5,151.4 L1134.7,156.5 L1146.0,161.5 L1157.4,166.2 L1168.8,170.5 L1180.0,174.5 L1191.1,178.1 L1202.3,181.6 L1213.4,184.8 L1224.6,187.7 L1235.8,190.3 L1247.1,192.4 L1258.5,194.0 L1270.0,195.1 L1281.7,195.5 L1293.6,195.2 L1305.7,194.4 L1317.8,193.2 L1329.9,191.7 L1341.8,190.1 L1353.6,188.4 L1365.0,186.9 L1376.7,185.4 L1388.9,183.5 L1401.3,181.4 L1413.4,179.3 L1424.8,177.3 L1435.0,175.4 L1443.5,173.9 L1450.0,172.7"/>
<path d="M891.3,-10.0 L895.7,-6.1 L901.5,-1.0 L908.4,5.0 L916.1,11.8 L924.3,19.0 L932.8,26.4 L941.2,33.6 L949.4,40.5 L957.3,47.2 L965.5,54.1 L973.9,61.2 L982.4,68.2 L991.1,75.3 L999.8,82.2 L1008.6,89.1 L1017.4,95.7 L1026.2,102.1 L1035.1,108.4 L1043.9,114.6 L1052.9,120.7 L1062.0,126.7 L1071.4,132.6 L1081.0,138.4 L1091.0,144.1 L1101.3,149.8 L1112.1,155.5 L1123.2,161.1 L1134.5,166.6 L1145.9,171.9 L1157.3,177.0 L1168.7,181.6 L1180.0,185.9 L1191.2,189.8 L1202.3,193.5 L1213.5,197.0 L1224.6,200.2 L1235.8,202.9 L1247.1,205.3 L1258.5,207.1 L1270.0,208.3 L1281.7,208.7 L1293.6,208.5 L1305.7,207.7 L1317.8,206.5 L1329.9,205.0 L1341.8,203.4 L1353.6,201.7 L1365.0,200.2 L1376.7,198.6 L1388.9,196.6 L1401.3,194.5 L1413.4,192.4 L1424.8,190.3 L1435.0,188.4 L1443.5,186.8 L1450.0,185.6"/>
<path d="M887.1,-10.0 L891.6,-6.0 L897.5,-0.6 L904.6,5.7 L912.4,12.8 L920.9,20.3 L929.5,28.0 L938.1,35.6 L946.5,42.8 L954.6,49.9 L963.0,57.2 L971.5,64.6 L980.2,72.1 L989.0,79.6 L997.9,87.0 L1006.8,94.2 L1015.8,101.2 L1024.8,108.0 L1033.7,114.7 L1042.7,121.3 L1051.8,127.8 L1061.0,134.2 L1070.5,140.5 L1080.2,146.7 L1090.3,152.7 L1100.8,158.8 L1111.7,164.8 L1122.8,170.8 L1134.2,176.7 L1145.7,182.4 L1157.2,187.7 L1168.7,192.7 L1180.0,197.3 L1191.2,201.5 L1202.4,205.5 L1213.5,209.2 L1224.7,212.6 L1235.9,215.6 L1247.1,218.1 L1258.5,220.1 L1270.0,221.4 L1281.7,222.0 L1293.6,221.8 L1305.7,221.1 L1317.8,219.8 L1329.9,218.3 L1341.8,216.6 L1353.6,214.9 L1365.0,213.4 L1376.7,211.8 L1388.9,209.8 L1401.3,207.7 L1413.4,205.5 L1424.8,203.3 L1435.0,201.4 L1443.5,199.7 L1450.0,198.5"/>
<path d="M882.9,-10.0 L887.5,-5.8 L893.6,-0.2 L900.8,6.4 L908.8,13.7 L917.4,21.6 L926.3,29.6 L935.1,37.6 L943.5,45.2 L951.9,52.6 L960.4,60.3 L969.1,68.1 L977.9,76.0 L986.9,83.9 L996.0,91.7 L1005.1,99.4 L1014.2,106.8 L1023.3,114.0 L1032.4,121.1 L1041.5,128.0 L1050.7,134.9 L1060.1,141.7 L1069.6,148.3 L1079.5,154.9 L1089.7,161.3 L1100.3,167.7 L1111.2,174.1 L1122.5,180.5 L1133.9,186.8 L1145.5,192.8 L1157.1,198.5 L1168.6,203.9 L1180.0,208.7 L1191.2,213.2 L1202.4,217.5 L1213.6,221.5 L1224.7,225.1 L1235.9,228.3 L1247.2,231.0 L1258.5,233.1 L1270.0,234.6 L1281.7,235.3 L1293.6,235.1 L1305.7,234.4 L1317.8,233.2 L1329.9,231.6 L1341.8,229.9 L1353.6,228.2 L1365.0,226.6 L1376.7,225.0 L1388.9,223.0 L1401.3,220.8 L1413.4,218.5 L1424.8,216.3 L1435.0,214.3 L1443.5,212.7 L1450.0,211.5"/>
<path d="M878.7,-10.0 L883.4,-5.6 L889.6,0.2 L897.0,7.0 L905.2,14.7 L914.0,22.9 L923.0,31.2 L932.0,39.6 L940.6,47.5 L949.1,55.3 L957.8,63.3 L966.7,71.6 L975.7,79.9 L984.8,88.2 L994.0,96.5 L1003.3,104.5 L1012.6,112.3 L1021.8,119.9 L1031.0,127.4 L1040.3,134.8 L1049.6,142.0 L1059.1,149.1 L1068.8,156.2 L1078.8,163.1 L1089.0,169.9 L1099.7,176.7 L1110.8,183.5 L1122.1,190.2 L1133.7,196.9 L1145.3,203.3 L1157.0,209.3 L1168.6,215.0 L1180.0,220.1 L1191.3,224.9 L1202.5,229.5 L1213.6,233.7 L1224.7,237.6 L1235.9,241.0 L1247.2,243.9 L1258.5,246.1 L1270.0,247.7 L1281.7,248.5 L1293.6,248.4 L1305.7,247.7 L1317.8,246.5 L1329.9,244.9 L1341.8,243.2 L1353.6,241.4 L1365.0,239.8 L1376.7,238.2 L1388.9,236.1 L1401.3,233.9 L1413.4,231.6 L1424.8,229.4 L1435.0,227.3 L1443.5,225.6 L1450.0,224.4"/>
<path d="M874.5,-10.0 L879.3,-5.4 L885.6,0.6 L893.2,7.7 L901.6,15.6 L910.5,24.1 L919.8,32.9 L928.9,41.5 L937.7,49.8 L946.4,58.0 L955.2,66.4 L964.3,75.1 L973.5,83.8 L982.8,92.5 L992.1,101.2 L1001.5,109.7 L1011.0,117.9 L1020.3,125.9 L1029.7,133.7 L1039.1,141.5 L1048.5,149.1 L1058.1,156.6 L1067.9,164.0 L1078.0,171.3 L1088.4,178.5 L1099.2,185.6 L1110.3,192.8 L1121.8,200.0 L1133.4,207.0 L1145.1,213.7 L1156.9,220.1 L1168.5,226.1 L1180.0,231.5 L1191.3,236.6 L1202.5,241.4 L1213.6,245.9 L1224.8,250.0 L1236.0,253.7 L1247.2,256.7 L1258.5,259.2 L1270.0,260.9 L1281.7,261.8 L1293.6,261.7 L1305.7,261.0 L1317.8,259.8 L1329.9,258.2 L1341.8,256.5 L1353.6,254.7 L1365.0,253.1 L1376.7,251.4 L1388.9,249.3 L1401.3,247.0 L1413.4,244.7 L1424.8,242.4 L1435.0,240.3 L1443.5,238.5 L1450.0,237.3"/>
<path d="M870.3,-10.0 L875.2,-5.3 L881.7,0.9 L889.4,8.3 L897.9,16.6 L907.1,25.4 L916.5,34.5 L925.9,43.5 L934.8,52.1 L943.6,60.7 L952.7,69.5 L961.9,78.5 L971.2,87.7 L980.7,96.8 L990.2,105.9 L999.8,114.8 L1009.4,123.4 L1018.9,131.8 L1028.4,140.0 L1037.9,148.2 L1047.4,156.2 L1057.2,164.1 L1067.1,171.8 L1077.3,179.5 L1087.7,187.0 L1098.6,194.6 L1109.9,202.1 L1121.4,209.7 L1133.1,217.0 L1145.0,224.1 L1156.8,230.9 L1168.5,237.2 L1180.0,243.0 L1191.3,248.3 L1202.5,253.4 L1213.7,258.2 L1224.8,262.5 L1236.0,266.3 L1247.2,269.6 L1258.5,272.2 L1270.0,274.1 L1281.7,275.0 L1293.6,275.0 L1305.7,274.4 L1317.8,273.1 L1329.9,271.5 L1341.8,269.7 L1353.6,267.9 L1365.0,266.3 L1376.7,264.6 L1388.9,262.5 L1401.3,260.1 L1413.4,257.7 L1424.8,255.4 L1435.0,253.3 L1443.5,251.5 L1450.0,250.2"/>
<path d="M866.1,-10.0 L871.1,-5.1 L877.7,1.3 L885.5,9.0 L894.3,17.6 L903.6,26.7 L913.2,36.1 L922.8,45.5 L931.9,54.5 L940.9,63.3 L950.1,72.6 L959.5,82.0 L969.0,91.6 L978.6,101.2 L988.3,110.7 L998.0,120.0 L1007.7,129.0 L1017.4,137.7 L1027.0,146.4 L1036.6,154.9 L1046.4,163.3 L1056.2,171.5 L1066.2,179.7 L1076.5,187.7 L1087.1,195.6 L1098.1,203.5 L1109.4,211.5 L1121.1,219.4 L1132.9,227.1 L1144.8,234.6 L1156.7,241.7 L1168.4,248.3 L1180.0,254.4 L1191.4,260.0 L1202.6,265.4 L1213.7,270.4 L1224.9,275.0 L1236.0,279.0 L1247.2,282.5 L1258.5,285.2 L1270.0,287.2 L1281.7,288.3 L1293.6,288.4 L1305.7,287.7 L1317.8,286.5 L1329.9,284.8 L1341.8,283.0 L1353.6,281.2 L1365.0,279.5 L1376.7,277.8 L1388.9,275.6 L1401.3,273.3 L1413.4,270.8 L1424.8,268.4 L1435.0,266.2 L1443.5,264.4 L1450.0,263.1"/>
<path d="M861.9,-10.0 L867.0,-4.9 L873.8,1.7 L881.7,9.7 L890.7,18.5 L900.2,28.0 L910.0,37.7 L919.7,47.4 L929.0,56.8 L938.2,66.0 L947.5,75.6 L957.1,85.5 L966.8,95.5 L976.5,105.5 L986.4,115.4 L996.3,125.1 L1006.1,134.5 L1015.9,143.7 L1025.7,152.7 L1035.4,161.6 L1045.3,170.4 L1055.2,179.0 L1065.4,187.5 L1075.8,195.9 L1086.5,204.2 L1097.5,212.5 L1109.0,220.8 L1120.7,229.1 L1132.6,237.2 L1144.6,245.0 L1156.6,252.5 L1168.4,259.5 L1180.0,265.8 L1191.4,271.7 L1202.6,277.3 L1213.8,282.6 L1224.9,287.4 L1236.0,291.7 L1247.2,295.3 L1258.5,298.3 L1270.0,300.4 L1281.7,301.5 L1293.6,301.7 L1305.7,301.0 L1317.8,299.8 L1329.9,298.1 L1341.8,296.3 L1353.6,294.4 L1365.0,292.7 L1376.7,291.0 L1388.9,288.8 L1401.3,286.4 L1413.4,283.9 L1424.8,281.4 L1435.0,279.2 L1443.5,277.3 L1450.0,276.0"/>
<path d="M857.7,-10.0 L862.9,-4.8 L869.8,2.1 L877.9,10.3 L887.0,19.5 L896.7,29.3 L906.7,39.4 L916.6,49.4 L926.1,59.1 L935.4,68.7 L945.0,78.7 L954.7,89.0 L964.5,99.4 L974.5,109.8 L984.5,120.1 L994.5,130.3 L1004.5,140.1 L1014.5,149.6 L1024.3,159.0 L1034.2,168.3 L1044.2,177.5 L1054.2,186.5 L1064.5,195.4 L1075.0,204.1 L1085.8,212.8 L1097.0,221.4 L1108.5,230.1 L1120.4,238.8 L1132.4,247.3 L1144.4,255.5 L1156.4,263.3 L1168.3,270.6 L1180.0,277.2 L1191.4,283.4 L1202.7,289.3 L1213.8,294.8 L1224.9,299.9 L1236.1,304.4 L1247.2,308.2 L1258.5,311.3 L1270.0,313.5 L1281.7,314.8 L1293.6,315.0 L1305.7,314.3 L1317.8,313.1 L1329.9,311.4 L1341.8,309.6 L1353.6,307.7 L1365.0,306.0 L1376.7,304.2 L1388.9,302.0 L1401.3,299.5 L1413.4,296.9 L1424.8,294.4 L1435.0,292.2 L1443.5,290.3 L1450.0,288.9"/>
<path d="M853.5,-10.0 L858.9,-4.6 L865.8,2.5 L874.1,11.0 L883.4,20.4 L893.3,30.6 L903.5,41.0 L913.6,51.4 L923.2,61.4 L932.7,71.4 L942.4,81.8 L952.3,92.4 L962.3,103.2 L972.4,114.1 L982.6,124.9 L992.8,135.4 L1002.9,145.6 L1013.0,155.5 L1023.0,165.3 L1033.0,175.0 L1043.1,184.5 L1053.3,193.9 L1063.7,203.2 L1074.3,212.3 L1085.2,221.4 L1096.4,230.4 L1108.1,239.5 L1120.0,248.5 L1132.1,257.4 L1144.2,265.9 L1156.3,274.1 L1168.3,281.7 L1180.0,288.6 L1191.4,295.1 L1202.7,301.3 L1213.9,307.1 L1225.0,312.4 L1236.1,317.1 L1247.3,321.1 L1258.5,324.3 L1270.0,326.7 L1281.7,328.0 L1293.6,328.3 L1305.7,327.7 L1317.8,326.4 L1329.9,324.7 L1341.8,322.8 L1353.6,320.9 L1365.0,319.2 L1376.7,317.4 L1388.9,315.1 L1401.3,312.6 L1413.4,310.0 L1424.8,307.5 L1435.0,305.1 L1443.5,303.2 L1450.0,301.8"/>
<path d="M849.4,-10.0 L854.8,-4.4 L861.9,2.9 L870.3,11.7 L879.8,21.4 L889.9,31.8 L900.2,42.6 L910.5,53.4 L920.3,63.7 L929.9,74.1 L939.8,84.8 L949.9,95.9 L960.0,107.1 L970.3,118.4 L980.7,129.6 L991.0,140.6 L1001.3,151.2 L1011.5,161.5 L1021.7,171.7 L1031.8,181.7 L1042.0,191.6 L1052.3,201.4 L1062.8,211.1 L1073.5,220.6 L1084.5,229.9 L1095.9,239.3 L1107.7,248.8 L1119.7,258.2 L1131.8,267.4 L1144.1,276.4 L1156.2,284.9 L1168.2,292.8 L1180.0,300.1 L1191.5,306.8 L1202.8,313.3 L1213.9,319.3 L1225.0,324.8 L1236.1,329.7 L1247.3,334.0 L1258.5,337.4 L1270.0,339.9 L1281.7,341.3 L1293.6,341.6 L1305.7,341.0 L1317.8,339.7 L1329.9,338.0 L1341.8,336.1 L1353.6,334.2 L1365.0,332.4 L1376.7,330.6 L1388.9,328.3 L1401.3,325.7 L1413.4,323.1 L1424.8,320.5 L1435.0,318.1 L1443.5,316.1 L1450.0,314.7"/>
<path d="M845.2,-10.0 L850.7,-4.2 L857.9,3.3 L866.5,12.3 L876.1,22.4 L886.4,33.1 L897.0,44.2 L907.4,55.3 L917.4,66.1 L927.2,76.8 L937.2,87.9 L947.4,99.4 L957.8,111.0 L968.2,122.7 L978.7,134.3 L989.2,145.7 L999.7,156.7 L1010.0,167.4 L1020.3,178.0 L1030.6,188.4 L1040.9,198.7 L1051.3,208.9 L1061.9,218.9 L1072.8,228.8 L1083.9,238.5 L1095.4,248.3 L1107.2,258.1 L1119.3,267.9 L1131.6,277.5 L1143.9,286.8 L1156.1,295.7 L1168.2,303.9 L1180.0,311.5 L1191.5,318.5 L1202.8,325.2 L1214.0,331.5 L1225.1,337.3 L1236.2,342.4 L1247.3,346.8 L1258.6,350.4 L1270.0,353.0 L1281.7,354.5 L1293.6,354.9 L1305.7,354.3 L1317.8,353.1 L1329.9,351.3 L1341.8,349.4 L1353.6,347.4 L1365.0,345.6 L1376.7,343.8 L1388.9,341.5 L1401.3,338.9 L1413.4,336.2 L1424.8,333.5 L1435.0,331.1 L1443.5,329.0 L1450.0,327.6"/>
<path d="M841.0,-10.0 L846.6,-4.1 L853.9,3.7 L862.7,13.0 L872.5,23.3 L883.0,34.4 L893.7,45.9 L904.3,57.3 L914.5,68.4 L924.5,79.4 L934.7,91.0 L945.0,102.9 L955.6,114.9 L966.2,127.0 L976.8,139.1 L987.5,150.9 L998.1,162.3 L1008.6,173.4 L1019.0,184.3 L1029.4,195.1 L1039.8,205.8 L1050.4,216.3 L1061.1,226.7 L1072.0,237.0 L1083.2,247.1 L1094.8,257.2 L1106.8,267.4 L1119.0,277.6 L1131.3,287.6 L1143.7,297.3 L1156.0,306.4 L1168.1,315.0 L1180.0,322.9 L1191.5,330.2 L1202.9,337.2 L1214.0,343.7 L1225.1,349.7 L1236.2,355.1 L1247.3,359.7 L1258.6,363.4 L1270.0,366.2 L1281.7,367.8 L1293.6,368.2 L1305.7,367.6 L1317.8,366.4 L1329.9,364.7 L1341.8,362.7 L1353.6,360.7 L1365.0,358.9 L1376.7,357.0 L1388.9,354.6 L1401.3,352.0 L1413.4,349.2 L1424.8,346.5 L1435.0,344.0 L1443.5,342.0 L1450.0,340.5"/>
<path d="M836.8,-10.0 L842.5,-3.9 L850.0,4.1 L858.9,13.6 L868.9,24.3 L879.5,35.7 L890.4,47.5 L901.3,59.3 L911.6,70.7 L921.7,82.1 L932.1,94.0 L942.6,106.3 L953.3,118.8 L964.1,131.4 L974.9,143.8 L985.7,156.0 L996.5,167.8 L1007.1,179.3 L1017.6,190.6 L1028.2,201.8 L1038.7,212.9 L1049.4,223.8 L1060.2,234.6 L1071.3,245.2 L1082.6,255.7 L1094.3,266.2 L1106.3,276.8 L1118.6,287.3 L1131.0,297.7 L1143.5,307.7 L1155.9,317.2 L1168.1,326.2 L1180.0,334.3 L1191.6,341.9 L1202.9,349.2 L1214.1,356.0 L1225.2,362.2 L1236.2,367.8 L1247.3,372.6 L1258.6,376.5 L1270.0,379.4 L1281.7,381.0 L1293.6,381.5 L1305.7,381.0 L1317.8,379.7 L1329.9,378.0 L1341.8,375.9 L1353.6,373.9 L1365.0,372.1 L1376.7,370.2 L1388.9,367.8 L1401.3,365.1 L1413.4,362.3 L1424.8,359.5 L1435.0,357.0 L1443.5,354.9 L1450.0,353.4"/>
<path d="M832.6,-10.0 L838.4,-3.7 L846.0,4.5 L855.1,14.3 L865.3,25.2 L876.1,37.0 L887.2,49.1 L898.2,61.3 L908.7,73.0 L919.0,84.8 L929.5,97.1 L940.2,109.8 L951.1,122.7 L962.0,135.7 L973.0,148.5 L984.0,161.1 L994.8,173.4 L1005.6,185.2 L1016.3,197.0 L1026.9,208.5 L1037.6,220.0 L1048.4,231.3 L1059.4,242.4 L1070.5,253.4 L1081.9,264.3 L1093.7,275.1 L1105.9,286.1 L1118.3,297.0 L1130.8,307.8 L1143.3,318.1 L1155.8,328.0 L1168.1,337.3 L1180.0,345.7 L1191.6,353.6 L1202.9,361.1 L1214.1,368.2 L1225.2,374.7 L1236.2,380.5 L1247.3,385.4 L1258.6,389.5 L1270.0,392.5 L1281.7,394.3 L1293.6,394.8 L1305.7,394.3 L1317.8,393.0 L1329.9,391.3 L1341.8,389.2 L1353.6,387.2 L1365.0,385.3 L1376.7,383.4 L1388.9,381.0 L1401.3,378.2 L1413.4,375.4 L1424.8,372.6 L1435.0,370.0 L1443.5,367.8 L1450.0,366.3"/>
<path d="M828.4,-10.0 L834.3,-3.5 L842.1,4.9 L851.3,15.0 L861.6,26.2 L872.6,38.3 L883.9,50.7 L895.1,63.2 L905.8,75.4 L916.3,87.5 L926.9,100.2 L937.8,113.3 L948.9,126.6 L960.0,140.0 L971.1,153.3 L982.2,166.3 L993.2,178.9 L1004.1,191.2 L1014.9,203.3 L1025.7,215.3 L1036.6,227.1 L1047.5,238.7 L1058.5,250.3 L1069.8,261.6 L1081.3,272.8 L1093.2,284.1 L1105.4,295.4 L1117.9,306.7 L1130.5,317.8 L1143.2,328.6 L1155.7,338.8 L1168.0,348.4 L1180.0,357.2 L1191.6,365.3 L1203.0,373.1 L1214.2,380.4 L1225.2,387.1 L1236.3,393.1 L1247.4,398.3 L1258.6,402.5 L1270.0,405.7 L1281.7,407.5 L1293.6,408.1 L1305.7,407.6 L1317.8,406.4 L1329.9,404.6 L1341.8,402.5 L1353.6,400.4 L1365.0,398.5 L1376.7,396.6 L1388.9,394.1 L1401.3,391.3 L1413.4,388.4 L1424.8,385.6 L1435.0,383.0 L1443.5,380.8 L1450.0,379.2"/>
<path d="M824.2,-10.0 L830.2,-3.4 L838.1,5.3 L847.5,15.6 L858.0,27.2 L869.2,39.5 L880.7,52.4 L892.0,65.2 L902.9,77.7 L913.5,90.2 L924.4,103.3 L935.4,116.8 L946.6,130.5 L957.9,144.3 L969.2,158.0 L980.4,171.4 L991.6,184.5 L1002.7,197.1 L1013.6,209.6 L1024.5,222.0 L1035.5,234.2 L1046.5,246.2 L1057.7,258.1 L1069.0,269.8 L1080.6,281.4 L1092.6,293.0 L1105.0,304.8 L1117.6,316.4 L1130.3,327.9 L1143.0,339.0 L1155.6,349.6 L1168.0,359.5 L1180.0,368.6 L1191.7,377.0 L1203.0,385.1 L1214.2,392.6 L1225.3,399.6 L1236.3,405.8 L1247.4,411.2 L1258.6,415.6 L1270.0,418.8 L1281.7,420.8 L1293.6,421.4 L1305.7,420.9 L1317.8,419.7 L1329.9,417.9 L1341.8,415.8 L1353.6,413.7 L1365.0,411.8 L1376.7,409.8 L1388.9,407.3 L1401.3,404.5 L1413.4,401.5 L1424.8,398.6 L1435.0,395.9 L1443.5,393.7 L1450.0,392.1"/>
<path d="M820.0,-10.0 L826.1,-3.2 L834.1,5.7 L843.7,16.3 L854.4,28.1 L865.8,40.8 L877.4,54.0 L889.0,67.2 L900.0,80.0 L910.8,92.9 L921.8,106.3 L933.0,120.2 L944.4,134.4 L955.8,148.6 L967.3,162.7 L978.7,176.6 L990.0,190.0 L1001.2,203.0 L1012.3,215.9 L1023.3,228.7 L1034.4,241.2 L1045.5,253.7 L1056.8,265.9 L1068.3,278.0 L1080.0,290.0 L1092.1,302.0 L1104.5,314.1 L1117.2,326.2 L1130.0,338.0 L1142.8,349.5 L1155.5,360.4 L1167.9,370.6 L1180.0,380.0 L1191.7,388.7 L1203.1,397.1 L1214.3,404.9 L1225.3,412.1 L1236.3,418.5 L1247.4,424.0 L1258.6,428.6 L1270.0,432.0 L1281.7,434.0 L1293.6,434.7 L1305.7,434.3 L1317.8,433.0 L1329.9,431.2 L1341.8,429.0 L1353.6,426.9 L1365.0,425.0 L1376.7,423.0 L1388.9,420.4 L1401.3,417.6 L1413.4,414.6 L1424.8,411.6 L1435.0,408.9 L1443.5,406.6 L1450.0,405.0"/>
</g>
<g fill="none" stroke="#ffffff" stroke-width="1" clip-path="url(#clipLow)" opacity="0.15">
<path d="M-5.0,440.0 L3.3,436.3 L14.7,431.4 L28.2,425.5 L43.1,418.9 L58.6,412.0 L73.8,405.1 L87.8,398.3 L100.0,392.0 L110.7,386.0 L120.8,380.0 L130.4,374.0 L139.4,368.0 L147.9,362.1 L155.8,356.2 L163.2,350.5 L170.0,345.0 L176.2,339.8 L181.6,334.9 L186.5,330.1 L190.8,325.5 L194.7,320.8 L198.3,315.9 L201.7,310.7 L205.0,305.0 L208.0,298.8 L210.7,292.2 L213.0,285.3 L215.1,278.1 L216.9,270.9 L218.7,263.8 L220.3,256.7 L222.0,250.0 L223.6,243.5 L225.0,237.0 L226.3,230.5 L227.4,224.2 L228.6,217.9 L229.7,211.8 L230.8,205.8 L232.0,200.0 L233.2,194.3 L234.4,188.8 L235.5,183.3 L236.6,178.0 L237.8,172.8 L239.1,167.8 L240.5,162.8 L242.0,158.0 L243.7,153.3 L245.4,148.7 L247.2,144.2 L249.1,139.9 L251.2,135.7 L253.3,131.6 L255.6,127.7 L258.0,124.0 L260.6,120.5 L263.2,117.1 L266.0,113.8 L268.9,110.8 L272.0,107.8 L275.2,105.1 L278.5,102.5 L282.0,100.0 L285.6,97.7 L289.5,95.6 L293.4,93.7 L297.5,91.9 L301.7,90.2 L306.0,88.7 L310.5,87.3 L315.0,86.0 L319.3,84.7 L323.2,83.3 L327.1,82.0 L331.1,80.9 L335.7,80.0 L341.0,79.5 L347.3,79.5 L355.0,80.0 L364.3,81.1 L375.0,82.6 L386.8,84.5 L399.4,86.8 L412.3,89.5 L425.3,92.6 L438.0,96.1 L450.0,100.0 L461.5,104.5 L472.9,109.8 L484.1,115.6 L495.3,121.7 L506.5,127.9 L517.6,134.0 L528.8,139.8 L540.0,145.0 L551.4,150.0 L563.0,155.2 L574.6,160.4 L586.2,165.3 L597.7,169.7 L608.9,173.5 L619.7,176.3 L630.0,178.0 L639.8,178.4 L649.1,177.8 L658.2,176.2 L666.9,173.9 L675.4,171.2 L683.7,168.1 L691.9,165.0 L700.0,162.0 L707.9,159.0 L715.4,155.7 L722.6,152.2 L729.8,148.5 L736.9,144.6 L744.2,140.5 L751.9,136.3 L760.0,132.0 L768.7,127.5 L777.9,122.6 L787.5,117.6 L797.2,112.4 L807.0,107.2 L816.4,102.0 L825.5,96.9 L834.0,92.0 L841.9,87.2 L849.3,82.6 L856.4,77.9 L863.2,73.4 L869.9,68.8 L876.5,64.2 L883.2,59.7 L890.0,55.0 L897.0,50.3 L904.1,45.5 L911.1,40.8 L918.2,36.0 L925.2,31.2 L932.0,26.5 L938.6,21.7 L945.0,17.0 L951.4,12.1 L958.0,6.8 L964.6,1.4 L970.9,-3.9 L976.9,-8.9 L982.1,-13.4 L986.6,-17.2 L990.0,-20.0"/>
<path d="M-5.0,427.5 L3.3,424.0 L14.7,419.2 L28.2,413.6 L43.1,407.4 L58.6,400.8 L73.8,394.1 L87.8,387.6 L100.0,381.6 L110.7,375.9 L120.8,370.1 L130.4,364.4 L139.4,358.6 L147.9,352.9 L155.8,347.3 L163.2,341.9 L170.0,336.6 L176.2,331.5 L181.6,326.8 L186.5,322.3 L190.8,317.9 L194.8,313.3 L198.4,308.6 L201.7,303.6 L205.0,298.1 L208.0,292.2 L210.6,285.8 L212.9,279.1 L214.9,272.2 L216.7,265.3 L218.3,258.3 L219.9,251.5 L221.6,245.0 L223.1,238.6 L224.4,232.3 L225.7,226.0 L226.8,219.8 L227.9,213.7 L228.9,207.7 L230.0,201.8 L231.2,196.0 L232.3,190.4 L233.4,184.8 L234.5,179.4 L235.5,174.1 L236.7,168.9 L237.9,163.9 L239.2,158.9 L240.7,154.1 L242.2,149.4 L243.9,144.8 L245.6,140.3 L247.4,135.9 L249.4,131.6 L251.4,127.5 L253.6,123.6 L255.9,119.8 L258.3,116.2 L260.9,112.7 L263.6,109.4 L266.4,106.2 L269.3,103.2 L272.3,100.3 L275.5,97.6 L278.9,95.0 L282.4,92.6 L286.1,90.3 L289.9,88.2 L293.9,86.3 L297.9,84.5 L302.1,82.8 L306.5,81.2 L310.9,79.7 L315.0,78.2 L318.8,76.7 L322.5,75.2 L326.5,73.9 L330.9,72.8 L336.1,72.0 L342.4,71.8 L350.0,72.0 L359.2,72.7 L369.9,73.8 L381.7,75.3 L394.3,77.1 L407.3,79.4 L420.3,82.0 L433.0,85.0 L445.0,88.5 L456.5,92.6 L468.0,97.5 L479.3,102.9 L490.6,108.6 L501.8,114.5 L513.0,120.3 L524.2,125.8 L535.5,130.8 L546.9,135.6 L558.5,140.6 L570.1,145.6 L581.7,150.3 L593.2,154.7 L604.3,158.3 L615.2,161.1 L625.5,162.8 L635.4,163.4 L644.8,162.8 L654.0,161.5 L662.8,159.4 L671.5,156.9 L679.9,154.1 L688.3,151.2 L696.5,148.4 L704.5,145.6 L712.1,142.5 L719.4,139.2 L726.6,135.6 L733.8,131.9 L741.2,128.0 L748.9,124.0 L757.0,119.8 L765.7,115.4 L774.8,110.8 L784.3,105.9 L793.9,101.0 L803.5,95.9 L812.8,90.9 L821.8,85.9 L830.3,81.2 L838.2,76.5 L845.7,71.9 L852.9,67.4 L859.9,62.9 L866.7,58.4 L873.5,53.8 L880.3,49.3 L887.2,44.8 L894.2,40.1 L901.3,35.5 L908.3,30.9 L915.3,26.2 L922.2,21.6 L929.0,16.9 L935.7,12.3 L942.2,7.7 L948.9,2.8 L955.8,-2.5 L962.8,-7.9 L969.6,-13.2 L975.9,-18.3 L981.6,-22.8 L986.4,-26.6 L990.0,-29.5"/>
<path d="M-5.0,415.0 L3.3,411.6 L14.7,407.1 L28.2,401.8 L43.1,395.8 L58.6,389.5 L73.8,383.1 L87.8,376.9 L100.0,371.2 L110.7,365.7 L120.8,360.2 L130.4,354.7 L139.4,349.2 L147.9,343.8 L155.8,338.4 L163.2,333.2 L170.0,328.1 L176.2,323.3 L181.7,318.8 L186.5,314.5 L190.9,310.2 L194.8,305.9 L198.4,301.4 L201.8,296.6 L205.0,291.3 L208.0,285.6 L210.5,279.4 L212.7,273.0 L214.7,266.3 L216.4,259.6 L218.0,252.9 L219.5,246.4 L221.1,240.0 L222.6,233.8 L223.9,227.6 L225.1,221.5 L226.1,215.4 L227.2,209.4 L228.2,203.5 L229.2,197.7 L230.3,192.0 L231.4,186.4 L232.4,180.9 L233.4,175.6 L234.5,170.3 L235.5,165.1 L236.7,160.0 L237.9,155.0 L239.3,150.2 L240.8,145.5 L242.4,140.8 L244.0,136.3 L245.7,131.9 L247.6,127.6 L249.5,123.4 L251.6,119.4 L253.8,115.6 L256.1,111.9 L258.6,108.4 L261.1,104.9 L263.8,101.7 L266.6,98.5 L269.5,95.6 L272.6,92.7 L275.8,90.0 L279.2,87.4 L282.7,85.0 L286.4,82.8 L290.2,80.7 L294.2,78.7 L298.2,76.8 L302.4,75.1 L306.7,73.4 L310.7,71.7 L314.4,70.0 L318.0,68.4 L321.8,66.9 L326.2,65.6 L331.3,64.6 L337.4,64.1 L345.0,64.0 L354.2,64.4 L364.9,65.1 L376.6,66.1 L389.2,67.4 L402.2,69.2 L415.2,71.4 L427.9,74.0 L440.0,77.0 L451.6,80.7 L463.1,85.2 L474.5,90.2 L485.8,95.6 L497.1,101.1 L508.4,106.6 L519.7,111.8 L531.0,116.5 L542.4,121.1 L554.0,125.9 L565.6,130.7 L577.2,135.4 L588.6,139.6 L599.8,143.2 L610.6,146.0 L621.0,147.7 L630.9,148.3 L640.5,147.9 L649.8,146.7 L658.8,144.9 L667.6,142.6 L676.2,140.1 L684.6,137.4 L693.0,134.8 L701.1,132.2 L708.8,129.2 L716.2,126.1 L723.5,122.7 L730.8,119.2 L738.2,115.4 L745.9,111.6 L754.0,107.6 L762.6,103.4 L771.7,99.0 L781.0,94.3 L790.5,89.5 L799.9,84.6 L809.2,79.8 L818.2,75.0 L826.6,70.3 L834.6,65.8 L842.2,61.3 L849.5,56.8 L856.6,52.3 L863.6,47.9 L870.5,43.4 L877.4,39.0 L884.4,34.5 L891.4,30.0 L898.5,25.5 L905.5,21.0 L912.4,16.5 L919.3,12.0 L926.1,7.4 L932.9,2.9 L939.5,-1.7 L946.4,-6.6 L953.6,-11.8 L961.0,-17.2 L968.2,-22.6 L975.0,-27.7 L981.0,-32.3 L986.1,-36.1 L990.0,-39.0"/>
<path d="M-5.0,402.5 L3.3,399.3 L14.7,395.0 L28.2,389.9 L43.1,384.2 L58.6,378.2 L73.8,372.2 L87.8,366.3 L100.0,360.8 L110.7,355.6 L120.8,350.3 L130.4,345.1 L139.4,339.8 L147.9,334.6 L155.8,329.5 L163.2,324.5 L170.0,319.6 L176.2,315.1 L181.7,310.8 L186.5,306.6 L190.9,302.6 L194.8,298.4 L198.4,294.1 L201.8,289.5 L205.0,284.4 L207.9,278.9 L210.4,273.0 L212.6,266.8 L214.5,260.5 L216.1,254.0 L217.7,247.5 L219.2,241.2 L220.7,235.0 L222.1,229.0 L223.3,223.0 L224.5,217.0 L225.5,211.0 L226.5,205.1 L227.4,199.3 L228.4,193.6 L229.4,188.0 L230.5,182.5 L231.5,177.0 L232.4,171.7 L233.4,166.4 L234.4,161.2 L235.5,156.1 L236.6,151.2 L237.9,146.3 L239.4,141.6 L240.8,136.9 L242.4,132.3 L244.0,127.9 L245.8,123.6 L247.6,119.4 L249.6,115.3 L251.7,111.4 L253.9,107.6 L256.2,104.0 L258.7,100.5 L261.2,97.1 L263.9,93.9 L266.7,90.8 L269.6,87.8 L272.7,85.0 L276.0,82.3 L279.4,79.8 L282.9,77.4 L286.6,75.1 L290.4,72.9 L294.3,70.9 L298.4,69.0 L302.6,67.1 L306.5,65.2 L310.0,63.4 L313.5,61.5 L317.2,59.8 L321.4,58.4 L326.4,57.2 L332.5,56.4 L340.0,56.0 L349.1,56.0 L359.8,56.3 L371.6,56.9 L384.1,57.8 L397.1,59.0 L410.1,60.7 L422.9,62.9 L435.0,65.5 L446.6,68.8 L458.2,72.9 L469.6,77.6 L481.1,82.6 L492.5,87.7 L503.8,92.9 L515.2,97.8 L526.5,102.2 L537.9,106.6 L549.5,111.3 L561.1,115.9 L572.7,120.4 L584.1,124.5 L595.2,128.1 L606.1,130.8 L616.5,132.6 L626.5,133.2 L636.2,133.0 L645.6,132.0 L654.8,130.4 L663.7,128.3 L672.5,126.0 L681.0,123.6 L689.5,121.2 L697.7,118.7 L705.4,116.0 L712.9,113.0 L720.3,109.8 L727.7,106.5 L735.2,102.9 L742.9,99.2 L751.0,95.4 L759.6,91.4 L768.6,87.1 L777.8,82.6 L787.1,78.0 L796.4,73.3 L805.6,68.6 L814.5,64.0 L822.9,59.5 L830.9,55.0 L838.6,50.6 L846.0,46.2 L853.3,41.8 L860.4,37.4 L867.5,33.0 L874.5,28.6 L881.6,24.2 L888.7,19.9 L895.7,15.5 L902.6,11.1 L909.5,6.7 L916.4,2.3 L923.2,-2.1 L930.0,-6.5 L936.8,-11.1 L943.9,-15.9 L951.4,-21.1 L959.2,-26.6 L966.8,-32.0 L974.0,-37.1 L980.5,-41.7 L985.9,-45.6 L990.0,-48.5"/>
<path d="M-5.0,390.0 L3.3,386.9 L14.7,382.9 L28.2,378.0 L43.1,372.7 L58.6,367.0 L73.8,361.2 L87.8,355.6 L100.0,350.4 L110.7,345.4 L120.8,340.4 L130.4,335.4 L139.4,330.4 L147.9,325.5 L155.8,320.6 L163.2,315.8 L170.0,311.2 L176.2,306.8 L181.7,302.7 L186.6,298.8 L190.9,294.9 L194.9,291.0 L198.5,286.9 L201.8,282.4 L205.0,277.6 L207.9,272.3 L210.4,266.6 L212.4,260.7 L214.3,254.6 L215.9,248.3 L217.3,242.1 L218.8,236.0 L220.2,230.0 L221.6,224.1 L222.8,218.3 L223.9,212.4 L224.8,206.6 L225.8,200.9 L226.7,195.2 L227.6,189.5 L228.6,184.0 L229.6,178.5 L230.5,173.1 L231.4,167.8 L232.3,162.5 L233.3,157.3 L234.3,152.2 L235.4,147.3 L236.6,142.4 L237.9,137.6 L239.3,133.0 L240.8,128.4 L242.3,123.9 L244.0,119.5 L245.7,115.3 L247.6,111.2 L249.6,107.2 L251.7,103.4 L253.9,99.7 L256.2,96.1 L258.6,92.6 L261.1,89.3 L263.8,86.0 L266.6,83.0 L269.6,80.0 L272.7,77.2 L276.0,74.5 L279.4,71.9 L283.0,69.5 L286.6,67.2 L290.4,65.0 L294.4,62.8 L298.4,60.8 L302.2,58.8 L305.6,56.7 L309.0,54.7 L312.6,52.8 L316.7,51.1 L321.6,49.7 L327.6,48.7 L335.0,48.0 L344.1,47.7 L354.7,47.5 L366.5,47.6 L379.0,48.1 L392.0,48.9 L405.1,50.1 L417.9,51.8 L430.0,54.0 L441.7,56.9 L453.3,60.6 L464.8,64.9 L476.3,69.5 L487.8,74.4 L499.2,79.2 L510.6,83.8 L522.0,88.0 L533.5,92.2 L545.0,96.6 L556.6,101.1 L568.1,105.4 L579.5,109.4 L590.7,112.9 L601.5,115.6 L612.0,117.4 L622.1,118.2 L631.9,118.0 L641.4,117.2 L650.8,115.9 L659.8,114.1 L668.7,112.0 L677.4,109.8 L686.0,107.6 L694.3,105.3 L702.1,102.8 L709.7,100.0 L717.2,96.9 L724.6,93.7 L732.1,90.4 L739.9,86.8 L748.0,83.2 L756.5,79.4 L765.4,75.3 L774.5,71.0 L783.7,66.5 L792.9,62.0 L802.0,57.5 L810.8,53.0 L819.2,48.6 L827.2,44.3 L835.0,39.9 L842.6,35.6 L850.0,31.3 L857.3,27.0 L864.5,22.6 L871.6,18.3 L878.8,14.0 L885.9,9.7 L892.9,5.5 L899.8,1.2 L906.6,-3.0 L913.4,-7.3 L920.2,-11.6 L927.1,-15.9 L934.0,-20.4 L941.3,-25.2 L949.3,-30.5 L957.4,-35.9 L965.5,-41.3 L973.1,-46.5 L979.9,-51.2 L985.7,-55.1 L990.0,-58.0"/>
<path d="M-5.0,377.5 L3.3,374.6 L14.7,370.8 L28.2,366.2 L43.1,361.1 L58.6,355.7 L73.8,350.2 L87.8,344.9 L100.0,340.0 L110.7,335.3 L120.8,330.5 L130.4,325.8 L139.4,321.0 L147.9,316.3 L155.8,311.7 L163.2,307.2 L170.0,302.8 L176.2,298.6 L181.7,294.7 L186.6,291.0 L191.0,287.3 L194.9,283.5 L198.5,279.6 L201.8,275.4 L205.0,270.8 L207.9,265.7 L210.3,260.3 L212.3,254.6 L214.1,248.7 L215.6,242.7 L217.0,236.7 L218.4,230.8 L219.8,225.0 L221.1,219.3 L222.2,213.6 L223.3,207.9 L224.2,202.2 L225.1,196.6 L225.9,191.0 L226.8,185.5 L227.8,180.0 L228.7,174.6 L229.5,169.2 L230.4,163.9 L231.2,158.7 L232.1,153.5 L233.1,148.4 L234.1,143.4 L235.2,138.5 L236.5,133.7 L237.8,129.0 L239.2,124.4 L240.7,119.9 L242.2,115.5 L243.9,111.2 L245.6,107.0 L247.5,103.0 L249.5,99.1 L251.6,95.3 L253.7,91.6 L256.0,88.1 L258.4,84.6 L261.0,81.3 L263.7,78.1 L266.5,75.0 L269.5,72.0 L272.6,69.2 L275.9,66.5 L279.3,63.9 L282.9,61.4 L286.5,59.0 L290.3,56.7 L294.2,54.5 L297.9,52.3 L301.2,50.1 L304.5,47.9 L307.9,45.8 L311.9,43.9 L316.7,42.3 L322.6,41.0 L330.0,40.0 L339.1,39.3 L349.6,38.8 L361.4,38.4 L374.0,38.4 L387.0,38.7 L400.0,39.5 L412.8,40.7 L425.0,42.5 L436.7,45.0 L448.4,48.4 L460.0,52.2 L471.6,56.5 L483.1,61.0 L494.6,65.5 L506.1,69.8 L517.5,73.8 L529.0,77.7 L540.5,81.9 L552.1,86.3 L563.6,90.5 L575.0,94.4 L586.1,97.8 L597.0,100.5 L607.5,102.2 L617.7,103.1 L627.6,103.1 L637.3,102.5 L646.7,101.3 L655.9,99.8 L665.0,98.0 L673.8,96.0 L682.5,94.0 L690.9,91.9 L698.8,89.5 L706.5,86.9 L714.0,84.1 L721.5,81.0 L729.1,77.8 L736.9,74.5 L745.0,71.0 L753.5,67.3 L762.3,63.4 L771.3,59.3 L780.4,55.1 L789.4,50.7 L798.4,46.4 L807.1,42.0 L815.5,37.8 L823.6,33.5 L831.5,29.3 L839.2,25.0 L846.7,20.8 L854.1,16.5 L861.5,12.2 L868.8,8.0 L876.0,3.8 L883.1,-0.4 L890.1,-4.6 L896.9,-8.7 L903.7,-12.8 L910.5,-16.9 L917.3,-21.1 L924.2,-25.4 L931.2,-29.8 L938.8,-34.5 L947.1,-39.8 L955.6,-45.3 L964.1,-50.7 L972.1,-55.9 L979.4,-60.6 L985.4,-64.6 L990.0,-67.5"/>
<path d="M-5.0,365.0 L3.3,362.3 L14.7,358.6 L28.2,354.3 L43.1,349.5 L58.6,344.4 L73.8,339.3 L87.8,334.3 L100.0,329.6 L110.7,325.1 L120.8,320.7 L130.4,316.1 L139.4,311.6 L147.9,307.2 L155.8,302.8 L163.2,298.5 L170.0,294.3 L176.2,290.4 L181.7,286.7 L186.6,283.1 L191.0,279.6 L194.9,276.1 L198.5,272.3 L201.9,268.3 L205.0,263.9 L207.8,259.1 L210.2,253.9 L212.2,248.4 L213.9,242.8 L215.3,237.1 L216.7,231.3 L218.0,225.6 L219.3,220.0 L220.6,214.5 L221.7,208.9 L222.7,203.4 L223.6,197.8 L224.4,192.3 L225.2,186.8 L226.0,181.4 L226.9,176.0 L227.8,170.7 L228.6,165.3 L229.4,160.0 L230.2,154.8 L231.0,149.6 L231.8,144.5 L232.8,139.5 L233.9,134.6 L235.1,129.8 L236.3,125.1 L237.6,120.5 L239.0,115.9 L240.4,111.5 L242.0,107.1 L243.6,102.9 L245.4,98.8 L247.3,94.8 L249.2,90.9 L251.3,87.2 L253.5,83.5 L255.7,80.0 L258.1,76.5 L260.7,73.2 L263.4,70.0 L266.3,66.9 L269.3,63.9 L272.4,61.1 L275.7,58.3 L279.1,55.7 L282.6,53.1 L286.3,50.6 L290.1,48.2 L293.7,45.8 L296.8,43.4 L299.9,41.0 L303.3,38.8 L307.2,36.7 L311.9,34.9 L317.7,33.3 L325.0,32.0 L334.0,30.9 L344.6,30.0 L356.3,29.2 L368.9,28.7 L381.9,28.5 L395.0,28.8 L407.8,29.6 L420.0,31.0 L431.7,33.2 L443.5,36.1 L455.2,39.6 L466.8,43.5 L478.4,47.6 L490.0,51.7 L501.5,55.8 L513.0,59.5 L524.5,63.2 L536.0,67.3 L547.6,71.4 L559.1,75.5 L570.4,79.3 L581.6,82.6 L592.4,85.3 L603.0,87.1 L613.3,88.0 L623.3,88.2 L633.1,87.8 L642.7,86.8 L652.1,85.5 L661.2,83.9 L670.2,82.2 L679.0,80.4 L687.5,78.5 L695.5,76.3 L703.3,73.8 L710.9,71.2 L718.4,68.3 L726.1,65.3 L733.9,62.1 L742.0,58.8 L750.5,55.3 L759.2,51.6 L768.0,47.7 L777.0,43.6 L785.9,39.4 L794.8,35.2 L803.4,31.0 L811.8,26.9 L819.9,22.8 L827.9,18.6 L835.7,14.4 L843.4,10.2 L851.0,6.0 L858.5,1.8 L865.9,-2.4 L873.2,-6.5 L880.4,-10.6 L887.3,-14.6 L894.1,-18.6 L900.8,-22.5 L907.6,-26.5 L914.4,-30.6 L921.3,-34.8 L928.5,-39.1 L936.3,-43.8 L944.9,-49.1 L953.8,-54.6 L962.7,-60.1 L971.2,-65.3 L978.8,-70.1 L985.2,-74.0 L990.0,-77.0"/>
<path d="M-5.0,352.5 L3.3,349.9 L14.7,346.5 L28.2,342.5 L43.1,337.9 L58.6,333.2 L73.8,328.3 L87.8,323.6 L100.0,319.2 L110.7,315.0 L120.8,310.8 L130.4,306.5 L139.4,302.2 L147.9,298.0 L155.8,293.9 L163.2,289.8 L170.0,285.9 L176.2,282.1 L181.7,278.6 L186.6,275.3 L191.0,272.0 L195.0,268.6 L198.6,265.1 L201.9,261.3 L205.0,257.1 L207.8,252.4 L210.1,247.5 L212.0,242.3 L213.7,236.9 L215.1,231.4 L216.4,225.9 L217.6,220.4 L218.8,215.0 L220.1,209.7 L221.1,204.3 L222.1,198.9 L222.9,193.5 L223.7,188.0 L224.5,182.7 L225.2,177.3 L226.1,172.0 L226.9,166.7 L227.6,161.4 L228.4,156.2 L229.1,150.9 L229.8,145.7 L230.6,140.6 L231.5,135.6 L232.6,130.7 L233.6,125.9 L234.8,121.2 L236.0,116.5 L237.3,111.9 L238.6,107.4 L240.1,103.0 L241.6,98.8 L243.3,94.6 L245.1,90.5 L246.9,86.6 L248.8,82.7 L250.9,79.0 L253.0,75.3 L255.3,71.8 L257.7,68.3 L260.3,65.0 L263.0,61.8 L265.9,58.6 L268.9,55.6 L272.1,52.7 L275.3,49.9 L278.7,47.2 L282.3,44.5 L285.9,41.9 L289.4,39.3 L292.4,36.7 L295.4,34.2 L298.6,31.8 L302.4,29.5 L307.0,27.4 L312.8,25.6 L320.0,24.0 L329.0,22.6 L339.5,21.2 L351.2,20.0 L363.8,19.0 L376.8,18.4 L389.9,18.2 L402.8,18.5 L415.0,19.5 L426.8,21.3 L438.6,23.8 L450.3,26.9 L462.1,30.4 L473.8,34.2 L485.4,38.0 L497.0,41.8 L508.5,45.2 L520.0,48.8 L531.6,52.6 L543.1,56.6 L554.5,60.5 L565.9,64.2 L577.0,67.5 L587.9,70.1 L598.5,72.0 L608.8,72.9 L619.0,73.3 L628.9,73.0 L638.7,72.3 L648.2,71.2 L657.5,69.9 L666.6,68.4 L675.5,66.8 L684.0,65.1 L692.2,63.1 L700.1,60.8 L707.7,58.3 L715.4,55.6 L723.0,52.7 L730.9,49.7 L739.0,46.6 L747.4,43.3 L756.0,39.7 L764.8,36.0 L773.6,32.1 L782.4,28.1 L791.2,24.1 L799.7,20.0 L808.1,16.1 L816.3,12.1 L824.3,8.0 L832.3,3.9 L840.1,-0.3 L847.8,-4.4 L855.5,-8.6 L863.0,-12.7 L870.4,-16.8 L877.6,-20.7 L884.5,-24.6 L891.3,-28.4 L898.0,-32.3 L904.6,-36.1 L911.4,-40.1 L918.5,-44.2 L925.8,-48.5 L933.8,-53.2 L942.7,-58.4 L952.0,-63.9 L961.3,-69.5 L970.2,-74.7 L978.2,-79.5 L985.0,-83.5 L990.0,-86.5"/>
<path d="M-5.0,340.0 L3.3,337.6 L14.7,334.4 L28.2,330.6 L43.1,326.4 L58.6,321.9 L73.8,317.3 L87.8,312.9 L100.0,308.8 L110.7,304.9 L120.8,300.9 L130.4,296.9 L139.4,292.9 L147.9,288.9 L155.8,285.0 L163.2,281.1 L170.0,277.4 L176.2,273.9 L181.7,270.6 L186.6,267.5 L191.0,264.4 L195.0,261.2 L198.6,257.8 L201.9,254.2 L205.0,250.2 L207.8,245.8 L210.0,241.1 L211.9,236.2 L213.5,231.0 L214.8,225.8 L216.0,220.5 L217.2,215.2 L218.4,210.0 L219.6,204.8 L220.6,199.6 L221.5,194.3 L222.3,189.1 L223.0,183.8 L223.7,178.5 L224.4,173.2 L225.2,168.0 L226.0,162.8 L226.7,157.5 L227.3,152.3 L228.0,147.0 L228.7,141.9 L229.4,136.7 L230.3,131.7 L231.2,126.8 L232.2,122.0 L233.3,117.2 L234.4,112.5 L235.6,107.9 L236.8,103.4 L238.2,99.0 L239.6,94.6 L241.2,90.4 L242.9,86.3 L244.6,82.2 L246.4,78.3 L248.3,74.5 L250.3,70.7 L252.5,67.0 L254.7,63.5 L257.2,60.0 L259.8,56.6 L262.5,53.4 L265.4,50.2 L268.4,47.1 L271.6,44.1 L274.8,41.2 L278.3,38.4 L281.8,35.6 L285.1,32.8 L288.0,30.1 L290.9,27.4 L294.0,24.8 L297.6,22.3 L302.2,20.0 L307.8,17.9 L315.0,16.0 L323.9,14.2 L334.4,12.5 L346.1,10.8 L358.7,9.3 L371.7,8.2 L384.9,7.5 L397.8,7.4 L410.0,8.0 L421.8,9.4 L433.7,11.5 L445.5,14.2 L457.3,17.4 L469.1,20.8 L480.8,24.3 L492.4,27.8 L504.0,31.0 L515.5,34.3 L527.1,37.9 L538.6,41.8 L550.0,45.6 L561.3,49.2 L572.4,52.4 L583.4,55.0 L594.0,56.8 L604.4,57.9 L614.7,58.3 L624.7,58.3 L634.6,57.8 L644.3,57.0 L653.8,55.9 L663.0,54.6 L672.0,53.2 L680.6,51.6 L688.9,49.8 L696.8,47.7 L704.6,45.4 L712.3,42.9 L720.0,40.2 L727.9,37.4 L736.0,34.4 L744.4,31.3 L752.9,27.9 L761.6,24.3 L770.2,20.6 L778.9,16.8 L787.6,13.0 L796.1,9.1 L804.4,5.2 L812.6,1.3 L820.7,-2.7 L828.8,-6.7 L836.8,-10.8 L844.7,-14.9 L852.5,-19.0 L860.1,-23.0 L867.6,-27.0 L874.8,-30.9 L881.7,-34.6 L888.4,-38.3 L895.1,-42.0 L901.7,-45.8 L908.5,-49.6 L915.6,-53.6 L923.0,-57.8 L931.3,-62.5 L940.5,-67.7 L950.2,-73.3 L960.0,-78.8 L969.3,-84.1 L977.7,-89.0 L984.8,-93.0 L990.0,-96.0"/>
<path d="M-5.0,327.5 L3.3,325.3 L14.7,322.3 L28.2,318.7 L43.1,314.8 L58.6,310.6 L73.8,306.4 L87.8,302.3 L100.0,298.4 L110.7,294.7 L120.8,291.0 L130.4,287.2 L139.4,283.5 L147.9,279.7 L155.8,276.0 L163.2,272.4 L170.0,268.9 L176.2,265.7 L181.7,262.6 L186.7,259.6 L191.1,256.7 L195.0,253.7 L198.6,250.6 L201.9,247.1 L205.0,243.3 L207.7,239.2 L209.9,234.7 L211.8,230.0 L213.3,225.1 L214.5,220.1 L215.7,215.1 L216.8,210.0 L217.9,205.0 L219.1,200.0 L220.0,194.9 L220.9,189.8 L221.6,184.7 L222.3,179.5 L223.0,174.3 L223.6,169.1 L224.3,164.0 L225.1,158.8 L225.7,153.6 L226.3,148.4 L226.9,143.2 L227.6,138.0 L228.2,132.9 L229.0,127.8 L229.8,122.9 L230.8,118.1 L231.8,113.3 L232.8,108.6 L233.9,103.9 L235.0,99.4 L236.3,94.9 L237.6,90.5 L239.1,86.2 L240.6,82.0 L242.2,77.9 L243.9,73.9 L245.7,69.9 L247.6,66.1 L249.6,62.3 L251.8,58.6 L254.1,55.0 L256.6,51.5 L259.2,48.1 L261.9,44.8 L264.8,41.5 L267.8,38.4 L270.9,35.3 L274.2,32.3 L277.6,29.3 L280.8,26.4 L283.7,23.4 L286.4,20.6 L289.4,17.8 L292.9,15.1 L297.3,12.5 L302.9,10.2 L310.0,8.0 L318.9,5.9 L329.4,3.7 L341.1,1.6 L353.6,-0.3 L366.7,-1.9 L379.8,-3.1 L392.7,-3.6 L405.0,-3.5 L416.9,-2.5 L428.8,-0.8 L440.7,1.6 L452.6,4.3 L464.4,7.4 L476.2,10.6 L487.9,13.8 L499.5,16.8 L511.0,19.8 L522.6,23.3 L534.1,26.9 L545.5,30.6 L556.8,34.1 L567.9,37.2 L578.8,39.8 L589.5,41.7 L600.0,42.8 L610.4,43.4 L620.6,43.5 L630.6,43.3 L640.4,42.7 L650.0,41.8 L659.4,40.8 L668.5,39.6 L677.2,38.2 L685.6,36.6 L693.6,34.7 L701.5,32.5 L709.2,30.2 L717.0,27.6 L724.9,25.0 L733.0,22.2 L741.3,19.2 L749.8,16.1 L758.3,12.7 L766.9,9.2 L775.4,5.5 L784.0,1.8 L792.4,-1.9 L800.7,-5.7 L808.9,-9.4 L817.2,-13.3 L825.4,-17.3 L833.5,-21.3 L841.6,-25.4 L849.5,-29.4 L857.2,-33.4 L864.8,-37.2 L872.0,-41.0 L878.9,-44.6 L885.6,-48.2 L892.2,-51.8 L898.8,-55.4 L905.6,-59.1 L912.7,-63.0 L920.2,-67.2 L928.8,-71.8 L938.3,-77.0 L948.4,-82.6 L958.6,-88.2 L968.3,-93.6 L977.1,-98.4 L984.5,-102.5 L990.0,-105.5"/>
<path d="M-5.0,315.0 L3.3,312.9 L14.7,310.2 L28.2,306.9 L43.1,303.2 L58.6,299.3 L73.8,295.4 L87.8,291.6 L100.0,288.0 L110.7,284.6 L120.8,281.1 L130.4,277.6 L139.4,274.1 L147.9,270.6 L155.8,267.1 L163.2,263.8 L170.0,260.5 L176.2,257.4 L181.7,254.5 L186.7,251.8 L191.1,249.1 L195.1,246.3 L198.7,243.3 L201.9,240.1 L205.0,236.5 L207.7,232.6 L209.9,228.3 L211.6,223.9 L213.1,219.2 L214.3,214.5 L215.4,209.7 L216.4,204.8 L217.5,200.0 L218.6,195.2 L219.5,190.3 L220.3,185.3 L221.0,180.3 L221.6,175.2 L222.2,170.2 L222.8,165.1 L223.5,160.0 L224.1,154.9 L224.7,149.7 L225.3,144.5 L225.8,139.3 L226.4,134.1 L227.0,129.0 L227.7,123.9 L228.5,119.0 L229.4,114.1 L230.2,109.4 L231.2,104.6 L232.2,99.9 L233.3,95.3 L234.4,90.8 L235.7,86.4 L237.0,82.0 L238.4,77.7 L239.9,73.5 L241.5,69.4 L243.1,65.4 L244.9,61.4 L246.8,57.5 L248.8,53.7 L251.0,50.0 L253.3,46.4 L255.8,42.8 L258.4,39.3 L261.2,35.9 L264.0,32.6 L267.0,29.4 L270.2,26.1 L273.5,23.0 L276.6,19.9 L279.3,16.8 L281.9,13.7 L284.7,10.8 L288.1,7.9 L292.4,5.1 L298.0,2.5 L305.0,0.0 L313.8,-2.5 L324.3,-5.1 L336.0,-7.6 L348.5,-10.0 L361.6,-12.1 L374.8,-13.7 L387.7,-14.7 L400.0,-15.0 L411.9,-14.4 L423.9,-13.1 L435.8,-11.1 L447.8,-8.7 L459.7,-6.0 L471.6,-3.1 L483.4,-0.2 L495.0,2.5 L506.6,5.4 L518.1,8.6 L529.6,12.1 L540.9,15.6 L552.2,19.0 L563.3,22.1 L574.3,24.6 L585.0,26.5 L595.6,27.7 L606.1,28.5 L616.4,28.8 L626.6,28.8 L636.5,28.4 L646.3,27.8 L655.8,27.0 L665.0,26.0 L673.8,24.8 L682.3,23.3 L690.4,21.6 L698.3,19.6 L706.1,17.5 L714.0,15.1 L721.9,12.6 L730.0,10.0 L738.3,7.2 L746.7,4.2 L755.1,1.0 L763.5,-2.3 L771.9,-5.8 L780.3,-9.3 L788.7,-12.9 L797.0,-16.5 L805.3,-20.2 L813.6,-24.0 L821.9,-27.9 L830.2,-31.8 L838.4,-35.8 L846.5,-39.8 L854.3,-43.7 L862.0,-47.5 L869.3,-51.2 L876.1,-54.7 L882.8,-58.1 L889.3,-61.5 L895.9,-65.0 L902.7,-68.6 L909.8,-72.4 L917.5,-76.5 L926.2,-81.1 L936.1,-86.4 L946.6,-91.9 L957.2,-97.6 L967.4,-103.0 L976.6,-107.9 L984.3,-112.0 L990.0,-115.0"/>
<path d="M-5.0,302.5 L3.3,300.6 L14.7,298.0 L28.2,295.0 L43.1,291.6 L58.6,288.1 L73.8,284.5 L87.8,280.9 L100.0,277.6 L110.7,274.4 L120.8,271.2 L130.4,267.9 L139.4,264.7 L147.9,261.4 L155.8,258.2 L163.2,255.1 L170.0,252.1 L176.2,249.2 L181.7,246.5 L186.7,244.0 L191.1,241.4 L195.1,238.8 L198.7,236.0 L202.0,233.0 L205.0,229.6 L207.6,225.9 L209.8,222.0 L211.5,217.7 L212.9,213.4 L214.0,208.9 L215.0,204.3 L216.0,199.6 L217.1,195.0 L218.1,190.3 L218.9,185.6 L219.7,180.8 L220.3,175.9 L220.9,171.0 L221.5,166.0 L222.0,161.0 L222.7,156.0 L223.2,151.0 L223.8,145.8 L224.3,140.6 L224.8,135.4 L225.3,130.3 L225.8,125.1 L226.4,120.1 L227.2,115.1 L227.9,110.2 L228.7,105.4 L229.6,100.7 L230.5,95.9 L231.5,91.3 L232.5,86.7 L233.7,82.2 L234.9,77.8 L236.2,73.5 L237.6,69.2 L239.0,65.0 L240.5,60.8 L242.2,56.8 L243.9,52.8 L245.8,48.9 L247.9,45.0 L250.1,41.2 L252.5,37.5 L254.9,33.9 L257.5,30.3 L260.3,26.9 L263.1,23.4 L266.2,20.0 L269.4,16.7 L272.3,13.4 L274.9,10.1 L277.3,6.9 L280.1,3.7 L283.4,0.7 L287.6,-2.3 L293.0,-5.2 L300.0,-8.0 L308.8,-10.8 L319.2,-13.8 L330.9,-16.9 L343.4,-19.7 L356.5,-22.3 L369.7,-24.4 L382.7,-25.8 L395.0,-26.5 L407.0,-26.3 L419.0,-25.3 L431.0,-23.8 L443.1,-21.7 L455.1,-19.4 L467.0,-16.8 L478.8,-14.2 L490.5,-11.8 L502.1,-9.1 L513.6,-6.0 L525.0,-2.7 L536.4,0.7 L547.7,3.9 L558.8,6.9 L569.7,9.5 L580.5,11.3 L591.2,12.6 L601.7,13.5 L612.2,14.0 L622.5,14.2 L632.7,14.1 L642.6,13.8 L652.2,13.2 L661.5,12.4 L670.4,11.4 L678.9,10.1 L687.2,8.5 L695.2,6.7 L703.1,4.7 L710.9,2.6 L718.9,0.2 L727.0,-2.2 L735.3,-4.8 L743.5,-7.6 L751.8,-10.6 L760.1,-13.8 L768.4,-17.1 L776.7,-20.4 L785.0,-23.9 L793.3,-27.4 L801.6,-30.9 L810.0,-34.6 L818.5,-38.5 L826.9,-42.4 L835.3,-46.3 L843.5,-50.2 L851.5,-54.0 L859.2,-57.8 L866.5,-61.3 L873.4,-64.7 L879.9,-68.0 L886.4,-71.3 L892.9,-74.6 L899.7,-78.1 L906.9,-81.8 L914.8,-85.9 L923.7,-90.4 L933.9,-95.7 L944.8,-101.3 L955.8,-106.9 L966.4,-112.4 L976.0,-117.3 L984.1,-121.4 L990.0,-124.5"/>
<path d="M-5.0,290.0 L3.3,288.2 L14.7,285.9 L28.2,283.2 L43.1,280.1 L58.6,276.8 L73.8,273.5 L87.8,270.2 L100.0,267.2 L110.7,264.3 L120.8,261.3 L130.4,258.3 L139.4,255.3 L147.9,252.3 L155.8,249.3 L163.2,246.4 L170.0,243.6 L176.2,240.9 L181.8,238.5 L186.7,236.1 L191.2,233.8 L195.1,231.4 L198.7,228.8 L202.0,226.0 L205.0,222.8 L207.6,219.3 L209.7,215.6 L211.3,211.6 L212.7,207.5 L213.7,203.2 L214.7,198.8 L215.6,194.4 L216.6,190.0 L217.6,185.5 L218.4,180.9 L219.1,176.3 L219.7,171.5 L220.2,166.7 L220.7,161.8 L221.3,156.9 L221.8,152.0 L222.3,147.0 L222.8,141.9 L223.3,136.8 L223.7,131.6 L224.1,126.4 L224.6,121.2 L225.2,116.2 L225.8,111.2 L226.5,106.3 L227.2,101.5 L228.0,96.7 L228.8,91.9 L229.7,87.3 L230.6,82.6 L231.7,78.1 L232.8,73.6 L234.0,69.2 L235.3,64.8 L236.6,60.5 L238.0,56.3 L239.5,52.1 L241.1,48.0 L242.9,44.0 L244.8,40.0 L246.9,36.1 L249.1,32.2 L251.4,28.5 L253.9,24.8 L256.5,21.1 L259.2,17.5 L262.1,13.9 L265.2,10.4 L268.0,6.9 L270.5,3.5 L272.8,0.1 L275.4,-3.3 L278.6,-6.6 L282.7,-9.8 L288.1,-12.9 L295.0,-16.0 L303.7,-19.2 L314.1,-22.6 L325.8,-26.1 L338.4,-29.4 L351.4,-32.4 L364.7,-35.0 L377.6,-36.9 L390.0,-38.0 L402.0,-38.2 L414.1,-37.6 L426.2,-36.4 L438.3,-34.8 L450.4,-32.7 L462.4,-30.5 L474.3,-28.2 L486.0,-26.0 L497.6,-23.6 L509.1,-20.7 L520.5,-17.6 L531.9,-14.3 L543.1,-11.1 L554.2,-8.2 L565.2,-5.7 L576.0,-3.8 L586.7,-2.4 L597.4,-1.4 L608.0,-0.7 L618.5,-0.3 L628.8,-0.2 L638.8,-0.3 L648.6,-0.6 L658.0,-1.2 L667.0,-2.0 L675.6,-3.1 L683.9,-4.5 L692.0,-6.1 L700.0,-8.0 L707.9,-10.0 L715.9,-12.1 L724.0,-14.4 L732.2,-16.8 L740.4,-19.5 L748.6,-22.3 L756.8,-25.3 L764.9,-28.4 L773.1,-31.6 L781.3,-34.9 L789.6,-38.2 L798.0,-41.7 L806.5,-45.3 L815.1,-49.0 L823.6,-52.9 L832.1,-56.8 L840.5,-60.6 L848.6,-64.4 L856.4,-68.0 L863.7,-71.4 L870.6,-74.7 L877.1,-77.9 L883.5,-81.0 L890.0,-84.3 L896.8,-87.6 L904.1,-91.3 L912.0,-95.2 L921.2,-99.8 L931.8,-105.0 L943.0,-110.6 L954.5,-116.3 L965.5,-121.8 L975.5,-126.8 L983.8,-130.9 L990.0,-134.0"/>
<path d="M-5.0,277.5 L3.3,275.9 L14.7,273.8 L28.2,271.3 L43.1,268.5 L58.6,265.5 L73.8,262.5 L87.8,259.6 L100.0,256.8 L110.7,254.1 L120.8,251.4 L130.4,248.6 L139.4,245.9 L147.9,243.1 L155.8,240.4 L163.2,237.7 L170.0,235.1 L176.2,232.7 L181.8,230.5 L186.7,228.3 L191.2,226.1 L195.2,223.9 L198.7,221.5 L202.0,218.9 L205.0,215.9 L207.6,212.7 L209.6,209.2 L211.2,205.5 L212.5,201.6 L213.5,197.6 L214.4,193.4 L215.2,189.2 L216.2,185.0 L217.1,180.7 L217.8,176.3 L218.5,171.7 L219.0,167.1 L219.5,162.4 L220.0,157.7 L220.5,152.8 L220.9,148.0 L221.4,143.1 L221.9,138.0 L222.2,132.9 L222.6,127.7 L223.0,122.5 L223.4,117.4 L223.9,112.3 L224.4,107.3 L225.1,102.4 L225.7,97.5 L226.4,92.7 L227.1,88.0 L227.9,83.2 L228.7,78.6 L229.7,74.0 L230.7,69.4 L231.8,64.9 L232.9,60.5 L234.1,56.1 L235.4,51.8 L236.8,47.5 L238.3,43.3 L239.9,39.1 L241.7,35.0 L243.7,31.0 L245.7,27.0 L247.9,23.0 L250.3,19.2 L252.7,15.3 L255.3,11.5 L258.1,7.8 L261.1,4.1 L263.8,0.4 L266.1,-3.2 L268.3,-6.8 L270.8,-10.3 L273.9,-13.8 L277.9,-17.2 L283.2,-20.6 L290.0,-24.0 L298.7,-27.5 L309.1,-31.4 L320.7,-35.3 L333.3,-39.1 L346.4,-42.6 L359.6,-45.6 L372.6,-48.0 L385.0,-49.5 L397.0,-50.1 L409.2,-49.9 L421.4,-49.1 L433.6,-47.8 L445.7,-46.1 L457.8,-44.2 L469.7,-42.2 L481.5,-40.2 L493.1,-38.0 L504.6,-35.4 L516.0,-32.4 L527.3,-29.3 L538.5,-26.2 L549.6,-23.4 L560.6,-20.9 L571.5,-19.0 L582.3,-17.5 L593.1,-16.3 L603.9,-15.4 L614.5,-14.8 L624.9,-14.4 L635.1,-14.3 L645.0,-14.4 L654.5,-14.8 L663.6,-15.4 L672.3,-16.4 L680.7,-17.6 L688.9,-19.0 L696.9,-20.7 L704.9,-22.5 L712.9,-24.5 L721.0,-26.6 L729.2,-28.9 L737.3,-31.3 L745.3,-33.9 L753.4,-36.7 L761.4,-39.7 L769.5,-42.7 L777.7,-45.8 L785.9,-49.1 L794.3,-52.4 L802.9,-55.9 L811.6,-59.6 L820.3,-63.4 L829.0,-67.2 L837.5,-71.0 L845.7,-74.7 L853.6,-78.2 L861.0,-81.6 L867.8,-84.7 L874.2,-87.8 L880.6,-90.8 L887.1,-93.9 L893.9,-97.2 L901.2,-100.7 L909.2,-104.5 L918.7,-109.1 L929.6,-114.3 L941.2,-119.9 L953.1,-125.7 L964.5,-131.2 L974.9,-136.2 L983.6,-140.4 L990.0,-143.5"/>
<path d="M-5.0,265.0 L3.3,263.6 L14.7,261.7 L28.2,259.4 L43.1,256.9 L58.6,254.3 L73.8,251.6 L87.8,248.9 L100.0,246.4 L110.7,244.0 L120.8,241.5 L130.4,239.0 L139.4,236.5 L147.9,234.0 L155.8,231.5 L163.2,229.1 L170.0,226.7 L176.2,224.5 L181.8,222.4 L186.8,220.5 L191.2,218.5 L195.2,216.4 L198.8,214.3 L202.0,211.8 L205.0,209.1 L207.5,206.1 L209.5,202.8 L211.1,199.3 L212.3,195.7 L213.2,191.9 L214.0,188.0 L214.8,184.0 L215.7,180.0 L216.6,175.9 L217.3,171.6 L217.9,167.2 L218.4,162.7 L218.8,158.1 L219.2,153.5 L219.7,148.8 L220.1,144.0 L220.5,139.1 L220.9,134.1 L221.2,129.0 L221.5,123.8 L221.9,118.7 L222.2,113.5 L222.6,108.4 L223.1,103.4 L223.6,98.5 L224.2,93.6 L224.8,88.8 L225.4,84.0 L226.1,79.2 L226.8,74.5 L227.7,69.8 L228.6,65.2 L229.6,60.6 L230.6,56.1 L231.7,51.6 L232.8,47.2 L234.0,42.8 L235.4,38.5 L236.9,34.2 L238.6,30.0 L240.4,25.8 L242.4,21.7 L244.4,17.6 L246.6,13.6 L249.0,9.6 L251.4,5.6 L254.1,1.7 L256.9,-2.2 L259.5,-6.0 L261.7,-9.8 L263.8,-13.6 L266.2,-17.3 L269.1,-21.0 L273.0,-24.7 L278.2,-28.3 L285.0,-32.0 L293.7,-35.9 L304.0,-40.1 L315.6,-44.5 L328.2,-48.8 L341.3,-52.8 L354.5,-56.3 L367.6,-59.1 L380.0,-61.0 L392.1,-62.0 L404.3,-62.2 L416.5,-61.8 L428.8,-60.8 L441.0,-59.5 L453.2,-57.9 L465.2,-56.2 L477.0,-54.5 L488.6,-52.5 L500.1,-50.0 L511.5,-47.2 L522.8,-44.2 L534.0,-41.3 L545.1,-38.5 L556.1,-36.0 L567.0,-34.1 L577.9,-32.6 L588.8,-31.3 L599.7,-30.2 L610.4,-29.3 L621.0,-28.7 L631.3,-28.3 L641.4,-28.2 L651.0,-28.4 L660.2,-28.9 L669.0,-29.6 L677.5,-30.7 L685.7,-31.9 L693.8,-33.4 L701.8,-35.1 L709.9,-36.9 L718.0,-38.8 L726.1,-40.9 L734.1,-43.1 L742.1,-45.6 L750.0,-48.2 L757.9,-51.0 L765.9,-53.8 L774.0,-56.8 L782.2,-59.9 L790.7,-63.1 L799.3,-66.6 L808.2,-70.2 L817.0,-73.9 L825.8,-77.7 L834.5,-81.4 L842.8,-85.0 L850.8,-88.5 L858.2,-91.7 L865.0,-94.8 L871.4,-97.7 L877.7,-100.5 L884.1,-103.5 L890.9,-106.7 L898.3,-110.1 L906.5,-113.9 L916.2,-118.4 L927.4,-123.6 L939.4,-129.3 L951.7,-135.0 L963.6,-140.6 L974.3,-145.7 L983.4,-149.9 L990.0,-153.0"/>
<path d="M-5.0,252.5 L3.3,251.2 L14.7,249.6 L28.2,247.6 L43.1,245.4 L58.6,243.0 L73.8,240.6 L87.8,238.2 L100.0,236.0 L110.7,233.8 L120.8,231.6 L130.4,229.4 L139.4,227.1 L147.9,224.8 L155.8,222.6 L163.2,220.4 L170.0,218.2 L176.2,216.2 L181.8,214.4 L186.8,212.6 L191.2,210.8 L195.2,209.0 L198.8,207.0 L202.0,204.8 L205.0,202.2 L207.5,199.4 L209.4,196.4 L210.9,193.2 L212.1,189.8 L213.0,186.3 L213.7,182.6 L214.4,178.9 L215.2,175.0 L216.1,171.0 L216.7,166.9 L217.3,162.7 L217.7,158.3 L218.1,153.9 L218.5,149.3 L218.9,144.7 L219.2,140.0 L219.6,135.2 L219.9,130.2 L220.2,125.1 L220.5,120.0 L220.7,114.8 L221.0,109.6 L221.3,104.5 L221.8,99.5 L222.2,94.6 L222.7,89.7 L223.2,84.8 L223.7,80.0 L224.3,75.2 L225.0,70.4 L225.7,65.7 L226.5,61.0 L227.4,56.4 L228.3,51.8 L229.2,47.2 L230.2,42.7 L231.3,38.2 L232.6,33.8 L234.0,29.4 L235.5,25.0 L237.2,20.7 L239.0,16.4 L240.9,12.2 L243.0,8.0 L245.2,3.8 L247.5,-0.3 L250.1,-4.4 L252.8,-8.5 L255.2,-12.5 L257.3,-16.5 L259.3,-20.4 L261.5,-24.3 L264.4,-28.2 L268.2,-32.1 L273.3,-36.0 L280.0,-40.0 L288.6,-44.3 L298.9,-48.9 L310.6,-53.7 L323.1,-58.5 L336.2,-62.9 L349.5,-66.9 L362.5,-70.2 L375.0,-72.5 L387.1,-73.9 L399.4,-74.5 L411.7,-74.4 L424.1,-73.9 L436.4,-72.9 L448.6,-71.6 L460.7,-70.2 L472.5,-68.8 L484.1,-67.0 L495.6,-64.7 L507.0,-62.1 L518.3,-59.2 L529.4,-56.4 L540.5,-53.6 L551.5,-51.2 L562.5,-49.2 L573.5,-47.6 L584.5,-46.2 L595.5,-44.9 L606.4,-43.8 L617.1,-43.0 L627.6,-42.4 L637.7,-42.0 L647.5,-42.0 L656.8,-42.3 L665.7,-42.9 L674.3,-43.7 L682.6,-44.8 L690.7,-46.1 L698.8,-47.6 L706.9,-49.2 L715.0,-51.0 L723.1,-52.9 L731.0,-55.0 L738.8,-57.3 L746.6,-59.7 L754.4,-62.3 L762.3,-65.0 L770.3,-67.8 L778.5,-70.8 L787.0,-73.9 L795.8,-77.3 L804.7,-80.8 L813.7,-84.5 L822.7,-88.1 L831.5,-91.8 L839.9,-95.4 L848.0,-98.8 L855.4,-101.9 L862.2,-104.8 L868.6,-107.5 L874.8,-110.3 L881.2,-113.1 L888.0,-116.2 L895.4,-119.5 L903.8,-123.2 L913.7,-127.7 L925.2,-132.9 L937.7,-138.6 L950.4,-144.4 L962.6,-150.0 L973.8,-155.1 L983.1,-159.4 L990.0,-162.5"/>
<path d="M-5.0,240.0 L3.3,238.9 L14.7,237.4 L28.2,235.7 L43.1,233.8 L58.6,231.7 L73.8,229.6 L87.8,227.6 L100.0,225.6 L110.7,223.7 L120.8,221.7 L130.4,219.7 L139.4,217.7 L147.9,215.7 L155.8,213.7 L163.2,211.7 L170.0,209.8 L176.2,208.0 L181.8,206.4 L186.8,204.8 L191.3,203.2 L195.3,201.5 L198.8,199.7 L202.1,197.7 L205.0,195.4 L207.5,192.8 L209.4,190.0 L210.8,187.1 L211.9,183.9 L212.7,180.6 L213.4,177.2 L214.0,173.7 L214.8,170.0 L215.6,166.2 L216.2,162.3 L216.7,158.2 L217.1,153.9 L217.4,149.6 L217.8,145.2 L218.1,140.6 L218.4,136.0 L218.7,131.2 L219.0,126.3 L219.2,121.2 L219.4,116.1 L219.6,110.9 L219.8,105.7 L220.1,100.6 L220.4,95.6 L220.8,90.7 L221.2,85.7 L221.6,80.8 L222.0,76.0 L222.5,71.1 L223.1,66.3 L223.7,61.5 L224.4,56.8 L225.2,52.1 L225.9,47.4 L226.7,42.8 L227.6,38.1 L228.6,33.6 L229.7,29.0 L231.0,24.5 L232.4,20.0 L234.0,15.5 L235.6,11.1 L237.4,6.7 L239.3,2.4 L241.4,-2.0 L243.6,-6.3 L246.0,-10.5 L248.6,-14.8 L250.9,-19.0 L252.9,-23.1 L254.7,-27.2 L256.9,-31.3 L259.6,-35.4 L263.3,-39.5 L268.3,-43.7 L275.0,-48.0 L283.6,-52.6 L293.9,-57.7 L305.5,-62.9 L318.0,-68.1 L331.1,-73.1 L344.4,-77.5 L357.5,-81.3 L370.0,-84.0 L382.2,-85.8 L394.5,-86.8 L406.9,-87.1 L419.3,-86.9 L431.7,-86.3 L444.0,-85.4 L456.1,-84.2 L468.0,-83.0 L479.7,-81.5 L491.2,-79.4 L502.5,-76.9 L513.8,-74.2 L524.9,-71.4 L536.0,-68.8 L547.0,-66.4 L558.0,-64.4 L569.1,-62.7 L580.2,-61.1 L591.3,-59.7 L602.4,-58.4 L613.2,-57.3 L623.9,-56.4 L634.1,-55.8 L644.0,-55.6 L653.4,-55.7 L662.4,-56.1 L671.0,-56.8 L679.4,-57.7 L687.7,-58.8 L695.8,-60.2 L703.9,-61.6 L712.0,-63.2 L720.0,-64.9 L727.9,-66.8 L735.6,-68.9 L743.3,-71.2 L750.9,-73.6 L758.7,-76.1 L766.6,-78.8 L774.8,-81.6 L783.3,-84.6 L792.2,-87.9 L801.3,-91.4 L810.4,-95.0 L819.5,-98.6 L828.4,-102.2 L837.0,-105.7 L845.2,-109.0 L852.6,-112.0 L859.4,-114.8 L865.7,-117.4 L871.9,-120.1 L878.3,-122.8 L885.1,-125.7 L892.5,-128.9 L901.0,-132.6 L911.1,-137.0 L923.0,-142.3 L935.9,-147.9 L949.0,-153.8 L961.7,-159.4 L973.2,-164.5 L982.9,-168.9 L990.0,-172.0"/>
<path d="M-5.0,227.5 L3.3,226.6 L14.7,225.3 L28.2,223.9 L43.1,222.2 L58.6,220.5 L73.8,218.7 L87.8,216.9 L100.0,215.2 L110.7,213.5 L120.8,211.8 L130.4,210.1 L139.4,208.3 L147.9,206.5 L155.8,204.8 L163.2,203.0 L170.0,201.3 L176.2,199.8 L181.8,198.3 L186.8,196.9 L191.3,195.6 L195.3,194.1 L198.9,192.5 L202.1,190.7 L205.0,188.6 L207.4,186.2 L209.3,183.6 L210.7,180.9 L211.7,178.0 L212.4,175.0 L213.0,171.8 L213.7,168.5 L214.3,165.0 L215.1,161.4 L215.6,157.6 L216.1,153.6 L216.4,149.5 L216.7,145.3 L217.0,141.0 L217.3,136.5 L217.6,132.0 L217.8,127.3 L218.0,122.4 L218.2,117.4 L218.3,112.2 L218.4,107.0 L218.6,101.9 L218.8,96.7 L219.1,91.7 L219.3,86.7 L219.7,81.8 L220.0,76.9 L220.3,72.0 L220.7,67.1 L221.2,62.2 L221.7,57.4 L222.3,52.6 L222.9,47.8 L223.6,43.1 L224.3,38.3 L225.1,33.6 L225.9,28.9 L226.9,24.3 L228.0,19.6 L229.3,15.0 L230.7,10.4 L232.3,5.8 L233.9,1.3 L235.7,-3.2 L237.6,-7.7 L239.7,-12.2 L242.0,-16.7 L244.4,-21.1 L246.7,-25.5 L248.5,-29.8 L250.2,-34.1 L252.2,-38.3 L254.9,-42.6 L258.5,-47.0 L263.4,-51.4 L270.0,-56.0 L278.5,-61.0 L288.8,-66.4 L300.4,-72.1 L312.9,-77.8 L326.1,-83.3 L339.4,-88.2 L352.5,-92.3 L365.0,-95.5 L377.2,-97.7 L389.6,-99.0 L402.1,-99.8 L414.6,-100.0 L427.0,-99.7 L439.4,-99.1 L451.6,-98.2 L463.5,-97.2 L475.2,-95.9 L486.7,-94.0 L498.0,-91.7 L509.2,-89.2 L520.3,-86.5 L531.4,-83.9 L542.5,-81.5 L553.5,-79.6 L564.6,-77.8 L575.9,-76.1 L587.2,-74.4 L598.3,-72.9 L609.4,-71.5 L620.1,-70.5 L630.5,-69.7 L640.5,-69.2 L650.0,-69.1 L659.1,-69.3 L667.8,-69.8 L676.3,-70.6 L684.6,-71.6 L692.8,-72.7 L700.9,-74.0 L709.0,-75.4 L717.0,-76.9 L724.8,-78.7 L732.4,-80.6 L739.9,-82.6 L747.4,-84.9 L755.1,-87.2 L762.9,-89.8 L771.1,-92.4 L779.7,-95.4 L788.6,-98.6 L797.8,-102.0 L807.1,-105.5 L816.4,-109.1 L825.4,-112.6 L834.2,-116.0 L842.4,-119.2 L849.9,-122.2 L856.6,-124.8 L862.9,-127.3 L869.0,-129.8 L875.4,-132.4 L882.1,-135.2 L889.7,-138.3 L898.2,-141.9 L908.6,-146.4 L920.8,-151.6 L934.1,-157.3 L947.6,-163.1 L960.7,-168.8 L972.7,-174.0 L982.7,-178.3 L990.0,-181.5"/>
<path d="M-5.0,215.0 L3.3,214.2 L14.7,213.2 L28.2,212.0 L43.1,210.6 L58.6,209.2 L73.8,207.7 L87.8,206.2 L100.0,204.8 L110.7,203.4 L120.8,201.9 L130.4,200.4 L139.4,198.9 L147.9,197.4 L155.8,195.9 L163.2,194.4 L170.0,192.9 L176.2,191.5 L181.8,190.3 L186.8,189.1 L191.3,187.9 L195.3,186.6 L198.9,185.2 L202.1,183.6 L205.0,181.7 L207.4,179.6 L209.2,177.3 L210.5,174.8 L211.5,172.1 L212.2,169.4 L212.7,166.4 L213.3,163.3 L213.9,160.0 L214.6,156.5 L215.1,152.9 L215.5,149.1 L215.8,145.2 L216.0,141.1 L216.3,136.8 L216.5,132.5 L216.7,128.0 L216.9,123.4 L217.0,118.5 L217.1,113.5 L217.2,108.4 L217.3,103.2 L217.4,98.0 L217.5,92.8 L217.7,87.8 L217.9,82.8 L218.1,77.9 L218.4,72.9 L218.6,68.0 L218.9,63.1 L219.3,58.2 L219.7,53.3 L220.2,48.4 L220.7,43.5 L221.3,38.7 L221.8,33.9 L222.5,29.1 L223.2,24.3 L224.0,19.5 L225.0,14.7 L226.2,10.0 L227.5,5.3 L228.9,0.6 L230.4,-4.1 L232.1,-8.8 L233.9,-13.5 L235.8,-18.1 L238.0,-22.8 L240.3,-27.4 L242.4,-32.0 L244.1,-36.5 L245.7,-40.9 L247.6,-45.4 L250.1,-49.8 L253.6,-54.4 L258.5,-59.1 L265.0,-64.0 L273.5,-69.3 L283.7,-75.2 L295.3,-81.3 L307.9,-87.5 L321.0,-93.4 L334.3,-98.8 L347.5,-103.4 L360.0,-107.0 L372.2,-109.6 L384.7,-111.3 L397.2,-112.4 L409.8,-113.0 L422.4,-113.1 L434.8,-112.8 L447.0,-112.2 L459.0,-111.5 L470.7,-110.4 L482.2,-108.7 L493.5,-106.5 L504.7,-104.1 L515.8,-101.6 L526.9,-99.1 L537.9,-96.7 L549.0,-94.7 L560.2,-92.9 L571.6,-91.0 L583.0,-89.1 L594.3,-87.4 L605.5,-85.8 L616.4,-84.5 L626.9,-83.5 L637.0,-82.8 L646.6,-82.5 L655.8,-82.6 L664.6,-82.9 L673.2,-83.5 L681.5,-84.3 L689.7,-85.2 L697.9,-86.4 L706.0,-87.6 L714.0,-89.0 L721.6,-90.5 L729.1,-92.2 L736.5,-94.1 L743.9,-96.2 L751.5,-98.4 L759.3,-100.8 L767.4,-103.3 L776.0,-106.1 L785.1,-109.2 L794.4,-112.5 L803.8,-116.0 L813.2,-119.5 L822.4,-123.0 L831.3,-126.4 L839.6,-129.5 L847.1,-132.3 L853.8,-134.8 L860.1,-137.2 L866.2,-139.6 L872.4,-142.0 L879.2,-144.7 L886.8,-147.7 L895.5,-151.3 L906.1,-155.7 L918.6,-160.9 L932.3,-166.6 L946.2,-172.5 L959.8,-178.2 L972.1,-183.4 L982.4,-187.8 L990.0,-191.0"/>
<path d="M-5.0,202.5 L3.3,201.9 L14.7,201.1 L28.2,200.1 L43.1,199.1 L58.6,197.9 L73.8,196.7 L87.8,195.6 L100.0,194.4 L110.7,193.2 L120.8,192.0 L130.4,190.8 L139.4,189.5 L147.9,188.2 L155.8,187.0 L163.2,185.7 L170.0,184.5 L176.2,183.3 L181.8,182.3 L186.9,181.3 L191.3,180.3 L195.4,179.2 L198.9,178.0 L202.1,176.5 L205.0,174.8 L207.4,172.9 L209.1,170.9 L210.4,168.6 L211.3,166.3 L211.9,163.7 L212.4,161.0 L212.9,158.1 L213.4,155.0 L214.1,151.7 L214.5,148.2 L214.9,144.6 L215.1,140.8 L215.4,136.8 L215.5,132.7 L215.7,128.4 L215.8,124.0 L216.0,119.4 L216.1,114.6 L216.1,109.6 L216.1,104.5 L216.2,99.3 L216.2,94.1 L216.2,89.0 L216.3,83.9 L216.5,78.9 L216.6,73.9 L216.8,69.0 L216.9,64.0 L217.2,59.0 L217.4,54.1 L217.7,49.1 L218.1,44.2 L218.5,39.3 L218.9,34.4 L219.4,29.4 L219.9,24.5 L220.5,19.6 L221.2,14.8 L222.1,9.9 L223.1,5.0 L224.3,0.1 L225.5,-4.7 L226.9,-9.6 L228.4,-14.4 L230.1,-19.2 L231.9,-24.1 L233.9,-28.9 L236.2,-33.7 L238.1,-38.5 L239.7,-43.1 L241.2,-47.7 L243.0,-52.4 L245.4,-57.1 L248.8,-61.9 L253.5,-66.8 L260.0,-72.0 L268.4,-77.7 L278.6,-84.0 L290.2,-90.6 L302.8,-97.2 L315.9,-103.6 L329.3,-109.4 L342.4,-114.5 L355.0,-118.5 L367.3,-121.4 L379.8,-123.6 L392.4,-125.1 L405.1,-126.0 L417.7,-126.5 L430.2,-126.5 L442.5,-126.2 L454.5,-125.8 L466.2,-124.9 L477.7,-123.3 L489.0,-121.4 L500.2,-119.1 L511.2,-116.7 L522.3,-114.2 L533.4,-111.9 L544.5,-109.8 L555.8,-107.9 L567.3,-105.9 L578.8,-103.9 L590.3,-101.9 L601.6,-100.1 L612.6,-98.5 L623.3,-97.3 L633.5,-96.4 L643.2,-95.9 L652.5,-95.8 L661.4,-96.0 L670.0,-96.4 L678.4,-97.0 L686.7,-97.8 L694.9,-98.7 L703.0,-99.8 L710.9,-101.0 L718.5,-102.4 L725.9,-103.9 L733.1,-105.6 L740.4,-107.5 L747.9,-109.5 L755.6,-111.7 L763.7,-114.1 L772.4,-116.8 L781.5,-119.9 L791.0,-123.1 L800.5,-126.5 L810.1,-130.0 L819.4,-133.4 L828.4,-136.7 L836.8,-139.8 L844.3,-142.5 L851.0,-144.9 L857.2,-147.1 L863.3,-149.3 L869.5,-151.6 L876.3,-154.2 L883.9,-157.2 L892.8,-160.7 L903.6,-165.0 L916.4,-170.2 L930.5,-176.0 L944.9,-181.9 L958.8,-187.6 L971.6,-192.9 L982.2,-197.3 L990.0,-200.5"/>
<path d="M-5.0,190.0 L3.3,189.6 L14.7,189.0 L28.2,188.3 L43.1,187.5 L58.6,186.7 L73.8,185.8 L87.8,184.9 L100.0,184.0 L110.7,183.1 L120.8,182.1 L130.4,181.1 L139.4,180.1 L147.9,179.1 L155.8,178.0 L163.2,177.0 L170.0,176.0 L176.2,175.1 L181.8,174.2 L186.9,173.4 L191.4,172.6 L195.4,171.7 L199.0,170.7 L202.2,169.5 L205.0,168.0 L207.3,166.3 L209.0,164.5 L210.2,162.5 L211.1,160.4 L211.6,158.1 L212.1,155.6 L212.5,152.9 L213.0,150.0 L213.6,146.9 L214.0,143.6 L214.3,140.1 L214.5,136.4 L214.7,132.5 L214.8,128.5 L214.9,124.3 L215.0,120.0 L215.1,115.5 L215.1,110.7 L215.1,105.7 L215.1,100.6 L215.0,95.4 L215.0,90.2 L215.0,85.1 L215.0,80.0 L215.1,75.0 L215.1,70.0 L215.2,65.0 L215.2,60.0 L215.4,55.0 L215.5,50.0 L215.7,45.0 L216.0,40.0 L216.3,35.0 L216.6,30.0 L216.9,25.0 L217.3,20.0 L217.8,15.0 L218.4,10.0 L219.1,5.0 L220.0,0.0 L221.0,-5.0 L222.2,-10.0 L223.4,-15.0 L224.8,-20.0 L226.3,-25.0 L228.0,-30.0 L229.9,-35.0 L232.0,-40.0 L233.9,-44.9 L235.3,-49.8 L236.7,-54.6 L238.3,-59.4 L240.6,-64.3 L243.9,-69.3 L248.6,-74.5 L255.0,-80.0 L263.4,-86.0 L273.6,-92.7 L285.1,-99.8 L297.7,-106.9 L310.8,-113.7 L324.2,-120.1 L337.4,-125.6 L350.0,-130.0 L362.3,-133.3 L374.9,-135.9 L387.6,-137.8 L400.3,-139.1 L413.0,-139.8 L425.6,-140.2 L437.9,-140.2 L450.0,-140.0 L461.7,-139.3 L473.2,-138.0 L484.5,-136.2 L495.6,-134.1 L506.7,-131.7 L517.7,-129.3 L528.8,-127.0 L540.0,-125.0 L551.4,-123.0 L563.0,-120.9 L574.6,-118.6 L586.2,-116.4 L597.7,-114.4 L608.9,-112.6 L619.7,-111.1 L630.0,-110.0 L639.8,-109.4 L649.1,-109.0 L658.2,-109.0 L666.9,-109.2 L675.4,-109.7 L683.7,-110.3 L691.9,-111.1 L700.0,-112.0 L707.9,-113.0 L715.4,-114.2 L722.6,-115.5 L729.8,-117.1 L736.9,-118.8 L744.2,-120.6 L751.9,-122.7 L760.0,-125.0 L768.7,-127.6 L777.9,-130.5 L787.5,-133.7 L797.2,-137.1 L807.0,-140.5 L816.4,-143.8 L825.5,-147.0 L834.0,-150.0 L841.6,-152.6 L848.2,-154.9 L854.4,-157.0 L860.4,-159.1 L866.6,-161.3 L873.3,-163.7 L881.0,-166.6 L890.0,-170.0 L901.1,-174.3 L914.2,-179.5 L928.7,-185.3 L943.5,-191.2 L957.9,-197.1 L971.0,-202.3 L982.0,-206.8 L990.0,-210.0"/>
<path d="M-5.0,13.8 L3.3,14.0 L14.7,14.3 L28.2,14.6 L43.1,15.0 L58.6,15.3 L73.8,15.7 L87.8,16.1 L100.0,16.4 L110.6,16.7 L120.5,17.0 L129.9,17.4 L138.8,17.7 L147.1,18.0 L155.1,18.3 L162.7,18.6 L170.0,18.8 L176.9,19.0 L183.2,19.4 L189.1,19.8 L194.7,20.2 L200.0,20.4 L205.0,20.3 L210.0,19.9 L215.0,18.9 L219.8,17.4 L224.1,15.5 L228.2,13.2 L232.2,10.5 L236.2,7.8 L240.4,5.0 L245.0,2.2 L250.0,-0.5 L255.5,-3.0 L261.2,-5.6 L267.2,-8.2 L273.4,-10.8 L279.9,-13.5 L286.4,-16.1 L293.2,-18.7 L300.0,-21.4 L307.0,-24.0 L314.3,-26.7 L321.8,-29.3 L329.4,-31.9 L337.1,-34.6 L344.8,-37.2 L352.4,-39.9 L360.0,-42.5 L367.7,-45.3 L375.7,-48.1 L383.8,-50.9 L391.9,-53.8 L399.7,-56.5 L407.1,-59.1 L413.9,-61.5 L420.0,-63.7 L425.2,-65.5 L429.6,-67.1 L433.4,-68.5 L436.9,-69.7 L440.1,-70.9 L443.2,-72.0 L446.5,-73.2 L450.0,-74.5 L454.0,-75.9 L458.2,-77.4 L462.6,-79.0 L466.9,-80.5 L470.9,-82.0 L474.6,-83.3 L477.7,-84.4 L480.0,-85.2"/>
<path d="M-5.0,25.7 L3.3,25.9 L14.7,26.1 L28.2,26.3 L43.1,26.6 L58.6,26.9 L73.8,27.2 L87.8,27.5 L100.0,27.8 L110.6,28.0 L120.5,28.3 L129.9,28.6 L138.8,28.8 L147.1,29.1 L155.1,29.3 L162.7,29.4 L170.0,29.5 L176.9,29.7 L183.2,30.0 L189.1,30.3 L194.7,30.5 L200.0,30.6 L205.0,30.4 L210.0,29.9 L215.0,28.8 L219.8,27.3 L224.1,25.3 L228.2,22.9 L232.2,20.3 L236.2,17.5 L240.4,14.6 L245.0,11.8 L250.0,9.1 L255.5,6.4 L261.2,3.8 L267.2,1.1 L273.4,-1.7 L279.9,-4.5 L286.4,-7.2 L293.2,-10.0 L300.0,-12.8 L307.0,-15.5 L314.3,-18.3 L321.8,-21.1 L329.4,-23.9 L337.1,-26.7 L344.8,-29.5 L352.4,-32.3 L360.0,-35.1 L367.7,-37.9 L375.7,-40.9 L383.8,-43.9 L391.9,-46.9 L399.7,-49.8 L407.1,-52.6 L413.9,-55.1 L420.0,-57.4 L425.2,-59.3 L429.6,-61.0 L433.4,-62.5 L436.9,-63.8 L440.1,-65.1 L443.2,-66.3 L446.5,-67.6 L450.0,-68.9 L454.0,-70.4 L458.2,-72.1 L462.6,-73.8 L466.9,-75.4 L470.9,-77.0 L474.6,-78.4 L477.7,-79.6 L480.0,-80.5"/>
<path d="M-5.0,37.5 L3.3,37.7 L14.7,37.8 L28.2,38.0 L43.1,38.3 L58.6,38.5 L73.8,38.7 L87.8,39.0 L100.0,39.2 L110.6,39.3 L120.5,39.5 L129.9,39.7 L138.8,39.9 L147.1,40.1 L155.1,40.2 L162.7,40.3 L170.0,40.3 L176.9,40.4 L183.2,40.5 L189.1,40.7 L194.7,40.9 L200.0,40.8 L205.0,40.5 L210.0,39.9 L215.0,38.8 L219.8,37.2 L224.1,35.1 L228.2,32.7 L232.2,30.0 L236.2,27.2 L240.4,24.3 L245.0,21.4 L250.0,18.6 L255.5,15.9 L261.2,13.1 L267.2,10.3 L273.4,7.4 L279.9,4.6 L286.4,1.6 L293.2,-1.3 L300.0,-4.2 L307.0,-7.1 L314.3,-10.0 L321.8,-12.9 L329.4,-15.8 L337.1,-18.8 L344.8,-21.7 L352.4,-24.7 L360.0,-27.6 L367.7,-30.6 L375.7,-33.7 L383.8,-36.9 L391.9,-40.0 L399.7,-43.1 L407.1,-46.0 L413.9,-48.7 L420.0,-51.1 L425.2,-53.1 L429.6,-54.9 L433.4,-56.5 L436.9,-57.9 L440.1,-59.3 L443.2,-60.6 L446.5,-61.9 L450.0,-63.4 L454.0,-65.0 L458.2,-66.8 L462.6,-68.5 L466.9,-70.3 L470.9,-72.0 L474.6,-73.5 L477.7,-74.7 L480.0,-75.7"/>
<path d="M-5.0,49.4 L3.3,49.5 L14.7,49.6 L28.2,49.8 L43.1,49.9 L58.6,50.1 L73.8,50.3 L87.8,50.4 L100.0,50.5 L110.6,50.7 L120.5,50.8 L129.9,50.9 L138.8,51.0 L147.1,51.1 L155.1,51.2 L162.7,51.2 L170.0,51.1 L176.9,51.0 L183.2,51.1 L189.1,51.2 L194.7,51.2 L200.0,51.0 L205.0,50.6 L210.0,49.9 L215.0,48.7 L219.8,47.0 L224.1,44.9 L228.2,42.5 L232.2,39.8 L236.2,36.9 L240.4,33.9 L245.0,31.0 L250.0,28.2 L255.5,25.3 L261.2,22.5 L267.2,19.5 L273.4,16.6 L279.9,13.6 L286.4,10.5 L293.2,7.5 L300.0,4.5 L307.0,1.4 L314.3,-1.6 L321.8,-4.7 L329.4,-7.8 L337.1,-10.9 L344.8,-14.0 L352.4,-17.1 L360.0,-20.2 L367.7,-23.3 L375.7,-26.6 L383.8,-29.9 L391.9,-33.2 L399.7,-36.4 L407.1,-39.4 L413.9,-42.2 L420.0,-44.8 L425.2,-47.0 L429.6,-48.8 L433.4,-50.5 L436.9,-52.0 L440.1,-53.4 L443.2,-54.8 L446.5,-56.3 L450.0,-57.8 L454.0,-59.6 L458.2,-61.4 L462.6,-63.3 L466.9,-65.2 L470.9,-67.0 L474.6,-68.6 L477.7,-69.9 L480.0,-70.9"/>
<path d="M-5.0,61.2 L3.3,61.3 L14.7,61.4 L28.2,61.5 L43.1,61.6 L58.6,61.7 L73.8,61.8 L87.8,61.9 L100.0,61.9 L110.6,62.0 L120.5,62.0 L129.9,62.1 L138.8,62.1 L147.1,62.1 L155.1,62.1 L162.7,62.0 L170.0,61.8 L176.9,61.7 L183.2,61.7 L189.1,61.6 L194.7,61.5 L200.0,61.3 L205.0,60.7 L210.0,59.9 L215.0,58.6 L219.8,56.9 L224.1,54.7 L228.2,52.2 L232.2,49.5 L236.2,46.6 L240.4,43.6 L245.0,40.6 L250.0,37.7 L255.5,34.8 L261.2,31.8 L267.2,28.8 L273.4,25.7 L279.9,22.6 L286.4,19.4 L293.2,16.2 L300.0,13.1 L307.0,9.9 L314.3,6.7 L321.8,3.5 L329.4,0.3 L337.1,-3.0 L344.8,-6.2 L352.4,-9.5 L360.0,-12.7 L367.7,-16.0 L375.7,-19.4 L383.8,-22.9 L391.9,-26.3 L399.7,-29.7 L407.1,-32.9 L413.9,-35.8 L420.0,-38.5 L425.2,-40.8 L429.6,-42.8 L433.4,-44.5 L436.9,-46.1 L440.1,-47.6 L443.2,-49.1 L446.5,-50.7 L450.0,-52.3 L454.0,-54.1 L458.2,-56.1 L462.6,-58.1 L466.9,-60.1 L470.9,-62.0 L474.6,-63.7 L477.7,-65.1 L480.0,-66.2"/>
<path d="M-5.0,73.1 L3.3,73.1 L14.7,73.1 L28.2,73.2 L43.1,73.2 L58.6,73.3 L73.8,73.3 L87.8,73.3 L100.0,73.3 L110.6,73.3 L120.5,73.3 L129.9,73.3 L138.8,73.2 L147.1,73.2 L155.1,73.0 L162.7,72.9 L170.0,72.6 L176.9,72.4 L183.2,72.2 L189.1,72.1 L194.7,71.9 L200.0,71.5 L205.0,70.8 L210.0,69.9 L215.0,68.5 L219.8,66.7 L224.1,64.5 L228.2,62.0 L232.2,59.2 L236.2,56.3 L240.4,53.3 L245.0,50.2 L250.0,47.2 L255.5,44.3 L261.2,41.2 L267.2,38.0 L273.4,34.8 L279.9,31.6 L286.4,28.3 L293.2,25.0 L300.0,21.7 L307.0,18.4 L314.3,15.1 L321.8,11.7 L329.4,8.3 L337.1,4.9 L344.8,1.5 L352.4,-1.9 L360.0,-5.2 L367.7,-8.7 L375.7,-12.2 L383.8,-15.9 L391.9,-19.5 L399.7,-23.0 L407.1,-26.3 L413.9,-29.4 L420.0,-32.2 L425.2,-34.6 L429.6,-36.7 L433.4,-38.5 L436.9,-40.2 L440.1,-41.8 L443.2,-43.4 L446.5,-45.0 L450.0,-46.8 L454.0,-48.7 L458.2,-50.8 L462.6,-52.9 L466.9,-55.0 L470.9,-57.0 L474.6,-58.8 L477.7,-60.3 L480.0,-61.4"/>
<path d="M-5.0,84.9 L3.3,84.9 L14.7,84.9 L28.2,84.9 L43.1,84.9 L58.6,84.9 L73.8,84.8 L87.8,84.8 L100.0,84.7 L110.6,84.6 L120.5,84.5 L129.9,84.4 L138.8,84.3 L147.1,84.2 L155.1,84.0 L162.7,83.7 L170.0,83.4 L176.9,83.1 L183.2,82.8 L189.1,82.5 L194.7,82.2 L200.0,81.7 L205.0,81.0 L210.0,79.9 L215.0,78.5 L219.8,76.6 L224.1,74.3 L228.2,71.8 L232.2,69.0 L236.2,66.0 L240.4,62.9 L245.0,59.8 L250.0,56.8 L255.5,53.7 L261.2,50.5 L267.2,47.3 L273.4,43.9 L279.9,40.6 L286.4,37.1 L293.2,33.7 L300.0,30.3 L307.0,26.9 L314.3,23.4 L321.8,19.9 L329.4,16.4 L337.1,12.8 L344.8,9.3 L352.4,5.8 L360.0,2.2 L367.7,-1.4 L375.7,-5.1 L383.8,-8.9 L391.9,-12.6 L399.7,-16.2 L407.1,-19.7 L413.9,-22.9 L420.0,-25.8 L425.2,-28.4 L429.6,-30.6 L433.4,-32.5 L436.9,-34.3 L440.1,-36.0 L443.2,-37.7 L446.5,-39.4 L450.0,-41.2 L454.0,-43.3 L458.2,-45.4 L462.6,-47.7 L466.9,-49.9 L470.9,-52.0 L474.6,-53.9 L477.7,-55.4 L480.0,-56.6"/>
<path d="M-5.0,96.8 L3.3,96.7 L14.7,96.7 L28.2,96.6 L43.1,96.5 L58.6,96.5 L73.8,96.4 L87.8,96.2 L100.0,96.1 L110.6,95.9 L120.5,95.8 L129.9,95.6 L138.8,95.4 L147.1,95.2 L155.1,94.9 L162.7,94.6 L170.0,94.2 L176.9,93.7 L183.2,93.4 L189.1,93.0 L194.7,92.5 L200.0,91.9 L205.0,91.1 L210.0,89.9 L215.0,88.4 L219.8,86.4 L224.1,84.1 L228.2,81.5 L232.2,78.7 L236.2,75.7 L240.4,72.6 L245.0,69.4 L250.0,66.3 L255.5,63.2 L261.2,59.9 L267.2,56.5 L273.4,53.1 L279.9,49.6 L286.4,46.0 L293.2,42.5 L300.0,38.9 L307.0,35.4 L314.3,31.7 L321.8,28.1 L329.4,24.4 L337.1,20.7 L344.8,17.0 L352.4,13.4 L360.0,9.7 L367.7,5.9 L375.7,2.1 L383.8,-1.8 L391.9,-5.7 L399.7,-9.5 L407.1,-13.2 L413.9,-16.5 L420.0,-19.5 L425.2,-22.2 L429.6,-24.5 L433.4,-26.6 L436.9,-28.4 L440.1,-30.2 L443.2,-32.0 L446.5,-33.8 L450.0,-35.7 L454.0,-37.8 L458.2,-40.1 L462.6,-42.5 L466.9,-44.8 L470.9,-47.0 L474.6,-48.9 L477.7,-50.6 L480.0,-51.8"/>
<path d="M-5.0,108.6 L3.3,108.5 L14.7,108.4 L28.2,108.3 L43.1,108.2 L58.6,108.0 L73.8,107.9 L87.8,107.7 L100.0,107.5 L110.6,107.2 L120.5,107.0 L129.9,106.8 L138.8,106.5 L147.1,106.2 L155.1,105.9 L162.7,105.4 L170.0,104.9 L176.9,104.4 L183.2,103.9 L189.1,103.4 L194.7,102.9 L200.0,102.1 L205.0,101.2 L210.0,99.9 L215.0,98.3 L219.8,96.3 L224.1,93.9 L228.2,91.3 L232.2,88.4 L236.2,85.4 L240.4,82.2 L245.0,79.0 L250.0,75.8 L255.5,72.6 L261.2,69.2 L267.2,65.8 L273.4,62.2 L279.9,58.6 L286.4,54.9 L293.2,51.2 L300.0,47.5 L307.0,43.8 L314.3,40.1 L321.8,36.3 L329.4,32.5 L337.1,28.6 L344.8,24.8 L352.4,21.0 L360.0,17.2 L367.7,13.3 L375.7,9.2 L383.8,5.2 L391.9,1.1 L399.7,-2.8 L407.1,-6.6 L413.9,-10.1 L420.0,-13.2 L425.2,-16.0 L429.6,-18.4 L433.4,-20.6 L436.9,-22.5 L440.1,-24.4 L443.2,-26.2 L446.5,-28.1 L450.0,-30.2 L454.0,-32.4 L458.2,-34.8 L462.6,-37.2 L466.9,-39.7 L470.9,-42.0 L474.6,-44.0 L477.7,-45.8 L480.0,-47.1"/>
<path d="M-5.0,120.5 L3.3,120.3 L14.7,120.2 L28.2,120.0 L43.1,119.9 L58.6,119.6 L73.8,119.4 L87.8,119.1 L100.0,118.8 L110.6,118.6 L120.5,118.3 L129.9,118.0 L138.8,117.6 L147.1,117.3 L155.1,116.8 L162.7,116.3 L170.0,115.7 L176.9,115.1 L183.2,114.5 L189.1,113.9 L194.7,113.2 L200.0,112.3 L205.0,111.3 L210.0,109.9 L215.0,108.2 L219.8,106.2 L224.1,103.8 L228.2,101.1 L232.2,98.2 L236.2,95.1 L240.4,91.9 L245.0,88.7 L250.0,85.4 L255.5,82.1 L261.2,78.6 L267.2,75.0 L273.4,71.3 L279.9,67.6 L286.4,63.8 L293.2,60.0 L300.0,56.2 L307.0,52.3 L314.3,48.4 L321.8,44.5 L329.4,40.5 L337.1,36.5 L344.8,32.6 L352.4,28.6 L360.0,24.6 L367.7,20.6 L375.7,16.4 L383.8,12.2 L391.9,8.0 L399.7,3.9 L407.1,-0.0 L413.9,-3.6 L420.0,-6.9 L425.2,-9.8 L429.6,-12.3 L433.4,-14.6 L436.9,-16.6 L440.1,-18.6 L443.2,-20.5 L446.5,-22.5 L450.0,-24.6 L454.0,-26.9 L458.2,-29.5 L462.6,-32.0 L466.9,-34.6 L470.9,-37.0 L474.6,-39.1 L477.7,-40.9 L480.0,-42.3"/>
<path d="M-5.0,132.3 L3.3,132.2 L14.7,132.0 L28.2,131.8 L43.1,131.5 L58.6,131.2 L73.8,130.9 L87.8,130.6 L100.0,130.2 L110.6,129.9 L120.5,129.5 L129.9,129.1 L138.8,128.7 L147.1,128.3 L155.1,127.8 L162.7,127.2 L170.0,126.5 L176.9,125.7 L183.2,125.1 L189.1,124.3 L194.7,123.5 L200.0,122.6 L205.0,121.4 L210.0,119.9 L215.0,118.2 L219.8,116.0 L224.1,113.6 L228.2,110.8 L232.2,107.9 L236.2,104.8 L240.4,101.6 L245.0,98.3 L250.0,94.9 L255.5,91.5 L261.2,87.9 L267.2,84.2 L273.4,80.4 L279.9,76.6 L286.4,72.6 L293.2,68.7 L300.0,64.8 L307.0,60.8 L314.3,56.8 L321.8,52.7 L329.4,48.6 L337.1,44.4 L344.8,40.3 L352.4,36.2 L360.0,32.1 L367.7,27.9 L375.7,23.6 L383.8,19.2 L391.9,14.8 L399.7,10.6 L407.1,6.6 L413.9,2.8 L420.0,-0.6 L425.2,-3.6 L429.6,-6.2 L433.4,-8.6 L436.9,-10.7 L440.1,-12.8 L443.2,-14.8 L446.5,-16.9 L450.0,-19.1 L454.0,-21.5 L458.2,-24.1 L462.6,-26.8 L466.9,-29.5 L470.9,-32.0 L474.6,-34.2 L477.7,-36.1 L480.0,-37.5"/>
<path d="M-5.0,144.2 L3.3,144.0 L14.7,143.7 L28.2,143.5 L43.1,143.2 L58.6,142.8 L73.8,142.4 L87.8,142.0 L100.0,141.6 L110.6,141.2 L120.5,140.8 L129.9,140.3 L138.8,139.8 L147.1,139.3 L155.1,138.7 L162.7,138.0 L170.0,137.2 L176.9,136.4 L183.2,135.6 L189.1,134.8 L194.7,133.9 L200.0,132.8 L205.0,131.5 L210.0,129.9 L215.0,128.1 L219.8,125.9 L224.1,123.4 L228.2,120.6 L232.2,117.6 L236.2,114.5 L240.4,111.2 L245.0,107.9 L250.0,104.5 L255.5,101.0 L261.2,97.3 L267.2,93.5 L273.4,89.6 L279.9,85.6 L286.4,81.5 L293.2,77.5 L300.0,73.4 L307.0,69.3 L314.3,65.1 L321.8,60.9 L329.4,56.6 L337.1,52.4 L344.8,48.1 L352.4,43.8 L360.0,39.5 L367.7,35.2 L375.7,30.7 L383.8,26.2 L391.9,21.7 L399.7,17.3 L407.1,13.1 L413.9,9.2 L420.0,5.7 L425.2,2.6 L429.6,-0.1 L433.4,-2.6 L436.9,-4.8 L440.1,-7.0 L443.2,-9.1 L446.5,-11.2 L450.0,-13.5 L454.0,-16.1 L458.2,-18.8 L462.6,-21.6 L466.9,-24.4 L470.9,-27.0 L474.6,-29.3 L477.7,-31.3 L480.0,-32.8"/>
<path d="M-5.0,156.0 L3.3,155.8 L14.7,155.5 L28.2,155.2 L43.1,154.8 L58.6,154.4 L73.8,154.0 L87.8,153.5 L100.0,153.0 L110.6,152.5 L120.5,152.0 L129.9,151.5 L138.8,150.9 L147.1,150.3 L155.1,149.6 L162.7,148.9 L170.0,148.0 L176.9,147.1 L183.2,146.2 L189.1,145.2 L194.7,144.2 L200.0,143.0 L205.0,141.6 L210.0,140.0 L215.0,138.0 L219.8,135.7 L224.1,133.2 L228.2,130.4 L232.2,127.4 L236.2,124.2 L240.4,120.9 L245.0,117.5 L250.0,114.0 L255.5,110.4 L261.2,106.6 L267.2,102.7 L273.4,98.7 L279.9,94.6 L286.4,90.4 L293.2,86.2 L300.0,82.0 L307.0,77.8 L314.3,73.5 L321.8,69.1 L329.4,64.7 L337.1,60.3 L344.8,55.8 L352.4,51.4 L360.0,47.0 L367.7,42.5 L375.7,37.9 L383.8,33.2 L391.9,28.6 L399.7,24.0 L407.1,19.7 L413.9,15.7 L420.0,12.0 L425.2,8.8 L429.6,5.9 L433.4,3.4 L436.9,1.1 L440.1,-1.2 L443.2,-3.4 L446.5,-5.6 L450.0,-8.0 L454.0,-10.6 L458.2,-13.5 L462.6,-16.4 L466.9,-19.2 L470.9,-22.0 L474.6,-24.4 L477.7,-26.5 L480.0,-28.0"/>
<path d="M950.0,-10.0 L953.0,-8.6 L957.0,-6.6 L961.6,-4.2 L966.9,-1.6 L972.5,1.0 L978.4,3.6 L984.2,6.0 L990.0,8.0 L995.7,9.7 L1001.6,11.2 L1007.6,12.5 L1013.8,13.8 L1020.1,14.9 L1026.6,16.0 L1033.2,17.0 L1040.0,18.0 L1046.9,19.0 L1053.8,19.9 L1060.9,20.7 L1068.1,21.5 L1075.6,22.2 L1083.4,22.9 L1091.5,23.5 L1100.0,24.0 L1109.0,24.5 L1118.4,24.9 L1128.1,25.2 L1138.1,25.5 L1148.4,25.7 L1158.8,25.9 L1169.4,26.0 L1180.0,26.0 L1190.7,26.0 L1201.7,25.9 L1212.8,25.9 L1224.1,25.7 L1235.4,25.4 L1246.9,25.1 L1258.4,24.6 L1270.0,24.0 L1281.7,23.2 L1293.6,22.3 L1305.7,21.2 L1317.8,20.0 L1329.9,18.8 L1341.8,17.5 L1353.6,16.2 L1365.0,15.0 L1376.7,13.7 L1388.9,12.3 L1401.3,10.9 L1413.4,9.4 L1424.8,8.1 L1435.0,6.8 L1443.5,5.8 L1450.0,5.0"/>
<path d="M945.8,-10.0 L948.9,-8.4 L953.0,-6.2 L957.8,-3.6 L963.2,-0.7 L969.1,2.3 L975.1,5.3 L981.2,8.0 L987.1,10.3 L993.0,12.3 L999.0,14.2 L1005.2,16.0 L1011.5,17.6 L1018.0,19.2 L1024.6,20.7 L1031.4,22.1 L1038.4,23.5 L1045.4,24.9 L1052.5,26.2 L1059.7,27.4 L1067.0,28.6 L1074.6,29.7 L1082.5,30.7 L1090.7,31.7 L1099.4,32.6 L1108.4,33.4 L1117.9,34.2 L1127.7,34.9 L1137.9,35.6 L1148.2,36.2 L1158.7,36.7 L1169.3,37.1 L1180.0,37.4 L1190.8,37.7 L1201.7,37.9 L1212.8,38.1 L1224.1,38.2 L1235.5,38.1 L1246.9,38.0 L1258.4,37.6 L1270.0,37.2 L1281.7,36.5 L1293.6,35.6 L1305.7,34.5 L1317.8,33.3 L1329.9,32.1 L1341.8,30.8 L1353.6,29.5 L1365.0,28.2 L1376.7,26.9 L1388.9,25.5 L1401.3,24.0 L1413.4,22.5 L1424.8,21.1 L1435.0,19.8 L1443.5,18.7 L1450.0,17.9"/>
<path d="M941.6,-10.0 L944.8,-8.2 L949.0,-5.8 L954.0,-2.9 L959.6,0.3 L965.6,3.6 L971.8,6.9 L978.1,10.0 L984.2,12.6 L990.2,15.0 L996.4,17.3 L1002.8,19.5 L1009.3,21.5 L1015.9,23.5 L1022.7,25.4 L1029.7,27.3 L1036.8,29.1 L1043.9,30.8 L1051.1,32.5 L1058.5,34.1 L1065.9,35.7 L1073.7,37.2 L1081.6,38.6 L1090.0,39.9 L1098.7,41.2 L1107.9,42.4 L1117.5,43.5 L1127.4,44.6 L1137.6,45.7 L1148.0,46.6 L1158.6,47.5 L1169.3,48.2 L1180.0,48.8 L1190.8,49.4 L1201.8,49.9 L1212.9,50.3 L1224.1,50.6 L1235.5,50.8 L1246.9,50.8 L1258.5,50.7 L1270.0,50.3 L1281.7,49.7 L1293.6,48.9 L1305.7,47.8 L1317.8,46.6 L1329.9,45.4 L1341.8,44.0 L1353.6,42.7 L1365.0,41.5 L1376.7,40.1 L1388.9,38.7 L1401.3,37.1 L1413.4,35.6 L1424.8,34.1 L1435.0,32.8 L1443.5,31.6 L1450.0,30.8"/>
<path d="M937.4,-10.0 L940.7,-8.0 L945.1,-5.4 L950.2,-2.2 L956.0,1.3 L962.2,4.9 L968.6,8.5 L975.0,11.9 L981.3,15.0 L987.5,17.7 L993.8,20.4 L1000.4,22.9 L1007.0,25.4 L1013.9,27.8 L1020.8,30.2 L1027.9,32.4 L1035.2,34.6 L1042.5,36.8 L1049.8,38.8 L1057.3,40.8 L1064.9,42.8 L1072.7,44.6 L1080.8,46.4 L1089.2,48.1 L1098.1,49.7 L1107.3,51.3 L1117.0,52.9 L1127.0,54.3 L1137.3,55.7 L1147.8,57.0 L1158.5,58.2 L1169.2,59.3 L1180.0,60.3 L1190.8,61.1 L1201.8,61.9 L1212.9,62.5 L1224.2,63.1 L1235.5,63.5 L1247.0,63.7 L1258.5,63.7 L1270.0,63.5 L1281.7,63.0 L1293.6,62.2 L1305.7,61.2 L1317.8,60.0 L1329.9,58.7 L1341.8,57.3 L1353.6,56.0 L1365.0,54.7 L1376.7,53.3 L1388.9,51.8 L1401.3,50.2 L1413.4,48.6 L1424.8,47.1 L1435.0,45.7 L1443.5,44.6 L1450.0,43.7"/>
<path d="M933.2,-10.0 L936.6,-7.9 L941.1,-5.0 L946.4,-1.6 L952.4,2.2 L958.7,6.2 L965.3,10.1 L972.0,13.9 L978.4,17.3 L984.7,20.4 L991.3,23.4 L998.0,26.4 L1004.8,29.3 L1011.8,32.1 L1018.9,34.9 L1026.2,37.6 L1033.5,40.2 L1041.0,42.7 L1048.5,45.2 L1056.0,47.6 L1063.8,49.9 L1071.7,52.1 L1079.9,54.2 L1088.5,56.3 L1097.4,58.3 L1106.8,60.3 L1116.6,62.2 L1126.7,64.0 L1137.1,65.8 L1147.7,67.5 L1158.4,69.0 L1169.2,70.4 L1180.0,71.7 L1190.9,72.8 L1201.9,73.8 L1213.0,74.8 L1224.2,75.5 L1235.6,76.2 L1247.0,76.6 L1258.5,76.7 L1270.0,76.6 L1281.7,76.2 L1293.6,75.5 L1305.7,74.5 L1317.8,73.3 L1329.9,72.0 L1341.8,70.6 L1353.6,69.2 L1365.0,67.9 L1376.7,66.5 L1388.9,65.0 L1401.3,63.4 L1413.4,61.7 L1424.8,60.1 L1435.0,58.7 L1443.5,57.5 L1450.0,56.6"/>
<path d="M929.0,-10.0 L932.5,-7.7 L937.1,-4.6 L942.6,-0.9 L948.7,3.2 L955.3,7.5 L962.1,11.8 L968.9,15.9 L975.5,19.6 L982.0,23.1 L988.7,26.5 L995.6,29.9 L1002.6,33.2 L1009.7,36.5 L1017.0,39.6 L1024.4,42.7 L1031.9,45.7 L1039.5,48.7 L1047.1,51.5 L1054.8,54.3 L1062.7,56.9 L1070.7,59.5 L1079.1,62.1 L1087.7,64.5 L1096.8,66.9 L1106.3,69.2 L1116.1,71.5 L1126.3,73.8 L1136.8,75.9 L1147.5,77.9 L1158.3,79.8 L1169.1,81.6 L1180.0,83.1 L1190.9,84.5 L1201.9,85.8 L1213.0,87.0 L1224.3,88.0 L1235.6,88.8 L1247.0,89.4 L1258.5,89.8 L1270.0,89.8 L1281.7,89.5 L1293.6,88.8 L1305.7,87.8 L1317.8,86.6 L1329.9,85.3 L1341.8,83.9 L1353.6,82.5 L1365.0,81.1 L1376.7,79.7 L1388.9,78.2 L1401.3,76.5 L1413.4,74.8 L1424.8,73.1 L1435.0,71.7 L1443.5,70.4 L1450.0,69.5"/>
<path d="M924.8,-10.0 L928.5,-7.5 L933.2,-4.2 L938.8,-0.2 L945.1,4.1 L951.8,8.7 L958.8,13.4 L965.8,17.8 L972.6,21.9 L979.3,25.8 L986.1,29.6 L993.1,33.4 L1000.3,37.1 L1007.6,40.8 L1015.1,44.4 L1022.7,47.9 L1030.3,51.3 L1038.0,54.6 L1045.8,57.8 L1053.6,61.0 L1061.6,64.0 L1069.8,67.0 L1078.2,69.9 L1087.0,72.7 L1096.1,75.5 L1105.7,78.2 L1115.7,80.9 L1126.0,83.5 L1136.6,86.0 L1147.3,88.4 L1158.2,90.6 L1169.1,92.7 L1180.0,94.5 L1190.9,96.2 L1202.0,97.8 L1213.1,99.2 L1224.3,100.5 L1235.6,101.5 L1247.0,102.3 L1258.5,102.8 L1270.0,103.0 L1281.7,102.7 L1293.6,102.1 L1305.7,101.1 L1317.8,99.9 L1329.9,98.6 L1341.8,97.1 L1353.6,95.7 L1365.0,94.4 L1376.7,92.9 L1388.9,91.3 L1401.3,89.6 L1413.4,87.8 L1424.8,86.2 L1435.0,84.6 L1443.5,83.4 L1450.0,82.4"/>
<path d="M920.6,-10.0 L924.4,-7.3 L929.2,-3.8 L935.0,0.4 L941.5,5.1 L948.4,10.0 L955.6,15.0 L962.7,19.8 L969.7,24.3 L976.5,28.4 L983.6,32.6 L990.7,36.8 L998.1,41.0 L1005.6,45.1 L1013.2,49.1 L1020.9,53.0 L1028.7,56.8 L1036.6,60.5 L1044.4,64.1 L1052.4,67.7 L1060.5,71.1 L1068.8,74.5 L1077.4,77.8 L1086.2,81.0 L1095.5,84.1 L1105.2,87.1 L1115.2,90.2 L1125.6,93.2 L1136.3,96.1 L1147.1,98.8 L1158.1,101.4 L1169.1,103.8 L1180.0,105.9 L1191.0,107.9 L1202.0,109.7 L1213.1,111.4 L1224.3,112.9 L1235.6,114.2 L1247.0,115.2 L1258.5,115.8 L1270.0,116.1 L1281.7,116.0 L1293.6,115.4 L1305.7,114.5 L1317.8,113.3 L1329.9,111.9 L1341.8,110.4 L1353.6,109.0 L1365.0,107.6 L1376.7,106.1 L1388.9,104.5 L1401.3,102.7 L1413.4,100.9 L1424.8,99.2 L1435.0,97.6 L1443.5,96.3 L1450.0,95.3"/>
<path d="M916.5,-10.0 L920.3,-7.2 L925.3,-3.4 L931.2,1.1 L937.8,6.1 L945.0,11.3 L952.3,16.6 L959.7,21.8 L966.8,26.6 L973.8,31.1 L981.0,35.7 L988.3,40.3 L995.8,44.9 L1003.5,49.4 L1011.3,53.8 L1019.1,58.2 L1027.1,62.4 L1035.1,66.5 L1043.1,70.5 L1051.2,74.4 L1059.4,78.2 L1067.8,81.9 L1076.5,85.6 L1085.5,89.2 L1094.8,92.6 L1104.6,96.1 L1114.8,99.5 L1125.3,102.9 L1136.0,106.1 L1146.9,109.3 L1158.0,112.2 L1169.0,114.9 L1180.0,117.4 L1191.0,119.6 L1202.0,121.7 L1213.2,123.7 L1224.4,125.4 L1235.7,126.9 L1247.0,128.0 L1258.5,128.9 L1270.0,129.3 L1281.7,129.2 L1293.6,128.7 L1305.7,127.8 L1317.8,126.6 L1329.9,125.2 L1341.8,123.7 L1353.6,122.2 L1365.0,120.8 L1376.7,119.3 L1388.9,117.7 L1401.3,115.8 L1413.4,114.0 L1424.8,112.2 L1435.0,110.6 L1443.5,109.2 L1450.0,108.2"/>
<path d="M912.3,-10.0 L916.2,-7.0 L921.3,-3.0 L927.4,1.7 L934.2,7.0 L941.5,12.6 L949.1,18.3 L956.6,23.8 L963.9,28.9 L971.0,33.8 L978.4,38.8 L985.9,43.8 L993.6,48.8 L1001.4,53.7 L1009.3,58.6 L1017.4,63.3 L1025.5,67.9 L1033.6,72.4 L1041.8,76.8 L1050.0,81.1 L1058.3,85.3 L1066.9,89.4 L1075.6,93.4 L1084.7,97.4 L1094.2,101.2 L1104.1,105.0 L1114.3,108.8 L1124.9,112.6 L1135.8,116.2 L1146.8,119.7 L1157.9,123.0 L1169.0,126.0 L1180.0,128.8 L1191.0,131.3 L1202.1,133.7 L1213.2,135.9 L1224.4,137.9 L1235.7,139.6 L1247.1,140.9 L1258.5,141.9 L1270.0,142.5 L1281.7,142.5 L1293.6,142.0 L1305.7,141.1 L1317.8,139.9 L1329.9,138.5 L1341.8,137.0 L1353.6,135.5 L1365.0,134.0 L1376.7,132.5 L1388.9,130.8 L1401.3,129.0 L1413.4,127.1 L1424.8,125.2 L1435.0,123.6 L1443.5,122.2 L1450.0,121.1"/>
<path d="M908.1,-10.0 L912.1,-6.8 L917.3,-2.6 L923.6,2.4 L930.6,8.0 L938.1,13.9 L945.8,19.9 L953.5,25.7 L961.0,31.2 L968.3,36.5 L975.8,41.9 L983.5,47.3 L991.4,52.7 L999.3,58.0 L1007.4,63.3 L1015.6,68.5 L1023.9,73.5 L1032.1,78.3 L1040.4,83.1 L1048.8,87.8 L1057.2,92.4 L1065.9,96.9 L1074.8,101.3 L1084.0,105.6 L1093.5,109.8 L1103.5,114.0 L1113.9,118.2 L1124.6,122.3 L1135.5,126.3 L1146.6,130.2 L1157.7,133.8 L1168.9,137.2 L1180.0,140.2 L1191.0,143.0 L1202.1,145.7 L1213.3,148.1 L1224.5,150.3 L1235.7,152.2 L1247.1,153.8 L1258.5,154.9 L1270.0,155.6 L1281.7,155.7 L1293.6,155.3 L1305.7,154.4 L1317.8,153.2 L1329.9,151.8 L1341.8,150.2 L1353.6,148.7 L1365.0,147.3 L1376.7,145.7 L1388.9,144.0 L1401.3,142.1 L1413.4,140.1 L1424.8,138.2 L1435.0,136.5 L1443.5,135.1 L1450.0,134.0"/>
<path d="M903.9,-10.0 L908.0,-6.7 L913.4,-2.2 L919.8,3.1 L927.0,8.9 L934.6,15.2 L942.5,21.5 L950.4,27.7 L958.1,33.5 L965.6,39.2 L973.3,44.9 L981.1,50.7 L989.1,56.6 L997.3,62.3 L1005.5,68.0 L1013.9,73.6 L1022.3,79.0 L1030.7,84.3 L1039.1,89.4 L1047.6,94.5 L1056.1,99.5 L1064.9,104.3 L1073.9,109.1 L1083.2,113.8 L1092.9,118.4 L1103.0,122.9 L1113.5,127.5 L1124.2,132.0 L1135.2,136.4 L1146.4,140.6 L1157.6,144.6 L1168.9,148.3 L1180.0,151.6 L1191.1,154.7 L1202.2,157.6 L1213.3,160.3 L1224.5,162.8 L1235.8,164.9 L1247.1,166.6 L1258.5,168.0 L1270.0,168.8 L1281.7,169.0 L1293.6,168.6 L1305.7,167.8 L1317.8,166.5 L1329.9,165.1 L1341.8,163.5 L1353.6,161.9 L1365.0,160.5 L1376.7,158.9 L1388.9,157.1 L1401.3,155.2 L1413.4,153.2 L1424.8,151.3 L1435.0,149.5 L1443.5,148.0 L1450.0,146.9"/>
<path d="M899.7,-10.0 L903.9,-6.5 L909.4,-1.8 L916.0,3.7 L923.3,9.9 L931.2,16.4 L939.3,23.1 L947.4,29.7 L955.2,35.9 L962.8,41.9 L970.7,48.0 L978.7,54.2 L986.9,60.4 L995.2,66.7 L1003.6,72.8 L1012.1,78.8 L1020.6,84.6 L1029.2,90.2 L1037.7,95.8 L1046.3,101.2 L1055.1,106.6 L1064.0,111.8 L1073.1,117.0 L1082.5,122.0 L1092.3,127.0 L1102.4,131.9 L1113.0,136.8 L1123.9,141.7 L1135.0,146.5 L1146.2,151.0 L1157.5,155.4 L1168.8,159.4 L1180.0,163.0 L1191.1,166.4 L1202.2,169.6 L1213.4,172.6 L1224.5,175.3 L1235.8,177.6 L1247.1,179.5 L1258.5,181.0 L1270.0,181.9 L1281.7,182.2 L1293.6,181.9 L1305.7,181.1 L1317.8,179.9 L1329.9,178.4 L1341.8,176.8 L1353.6,175.2 L1365.0,173.7 L1376.7,172.2 L1388.9,170.3 L1401.3,168.3 L1413.4,166.3 L1424.8,164.3 L1435.0,162.5 L1443.5,160.9 L1450.0,159.8"/>
<path d="M895.5,-10.0 L899.8,-6.3 L905.5,-1.4 L912.2,4.4 L919.7,10.9 L927.7,17.7 L936.0,24.8 L944.3,31.7 L952.3,38.2 L960.1,44.6 L968.1,51.1 L976.3,57.7 L984.7,64.3 L993.1,71.0 L1001.7,77.5 L1010.3,83.9 L1019.0,90.1 L1027.7,96.2 L1036.4,102.1 L1045.1,107.9 L1054.0,113.7 L1063.0,119.3 L1072.2,124.8 L1081.7,130.2 L1091.6,135.5 L1101.9,140.8 L1112.6,146.2 L1123.5,151.4 L1134.7,156.5 L1146.0,161.5 L1157.4,166.2 L1168.8,170.5 L1180.0,174.5 L1191.1,178.1 L1202.3,181.6 L1213.4,184.8 L1224.6,187.7 L1235.8,190.3 L1247.1,192.4 L1258.5,194.0 L1270.0,195.1 L1281.7,195.5 L1293.6,195.2 L1305.7,194.4 L1317.8,193.2 L1329.9,191.7 L1341.8,190.1 L1353.6,188.4 L1365.0,186.9 L1376.7,185.4 L1388.9,183.5 L1401.3,181.4 L1413.4,179.3 L1424.8,177.3 L1435.0,175.4 L1443.5,173.9 L1450.0,172.7"/>
<path d="M891.3,-10.0 L895.7,-6.1 L901.5,-1.0 L908.4,5.0 L916.1,11.8 L924.3,19.0 L932.8,26.4 L941.2,33.6 L949.4,40.5 L957.3,47.2 L965.5,54.1 L973.9,61.2 L982.4,68.2 L991.1,75.3 L999.8,82.2 L1008.6,89.1 L1017.4,95.7 L1026.2,102.1 L1035.1,108.4 L1043.9,114.6 L1052.9,120.7 L1062.0,126.7 L1071.4,132.6 L1081.0,138.4 L1091.0,144.1 L1101.3,149.8 L1112.1,155.5 L1123.2,161.1 L1134.5,166.6 L1145.9,171.9 L1157.3,177.0 L1168.7,181.6 L1180.0,185.9 L1191.2,189.8 L1202.3,193.5 L1213.5,197.0 L1224.6,200.2 L1235.8,202.9 L1247.1,205.3 L1258.5,207.1 L1270.0,208.3 L1281.7,208.7 L1293.6,208.5 L1305.7,207.7 L1317.8,206.5 L1329.9,205.0 L1341.8,203.4 L1353.6,201.7 L1365.0,200.2 L1376.7,198.6 L1388.9,196.6 L1401.3,194.5 L1413.4,192.4 L1424.8,190.3 L1435.0,188.4 L1443.5,186.8 L1450.0,185.6"/>
<path d="M887.1,-10.0 L891.6,-6.0 L897.5,-0.6 L904.6,5.7 L912.4,12.8 L920.9,20.3 L929.5,28.0 L938.1,35.6 L946.5,42.8 L954.6,49.9 L963.0,57.2 L971.5,64.6 L980.2,72.1 L989.0,79.6 L997.9,87.0 L1006.8,94.2 L1015.8,101.2 L1024.8,108.0 L1033.7,114.7 L1042.7,121.3 L1051.8,127.8 L1061.0,134.2 L1070.5,140.5 L1080.2,146.7 L1090.3,152.7 L1100.8,158.8 L1111.7,164.8 L1122.8,170.8 L1134.2,176.7 L1145.7,182.4 L1157.2,187.7 L1168.7,192.7 L1180.0,197.3 L1191.2,201.5 L1202.4,205.5 L1213.5,209.2 L1224.7,212.6 L1235.9,215.6 L1247.1,218.1 L1258.5,220.1 L1270.0,221.4 L1281.7,222.0 L1293.6,221.8 L1305.7,221.1 L1317.8,219.8 L1329.9,218.3 L1341.8,216.6 L1353.6,214.9 L1365.0,213.4 L1376.7,211.8 L1388.9,209.8 L1401.3,207.7 L1413.4,205.5 L1424.8,203.3 L1435.0,201.4 L1443.5,199.7 L1450.0,198.5"/>
<path d="M882.9,-10.0 L887.5,-5.8 L893.6,-0.2 L900.8,6.4 L908.8,13.7 L917.4,21.6 L926.3,29.6 L935.1,37.6 L943.5,45.2 L951.9,52.6 L960.4,60.3 L969.1,68.1 L977.9,76.0 L986.9,83.9 L996.0,91.7 L1005.1,99.4 L1014.2,106.8 L1023.3,114.0 L1032.4,121.1 L1041.5,128.0 L1050.7,134.9 L1060.1,141.7 L1069.6,148.3 L1079.5,154.9 L1089.7,161.3 L1100.3,167.7 L1111.2,174.1 L1122.5,180.5 L1133.9,186.8 L1145.5,192.8 L1157.1,198.5 L1168.6,203.9 L1180.0,208.7 L1191.2,213.2 L1202.4,217.5 L1213.6,221.5 L1224.7,225.1 L1235.9,228.3 L1247.2,231.0 L1258.5,233.1 L1270.0,234.6 L1281.7,235.3 L1293.6,235.1 L1305.7,234.4 L1317.8,233.2 L1329.9,231.6 L1341.8,229.9 L1353.6,228.2 L1365.0,226.6 L1376.7,225.0 L1388.9,223.0 L1401.3,220.8 L1413.4,218.5 L1424.8,216.3 L1435.0,214.3 L1443.5,212.7 L1450.0,211.5"/>
<path d="M878.7,-10.0 L883.4,-5.6 L889.6,0.2 L897.0,7.0 L905.2,14.7 L914.0,22.9 L923.0,31.2 L932.0,39.6 L940.6,47.5 L949.1,55.3 L957.8,63.3 L966.7,71.6 L975.7,79.9 L984.8,88.2 L994.0,96.5 L1003.3,104.5 L1012.6,112.3 L1021.8,119.9 L1031.0,127.4 L1040.3,134.8 L1049.6,142.0 L1059.1,149.1 L1068.8,156.2 L1078.8,163.1 L1089.0,169.9 L1099.7,176.7 L1110.8,183.5 L1122.1,190.2 L1133.7,196.9 L1145.3,203.3 L1157.0,209.3 L1168.6,215.0 L1180.0,220.1 L1191.3,224.9 L1202.5,229.5 L1213.6,233.7 L1224.7,237.6 L1235.9,241.0 L1247.2,243.9 L1258.5,246.1 L1270.0,247.7 L1281.7,248.5 L1293.6,248.4 L1305.7,247.7 L1317.8,246.5 L1329.9,244.9 L1341.8,243.2 L1353.6,241.4 L1365.0,239.8 L1376.7,238.2 L1388.9,236.1 L1401.3,233.9 L1413.4,231.6 L1424.8,229.4 L1435.0,227.3 L1443.5,225.6 L1450.0,224.4"/>
<path d="M874.5,-10.0 L879.3,-5.4 L885.6,0.6 L893.2,7.7 L901.6,15.6 L910.5,24.1 L919.8,32.9 L928.9,41.5 L937.7,49.8 L946.4,58.0 L955.2,66.4 L964.3,75.1 L973.5,83.8 L982.8,92.5 L992.1,101.2 L1001.5,109.7 L1011.0,117.9 L1020.3,125.9 L1029.7,133.7 L1039.1,141.5 L1048.5,149.1 L1058.1,156.6 L1067.9,164.0 L1078.0,171.3 L1088.4,178.5 L1099.2,185.6 L1110.3,192.8 L1121.8,200.0 L1133.4,207.0 L1145.1,213.7 L1156.9,220.1 L1168.5,226.1 L1180.0,231.5 L1191.3,236.6 L1202.5,241.4 L1213.6,245.9 L1224.8,250.0 L1236.0,253.7 L1247.2,256.7 L1258.5,259.2 L1270.0,260.9 L1281.7,261.8 L1293.6,261.7 L1305.7,261.0 L1317.8,259.8 L1329.9,258.2 L1341.8,256.5 L1353.6,254.7 L1365.0,253.1 L1376.7,251.4 L1388.9,249.3 L1401.3,247.0 L1413.4,244.7 L1424.8,242.4 L1435.0,240.3 L1443.5,238.5 L1450.0,237.3"/>
<path d="M870.3,-10.0 L875.2,-5.3 L881.7,0.9 L889.4,8.3 L897.9,16.6 L907.1,25.4 L916.5,34.5 L925.9,43.5 L934.8,52.1 L943.6,60.7 L952.7,69.5 L961.9,78.5 L971.2,87.7 L980.7,96.8 L990.2,105.9 L999.8,114.8 L1009.4,123.4 L1018.9,131.8 L1028.4,140.0 L1037.9,148.2 L1047.4,156.2 L1057.2,164.1 L1067.1,171.8 L1077.3,179.5 L1087.7,187.0 L1098.6,194.6 L1109.9,202.1 L1121.4,209.7 L1133.1,217.0 L1145.0,224.1 L1156.8,230.9 L1168.5,237.2 L1180.0,243.0 L1191.3,248.3 L1202.5,253.4 L1213.7,258.2 L1224.8,262.5 L1236.0,266.3 L1247.2,269.6 L1258.5,272.2 L1270.0,274.1 L1281.7,275.0 L1293.6,275.0 L1305.7,274.4 L1317.8,273.1 L1329.9,271.5 L1341.8,269.7 L1353.6,267.9 L1365.0,266.3 L1376.7,264.6 L1388.9,262.5 L1401.3,260.1 L1413.4,257.7 L1424.8,255.4 L1435.0,253.3 L1443.5,251.5 L1450.0,250.2"/>
<path d="M866.1,-10.0 L871.1,-5.1 L877.7,1.3 L885.5,9.0 L894.3,17.6 L903.6,26.7 L913.2,36.1 L922.8,45.5 L931.9,54.5 L940.9,63.3 L950.1,72.6 L959.5,82.0 L969.0,91.6 L978.6,101.2 L988.3,110.7 L998.0,120.0 L1007.7,129.0 L1017.4,137.7 L1027.0,146.4 L1036.6,154.9 L1046.4,163.3 L1056.2,171.5 L1066.2,179.7 L1076.5,187.7 L1087.1,195.6 L1098.1,203.5 L1109.4,211.5 L1121.1,219.4 L1132.9,227.1 L1144.8,234.6 L1156.7,241.7 L1168.4,248.3 L1180.0,254.4 L1191.4,260.0 L1202.6,265.4 L1213.7,270.4 L1224.9,275.0 L1236.0,279.0 L1247.2,282.5 L1258.5,285.2 L1270.0,287.2 L1281.7,288.3 L1293.6,288.4 L1305.7,287.7 L1317.8,286.5 L1329.9,284.8 L1341.8,283.0 L1353.6,281.2 L1365.0,279.5 L1376.7,277.8 L1388.9,275.6 L1401.3,273.3 L1413.4,270.8 L1424.8,268.4 L1435.0,266.2 L1443.5,264.4 L1450.0,263.1"/>
<path d="M861.9,-10.0 L867.0,-4.9 L873.8,1.7 L881.7,9.7 L890.7,18.5 L900.2,28.0 L910.0,37.7 L919.7,47.4 L929.0,56.8 L938.2,66.0 L947.5,75.6 L957.1,85.5 L966.8,95.5 L976.5,105.5 L986.4,115.4 L996.3,125.1 L1006.1,134.5 L1015.9,143.7 L1025.7,152.7 L1035.4,161.6 L1045.3,170.4 L1055.2,179.0 L1065.4,187.5 L1075.8,195.9 L1086.5,204.2 L1097.5,212.5 L1109.0,220.8 L1120.7,229.1 L1132.6,237.2 L1144.6,245.0 L1156.6,252.5 L1168.4,259.5 L1180.0,265.8 L1191.4,271.7 L1202.6,277.3 L1213.8,282.6 L1224.9,287.4 L1236.0,291.7 L1247.2,295.3 L1258.5,298.3 L1270.0,300.4 L1281.7,301.5 L1293.6,301.7 L1305.7,301.0 L1317.8,299.8 L1329.9,298.1 L1341.8,296.3 L1353.6,294.4 L1365.0,292.7 L1376.7,291.0 L1388.9,288.8 L1401.3,286.4 L1413.4,283.9 L1424.8,281.4 L1435.0,279.2 L1443.5,277.3 L1450.0,276.0"/>
<path d="M857.7,-10.0 L862.9,-4.8 L869.8,2.1 L877.9,10.3 L887.0,19.5 L896.7,29.3 L906.7,39.4 L916.6,49.4 L926.1,59.1 L935.4,68.7 L945.0,78.7 L954.7,89.0 L964.5,99.4 L974.5,109.8 L984.5,120.1 L994.5,130.3 L1004.5,140.1 L1014.5,149.6 L1024.3,159.0 L1034.2,168.3 L1044.2,177.5 L1054.2,186.5 L1064.5,195.4 L1075.0,204.1 L1085.8,212.8 L1097.0,221.4 L1108.5,230.1 L1120.4,238.8 L1132.4,247.3 L1144.4,255.5 L1156.4,263.3 L1168.3,270.6 L1180.0,277.2 L1191.4,283.4 L1202.7,289.3 L1213.8,294.8 L1224.9,299.9 L1236.1,304.4 L1247.2,308.2 L1258.5,311.3 L1270.0,313.5 L1281.7,314.8 L1293.6,315.0 L1305.7,314.3 L1317.8,313.1 L1329.9,311.4 L1341.8,309.6 L1353.6,307.7 L1365.0,306.0 L1376.7,304.2 L1388.9,302.0 L1401.3,299.5 L1413.4,296.9 L1424.8,294.4 L1435.0,292.2 L1443.5,290.3 L1450.0,288.9"/>
<path d="M853.5,-10.0 L858.9,-4.6 L865.8,2.5 L874.1,11.0 L883.4,20.4 L893.3,30.6 L903.5,41.0 L913.6,51.4 L923.2,61.4 L932.7,71.4 L942.4,81.8 L952.3,92.4 L962.3,103.2 L972.4,114.1 L982.6,124.9 L992.8,135.4 L1002.9,145.6 L1013.0,155.5 L1023.0,165.3 L1033.0,175.0 L1043.1,184.5 L1053.3,193.9 L1063.7,203.2 L1074.3,212.3 L1085.2,221.4 L1096.4,230.4 L1108.1,239.5 L1120.0,248.5 L1132.1,257.4 L1144.2,265.9 L1156.3,274.1 L1168.3,281.7 L1180.0,288.6 L1191.4,295.1 L1202.7,301.3 L1213.9,307.1 L1225.0,312.4 L1236.1,317.1 L1247.3,321.1 L1258.5,324.3 L1270.0,326.7 L1281.7,328.0 L1293.6,328.3 L1305.7,327.7 L1317.8,326.4 L1329.9,324.7 L1341.8,322.8 L1353.6,320.9 L1365.0,319.2 L1376.7,317.4 L1388.9,315.1 L1401.3,312.6 L1413.4,310.0 L1424.8,307.5 L1435.0,305.1 L1443.5,303.2 L1450.0,301.8"/>
<path d="M849.4,-10.0 L854.8,-4.4 L861.9,2.9 L870.3,11.7 L879.8,21.4 L889.9,31.8 L900.2,42.6 L910.5,53.4 L920.3,63.7 L929.9,74.1 L939.8,84.8 L949.9,95.9 L960.0,107.1 L970.3,118.4 L980.7,129.6 L991.0,140.6 L1001.3,151.2 L1011.5,161.5 L1021.7,171.7 L1031.8,181.7 L1042.0,191.6 L1052.3,201.4 L1062.8,211.1 L1073.5,220.6 L1084.5,229.9 L1095.9,239.3 L1107.7,248.8 L1119.7,258.2 L1131.8,267.4 L1144.1,276.4 L1156.2,284.9 L1168.2,292.8 L1180.0,300.1 L1191.5,306.8 L1202.8,313.3 L1213.9,319.3 L1225.0,324.8 L1236.1,329.7 L1247.3,334.0 L1258.5,337.4 L1270.0,339.9 L1281.7,341.3 L1293.6,341.6 L1305.7,341.0 L1317.8,339.7 L1329.9,338.0 L1341.8,336.1 L1353.6,334.2 L1365.0,332.4 L1376.7,330.6 L1388.9,328.3 L1401.3,325.7 L1413.4,323.1 L1424.8,320.5 L1435.0,318.1 L1443.5,316.1 L1450.0,314.7"/>
<path d="M845.2,-10.0 L850.7,-4.2 L857.9,3.3 L866.5,12.3 L876.1,22.4 L886.4,33.1 L897.0,44.2 L907.4,55.3 L917.4,66.1 L927.2,76.8 L937.2,87.9 L947.4,99.4 L957.8,111.0 L968.2,122.7 L978.7,134.3 L989.2,145.7 L999.7,156.7 L1010.0,167.4 L1020.3,178.0 L1030.6,188.4 L1040.9,198.7 L1051.3,208.9 L1061.9,218.9 L1072.8,228.8 L1083.9,238.5 L1095.4,248.3 L1107.2,258.1 L1119.3,267.9 L1131.6,277.5 L1143.9,286.8 L1156.1,295.7 L1168.2,303.9 L1180.0,311.5 L1191.5,318.5 L1202.8,325.2 L1214.0,331.5 L1225.1,337.3 L1236.2,342.4 L1247.3,346.8 L1258.6,350.4 L1270.0,353.0 L1281.7,354.5 L1293.6,354.9 L1305.7,354.3 L1317.8,353.1 L1329.9,351.3 L1341.8,349.4 L1353.6,347.4 L1365.0,345.6 L1376.7,343.8 L1388.9,341.5 L1401.3,338.9 L1413.4,336.2 L1424.8,333.5 L1435.0,331.1 L1443.5,329.0 L1450.0,327.6"/>
<path d="M841.0,-10.0 L846.6,-4.1 L853.9,3.7 L862.7,13.0 L872.5,23.3 L883.0,34.4 L893.7,45.9 L904.3,57.3 L914.5,68.4 L924.5,79.4 L934.7,91.0 L945.0,102.9 L955.6,114.9 L966.2,127.0 L976.8,139.1 L987.5,150.9 L998.1,162.3 L1008.6,173.4 L1019.0,184.3 L1029.4,195.1 L1039.8,205.8 L1050.4,216.3 L1061.1,226.7 L1072.0,237.0 L1083.2,247.1 L1094.8,257.2 L1106.8,267.4 L1119.0,277.6 L1131.3,287.6 L1143.7,297.3 L1156.0,306.4 L1168.1,315.0 L1180.0,322.9 L1191.5,330.2 L1202.9,337.2 L1214.0,343.7 L1225.1,349.7 L1236.2,355.1 L1247.3,359.7 L1258.6,363.4 L1270.0,366.2 L1281.7,367.8 L1293.6,368.2 L1305.7,367.6 L1317.8,366.4 L1329.9,364.7 L1341.8,362.7 L1353.6,360.7 L1365.0,358.9 L1376.7,357.0 L1388.9,354.6 L1401.3,352.0 L1413.4,349.2 L1424.8,346.5 L1435.0,344.0 L1443.5,342.0 L1450.0,340.5"/>
<path d="M836.8,-10.0 L842.5,-3.9 L850.0,4.1 L858.9,13.6 L868.9,24.3 L879.5,35.7 L890.4,47.5 L901.3,59.3 L911.6,70.7 L921.7,82.1 L932.1,94.0 L942.6,106.3 L953.3,118.8 L964.1,131.4 L974.9,143.8 L985.7,156.0 L996.5,167.8 L1007.1,179.3 L1017.6,190.6 L1028.2,201.8 L1038.7,212.9 L1049.4,223.8 L1060.2,234.6 L1071.3,245.2 L1082.6,255.7 L1094.3,266.2 L1106.3,276.8 L1118.6,287.3 L1131.0,297.7 L1143.5,307.7 L1155.9,317.2 L1168.1,326.2 L1180.0,334.3 L1191.6,341.9 L1202.9,349.2 L1214.1,356.0 L1225.2,362.2 L1236.2,367.8 L1247.3,372.6 L1258.6,376.5 L1270.0,379.4 L1281.7,381.0 L1293.6,381.5 L1305.7,381.0 L1317.8,379.7 L1329.9,378.0 L1341.8,375.9 L1353.6,373.9 L1365.0,372.1 L1376.7,370.2 L1388.9,367.8 L1401.3,365.1 L1413.4,362.3 L1424.8,359.5 L1435.0,357.0 L1443.5,354.9 L1450.0,353.4"/>
<path d="M832.6,-10.0 L838.4,-3.7 L846.0,4.5 L855.1,14.3 L865.3,25.2 L876.1,37.0 L887.2,49.1 L898.2,61.3 L908.7,73.0 L919.0,84.8 L929.5,97.1 L940.2,109.8 L951.1,122.7 L962.0,135.7 L973.0,148.5 L984.0,161.1 L994.8,173.4 L1005.6,185.2 L1016.3,197.0 L1026.9,208.5 L1037.6,220.0 L1048.4,231.3 L1059.4,242.4 L1070.5,253.4 L1081.9,264.3 L1093.7,275.1 L1105.9,286.1 L1118.3,297.0 L1130.8,307.8 L1143.3,318.1 L1155.8,328.0 L1168.1,337.3 L1180.0,345.7 L1191.6,353.6 L1202.9,361.1 L1214.1,368.2 L1225.2,374.7 L1236.2,380.5 L1247.3,385.4 L1258.6,389.5 L1270.0,392.5 L1281.7,394.3 L1293.6,394.8 L1305.7,394.3 L1317.8,393.0 L1329.9,391.3 L1341.8,389.2 L1353.6,387.2 L1365.0,385.3 L1376.7,383.4 L1388.9,381.0 L1401.3,378.2 L1413.4,375.4 L1424.8,372.6 L1435.0,370.0 L1443.5,367.8 L1450.0,366.3"/>
<path d="M828.4,-10.0 L834.3,-3.5 L842.1,4.9 L851.3,15.0 L861.6,26.2 L872.6,38.3 L883.9,50.7 L895.1,63.2 L905.8,75.4 L916.3,87.5 L926.9,100.2 L937.8,113.3 L948.9,126.6 L960.0,140.0 L971.1,153.3 L982.2,166.3 L993.2,178.9 L1004.1,191.2 L1014.9,203.3 L1025.7,215.3 L1036.6,227.1 L1047.5,238.7 L1058.5,250.3 L1069.8,261.6 L1081.3,272.8 L1093.2,284.1 L1105.4,295.4 L1117.9,306.7 L1130.5,317.8 L1143.2,328.6 L1155.7,338.8 L1168.0,348.4 L1180.0,357.2 L1191.6,365.3 L1203.0,373.1 L1214.2,380.4 L1225.2,387.1 L1236.3,393.1 L1247.4,398.3 L1258.6,402.5 L1270.0,405.7 L1281.7,407.5 L1293.6,408.1 L1305.7,407.6 L1317.8,406.4 L1329.9,404.6 L1341.8,402.5 L1353.6,400.4 L1365.0,398.5 L1376.7,396.6 L1388.9,394.1 L1401.3,391.3 L1413.4,388.4 L1424.8,385.6 L1435.0,383.0 L1443.5,380.8 L1450.0,379.2"/>
<path d="M824.2,-10.0 L830.2,-3.4 L838.1,5.3 L847.5,15.6 L858.0,27.2 L869.2,39.5 L880.7,52.4 L892.0,65.2 L902.9,77.7 L913.5,90.2 L924.4,103.3 L935.4,116.8 L946.6,130.5 L957.9,144.3 L969.2,158.0 L980.4,171.4 L991.6,184.5 L1002.7,197.1 L1013.6,209.6 L1024.5,222.0 L1035.5,234.2 L1046.5,246.2 L1057.7,258.1 L1069.0,269.8 L1080.6,281.4 L1092.6,293.0 L1105.0,304.8 L1117.6,316.4 L1130.3,327.9 L1143.0,339.0 L1155.6,349.6 L1168.0,359.5 L1180.0,368.6 L1191.7,377.0 L1203.0,385.1 L1214.2,392.6 L1225.3,399.6 L1236.3,405.8 L1247.4,411.2 L1258.6,415.6 L1270.0,418.8 L1281.7,420.8 L1293.6,421.4 L1305.7,420.9 L1317.8,419.7 L1329.9,417.9 L1341.8,415.8 L1353.6,413.7 L1365.0,411.8 L1376.7,409.8 L1388.9,407.3 L1401.3,404.5 L1413.4,401.5 L1424.8,398.6 L1435.0,395.9 L1443.5,393.7 L1450.0,392.1"/>
<path d="M820.0,-10.0 L826.1,-3.2 L834.1,5.7 L843.7,16.3 L854.4,28.1 L865.8,40.8 L877.4,54.0 L889.0,67.2 L900.0,80.0 L910.8,92.9 L921.8,106.3 L933.0,120.2 L944.4,134.4 L955.8,148.6 L967.3,162.7 L978.7,176.6 L990.0,190.0 L1001.2,203.0 L1012.3,215.9 L1023.3,228.7 L1034.4,241.2 L1045.5,253.7 L1056.8,265.9 L1068.3,278.0 L1080.0,290.0 L1092.1,302.0 L1104.5,314.1 L1117.2,326.2 L1130.0,338.0 L1142.8,349.5 L1155.5,360.4 L1167.9,370.6 L1180.0,380.0 L1191.7,388.7 L1203.1,397.1 L1214.3,404.9 L1225.3,412.1 L1236.3,418.5 L1247.4,424.0 L1258.6,428.6 L1270.0,432.0 L1281.7,434.0 L1293.6,434.7 L1305.7,434.3 L1317.8,433.0 L1329.9,431.2 L1341.8,429.0 L1353.6,426.9 L1365.0,425.0 L1376.7,423.0 L1388.9,420.4 L1401.3,417.6 L1413.4,414.6 L1424.8,411.6 L1435.0,408.9 L1443.5,406.6 L1450.0,405.0"/>
</g>

<!-- headings -->
<g font-family="Liberation Sans, sans-serif" font-weight="bold" font-size="31" fill="#fdf8fd">
  <text x="405.5" y="250.3" textLength="194" lengthAdjust="spacingAndGlyphs">Inflammation</text>
  <text x="785.3" y="250.3" textLength="210" lengthAdjust="spacingAndGlyphs">Fetal reversion</text>
  <text x="1191.7" y="250.3" textLength="189.5" lengthAdjust="spacingAndGlyphs">Regeneration</text>
</g>
<g stroke="#dcbc98" stroke-width="1.5" fill="none">
  <line x1="624" y1="241" x2="768" y2="241" marker-end="url(#ahT)"/>
  <line x1="1010" y1="241" x2="1177" y2="241" marker-end="url(#ahT)"/>
</g>

<!-- red glow -->

<g id="intestine">
<path d="M57,520 L57,395 C60,385 70,390 100,392 L170,392 C210,390 240,370 262,350 L299,362 L299,505 C290,528 250,538 200,542 L168,548" fill="none" stroke="#d48a58" stroke-width="26" stroke-linejoin="round"/>
<path d="M74,412 C90,398 140,392 200,394 C235,390 262,374 290,376 L292,470 C294,505 284,532 250,538 C210,546 160,548 120,540 C95,532 78,515 74,490 Z" fill="#cc5a64"/>
<path d="M92,425 C110,415 150,420 170,435 C150,448 120,452 95,444 Z M180,470 C200,460 230,465 240,480 C220,495 195,490 180,470 Z M112,484 C130,474 150,484 150,504 C130,508 115,504 112,484 Z M232,488 C244,486 250,496 250,510 C240,512 232,500 232,488 Z" fill="#a8404c" opacity="0.75"/>
<path d="M86,430 C86,410 100,404 116,408 C134,412 140,428 158,428 C176,428 178,408 198,406 C216,404 222,420 240,420 C256,420 262,408 276,408" fill="none" stroke="#c4505a" stroke-width="24.6" stroke-linecap="round" stroke-linejoin="round"/><path d="M86,430 C86,410 100,404 116,408 C134,412 140,428 158,428 C176,428 178,408 198,406 C216,404 222,420 240,420 C256,420 262,408 276,408" fill="none" stroke="#f28a8a" stroke-width="23" stroke-linecap="round" stroke-linejoin="round"/><path d="M86,430 C86,410 100,404 116,408 C134,412 140,428 158,428 C176,428 178,408 198,406 C216,404 222,420 240,420 C256,420 262,408 276,408" fill="none" stroke="#fbbcb8" stroke-width="10.3" stroke-linecap="round" stroke-linejoin="round" opacity="0.9" transform="translate(-1,-2)"/>
<path d="M98,452 C106,436 124,438 134,452 C144,466 164,470 178,456 C192,442 212,442 224,456 C236,470 254,470 266,456" fill="none" stroke="#c4505a" stroke-width="24.6" stroke-linecap="round" stroke-linejoin="round"/><path d="M98,452 C106,436 124,438 134,452 C144,466 164,470 178,456 C192,442 212,442 224,456 C236,470 254,470 266,456" fill="none" stroke="#f28a8a" stroke-width="23" stroke-linecap="round" stroke-linejoin="round"/><path d="M98,452 C106,436 124,438 134,452 C144,466 164,470 178,456 C192,442 212,442 224,456 C236,470 254,470 266,456" fill="none" stroke="#fbbcb8" stroke-width="10.3" stroke-linecap="round" stroke-linejoin="round" opacity="0.9" transform="translate(-1,-2)"/>
<path d="M92,478 C88,498 98,514 114,508 C128,502 126,482 140,480 C154,478 156,500 158,514 C160,528 178,532 186,518 C192,504 188,486 202,484 C216,482 218,502 220,516 C222,530 240,534 248,520 C254,506 252,490 266,488 C278,486 282,500 280,514" fill="none" stroke="#c4505a" stroke-width="24.6" stroke-linecap="round" stroke-linejoin="round"/><path d="M92,478 C88,498 98,514 114,508 C128,502 126,482 140,480 C154,478 156,500 158,514 C160,528 178,532 186,518 C192,504 188,486 202,484 C216,482 218,502 220,516 C222,530 240,534 248,520 C254,506 252,490 266,488 C278,486 282,500 280,514" fill="none" stroke="#f28a8a" stroke-width="23" stroke-linecap="round" stroke-linejoin="round"/><path d="M92,478 C88,498 98,514 114,508 C128,502 126,482 140,480 C154,478 156,500 158,514 C160,528 178,532 186,518 C192,504 188,486 202,484 C216,482 218,502 220,516 C222,530 240,534 248,520 C254,506 252,490 266,488 C278,486 282,500 280,514" fill="none" stroke="#fbbcb8" stroke-width="10.3" stroke-linecap="round" stroke-linejoin="round" opacity="0.9" transform="translate(-1,-2)"/>
<path d="M106,526 C118,536 136,538 150,532" fill="none" stroke="#c4505a" stroke-width="24.6" stroke-linecap="round" stroke-linejoin="round"/><path d="M106,526 C118,536 136,538 150,532" fill="none" stroke="#f28a8a" stroke-width="23" stroke-linecap="round" stroke-linejoin="round"/><path d="M106,526 C118,536 136,538 150,532" fill="none" stroke="#fbbcb8" stroke-width="10.3" stroke-linecap="round" stroke-linejoin="round" opacity="0.9" transform="translate(-1,-2)"/>
<path d="M272,440 C280,455 282,470 276,480" fill="none" stroke="#c4505a" stroke-width="24.6" stroke-linecap="round" stroke-linejoin="round"/><path d="M272,440 C280,455 282,470 276,480" fill="none" stroke="#f28a8a" stroke-width="23" stroke-linecap="round" stroke-linejoin="round"/><path d="M272,440 C280,455 282,470 276,480" fill="none" stroke="#fbbcb8" stroke-width="10.3" stroke-linecap="round" stroke-linejoin="round" opacity="0.9" transform="translate(-1,-2)"/>
<path d="M232,398 C246,384 268,380 280,388 C288,396 284,408 272,414" fill="none" stroke="#c4505a" stroke-width="24.6" stroke-linecap="round" stroke-linejoin="round"/><path d="M232,398 C246,384 268,380 280,388 C288,396 284,408 272,414" fill="none" stroke="#f28a8a" stroke-width="23" stroke-linecap="round" stroke-linejoin="round"/><path d="M232,398 C246,384 268,380 280,388 C288,396 284,408 272,414" fill="none" stroke="#fbbcb8" stroke-width="10.3" stroke-linecap="round" stroke-linejoin="round" opacity="0.9" transform="translate(-1,-2)"/>
<rect x="273.5" y="420" width="13" height="51" rx="6" transform="rotate(6 280 445)" fill="#b01c22" stroke="#f5c0a0" stroke-width="1"/>
<rect x="277" y="424" width="5" height="42" rx="2.5" transform="rotate(6 280 445)" fill="#d23a30" opacity="0.8"/>
<path d="M66,408 C63,440 63,480 72,505" stroke="#f4e0e0" stroke-width="1.6" fill="none"/>
<path d="M284,364 C290,400 292,440 287,470" stroke="#f4e0e0" stroke-width="1.6" fill="none"/>
<ellipse cx="301.0" cy="372.0" rx="12.5" ry="13.5" transform="rotate(0 301.0 372.0)" fill="url(#gCol)" stroke="#b86e44" stroke-width="0.5"/>
<ellipse cx="301.0" cy="394.0" rx="12.5" ry="13.5" transform="rotate(0 301.0 394.0)" fill="url(#gCol)" stroke="#b86e44" stroke-width="0.5"/>
<ellipse cx="301.0" cy="416.0" rx="12.5" ry="13.5" transform="rotate(0 301.0 416.0)" fill="url(#gCol)" stroke="#b86e44" stroke-width="0.5"/>
<ellipse cx="301.0" cy="438.0" rx="12.5" ry="13.5" transform="rotate(0 301.0 438.0)" fill="url(#gCol)" stroke="#b86e44" stroke-width="0.5"/>
<ellipse cx="301.0" cy="460.0" rx="12.5" ry="13.5" transform="rotate(0 301.0 460.0)" fill="url(#gCol)" stroke="#b86e44" stroke-width="0.5"/>
<ellipse cx="301.0" cy="482.0" rx="12.5" ry="13.5" transform="rotate(0 301.0 482.0)" fill="url(#gCol)" stroke="#b86e44" stroke-width="0.5"/>
<ellipse cx="301.0" cy="503.0" rx="12.5" ry="13.5" transform="rotate(0 301.0 503.0)" fill="url(#gCol)" stroke="#b86e44" stroke-width="0.5"/>
<ellipse cx="57.0" cy="400.0" rx="17" ry="14" transform="rotate(0 57.0 400.0)" fill="url(#gCol)" stroke="#b86e44" stroke-width="0.5"/>
<ellipse cx="57.0" cy="424.0" rx="17" ry="14" transform="rotate(0 57.0 424.0)" fill="url(#gCol)" stroke="#b86e44" stroke-width="0.5"/>
<ellipse cx="57.0" cy="448.0" rx="17" ry="14" transform="rotate(0 57.0 448.0)" fill="url(#gCol)" stroke="#b86e44" stroke-width="0.5"/>
<ellipse cx="57.0" cy="472.0" rx="17" ry="14" transform="rotate(0 57.0 472.0)" fill="url(#gCol)" stroke="#b86e44" stroke-width="0.5"/>
<ellipse cx="57.0" cy="496.0" rx="17" ry="14" transform="rotate(0 57.0 496.0)" fill="url(#gCol)" stroke="#b86e44" stroke-width="0.5"/>
<path d="M79,518 C84,532 88,545 91,554 C91,540 90,528 90,516 Z" fill="#e3a03e"/>
<ellipse cx="88.0" cy="508.0" rx="14" ry="15" transform="rotate(0 88.0 508.0)" fill="url(#gCol)" stroke="#b86e44" stroke-width="0.5"/>
<ellipse cx="59.0" cy="517.0" rx="17" ry="19" transform="rotate(0 59.0 517.0)" fill="url(#gCol)" stroke="#b86e44" stroke-width="0.5"/>
<path d="M153,560 C151,590 157,615 164,632 L163,637 L180,637 L179,630 C177,605 178,585 182,562 Z" fill="url(#gRect)" stroke="#c07848" stroke-width="0.5"/>
<ellipse cx="298.0" cy="512.0" rx="14" ry="15" transform="rotate(0 298.0 512.0)" fill="url(#gCol)" stroke="#b86e44" stroke-width="0.5"/>
<ellipse cx="272.0" cy="528.0" rx="17" ry="16" transform="rotate(0 272.0 528.0)" fill="url(#gCol)" stroke="#b86e44" stroke-width="0.5"/>
<ellipse cx="242.0" cy="537.0" rx="16" ry="16" transform="rotate(0 242.0 537.0)" fill="url(#gCol)" stroke="#b86e44" stroke-width="0.5"/>
<ellipse cx="212.0" cy="540.0" rx="15" ry="16.5" transform="rotate(0 212.0 540.0)" fill="url(#gCol)" stroke="#b86e44" stroke-width="0.5"/>
<ellipse cx="180.0" cy="547.0" rx="20" ry="22" transform="rotate(0 180.0 547.0)" fill="url(#gCol)" stroke="#b86e44" stroke-width="0.5"/>
<ellipse cx="75.0" cy="367.0" rx="11.5" ry="11.5" transform="rotate(0 75.0 367.0)" fill="url(#gCol)" stroke="#b86e44" stroke-width="0.5"/>
<ellipse cx="95.0" cy="366.0" rx="11.5" ry="11.5" transform="rotate(0 95.0 366.0)" fill="url(#gCol)" stroke="#b86e44" stroke-width="0.5"/>
<ellipse cx="115.0" cy="366.0" rx="11.5" ry="11.5" transform="rotate(0 115.0 366.0)" fill="url(#gCol)" stroke="#b86e44" stroke-width="0.5"/>
<ellipse cx="135.0" cy="365.0" rx="11.5" ry="11.5" transform="rotate(0 135.0 365.0)" fill="url(#gCol)" stroke="#b86e44" stroke-width="0.5"/>
<ellipse cx="155.0" cy="364.0" rx="11.5" ry="11.5" transform="rotate(0 155.0 364.0)" fill="url(#gCol)" stroke="#b86e44" stroke-width="0.5"/>
<ellipse cx="175.0" cy="363.0" rx="11.5" ry="11.5" transform="rotate(0 175.0 363.0)" fill="url(#gCol)" stroke="#b86e44" stroke-width="0.5"/>
<ellipse cx="195.0" cy="358.0" rx="11.5" ry="11.5" transform="rotate(0 195.0 358.0)" fill="url(#gCol)" stroke="#b86e44" stroke-width="0.5"/>
<ellipse cx="215.0" cy="350.0" rx="11.5" ry="11.5" transform="rotate(0 215.0 350.0)" fill="url(#gCol)" stroke="#b86e44" stroke-width="0.5"/>
<ellipse cx="234.0" cy="341.0" rx="11.5" ry="11.5" transform="rotate(0 234.0 341.0)" fill="url(#gCol)" stroke="#b86e44" stroke-width="0.5"/>
<ellipse cx="250.0" cy="333.0" rx="11.5" ry="11.5" transform="rotate(0 250.0 333.0)" fill="url(#gCol)" stroke="#b86e44" stroke-width="0.5"/>
<path d="M70,369 C110,372 140,376 172,377 C205,372 230,352 258,333 L262,340 C234,358 205,380 172,384 C140,384 110,380 70,376 Z" fill="#f0d8d8"/>
<ellipse cx="55.0" cy="386.0" rx="15" ry="17" transform="rotate(0 55.0 386.0)" fill="url(#gCol)" stroke="#b86e44" stroke-width="0.5"/>
<ellipse cx="67.0" cy="391.5" rx="10.5" ry="17.5" transform="rotate(0 67.0 391.5)" fill="url(#gCol)" stroke="#b86e44" stroke-width="0.5"/>
<ellipse cx="86.0" cy="391.5" rx="10.5" ry="17.5" transform="rotate(0 86.0 391.5)" fill="url(#gCol)" stroke="#b86e44" stroke-width="0.5"/>
<ellipse cx="105.0" cy="391.5" rx="10.5" ry="17.5" transform="rotate(0 105.0 391.5)" fill="url(#gCol)" stroke="#b86e44" stroke-width="0.5"/>
<ellipse cx="125.0" cy="391.5" rx="10.5" ry="17.5" transform="rotate(0 125.0 391.5)" fill="url(#gCol)" stroke="#b86e44" stroke-width="0.5"/>
<ellipse cx="144.0" cy="391.5" rx="10.5" ry="17.5" transform="rotate(0 144.0 391.5)" fill="url(#gCol)" stroke="#b86e44" stroke-width="0.5"/>
<ellipse cx="163.0" cy="391.5" rx="10.5" ry="17.5" transform="rotate(0 163.0 391.5)" fill="url(#gCol)" stroke="#b86e44" stroke-width="0.5"/>
<ellipse cx="183.0" cy="389.5" rx="10.5" ry="17.5" transform="rotate(0 183.0 389.5)" fill="url(#gCol)" stroke="#b86e44" stroke-width="0.5"/>
<ellipse cx="202.0" cy="385.5" rx="10.5" ry="17.5" transform="rotate(0 202.0 385.5)" fill="url(#gCol)" stroke="#b86e44" stroke-width="0.5"/>
<ellipse cx="222.0" cy="378.5" rx="10.5" ry="17.5" transform="rotate(0 222.0 378.5)" fill="url(#gCol)" stroke="#b86e44" stroke-width="0.5"/>
<ellipse cx="241.0" cy="369.5" rx="10.5" ry="17.5" transform="rotate(0 241.0 369.5)" fill="url(#gCol)" stroke="#b86e44" stroke-width="0.5"/>
<ellipse cx="256.0" cy="359.5" rx="10.5" ry="17.5" transform="rotate(0 256.0 359.5)" fill="url(#gCol)" stroke="#b86e44" stroke-width="0.5"/>
<ellipse cx="296.0" cy="352.0" rx="12" ry="14" transform="rotate(0 296.0 352.0)" fill="url(#gCol)" stroke="#b86e44" stroke-width="0.5"/>
<ellipse cx="269.0" cy="347.0" rx="20.5" ry="21" transform="rotate(0 269.0 347.0)" fill="url(#gCol)" stroke="#b86e44" stroke-width="0.5"/>
</g>
<path d="M437,304 L428,330 L425,380 L422,440 L418,480 L410,510 L398,540 L385,580 L500,580 L482,545 L470,515 L462,480 L452,440 L450,380 L448,330 L441,304 Z" fill="url(#gLumen)" filter="url(#blur3)"/>
<path d="M604,304 L597,330 L596,400 L593,450 L583,500 L568,545 L555,585 L665,585 L648,545 L636,500 L625,450 L622,400 L618,340 L608,304 Z" fill="url(#gLumen)" filter="url(#blur3)"/>
<path d="M1287,304 L1278,330 L1275,380 L1273,420 L1265,465 L1255,490 L1245,520 L1243,560 L1240,595 L1325,595 L1322,555 L1320,500 L1310,480 L1300,450 L1297,415 L1296,380 L1295,330 L1291,304 Z" fill="url(#gLumen3)" filter="url(#blur3)"/>
<circle cx="614" cy="540" r="135" fill="url(#gRed)"/>
<g transform="translate(430.5,306.1) rotate(21.9)"><rect x="-9.0" y="-5.7" width="18.0" height="11.3" rx="1.6" fill="#f3c4c3"/><line x1="-10.1" y1="-4.9" x2="-10.1" y2="4.9" stroke="#f3c4c3" stroke-width="2.4" stroke-dasharray="0.9 0.9" opacity="0.85"/><ellipse cx="3.5" cy="0" rx="1.8" ry="2.8" fill="#e3808c"/></g>
<g transform="translate(426.4,317.2) rotate(18.0)"><rect x="-9.0" y="-5.7" width="18.0" height="11.3" rx="1.6" fill="#f3c4c3"/><line x1="-10.1" y1="-4.9" x2="-10.1" y2="4.9" stroke="#f3c4c3" stroke-width="2.4" stroke-dasharray="0.9 0.9" opacity="0.85"/><ellipse cx="3.5" cy="0" rx="1.8" ry="2.8" fill="#e3808c"/></g>
<g transform="translate(423.4,328.6) rotate(12.1)"><rect x="-9.0" y="-5.7" width="18.0" height="11.3" rx="1.6" fill="#f3c4c3"/><line x1="-10.1" y1="-4.9" x2="-10.1" y2="4.9" stroke="#f3c4c3" stroke-width="2.4" stroke-dasharray="0.9 0.9" opacity="0.85"/><ellipse cx="3.5" cy="0" rx="1.8" ry="2.8" fill="#e3808c"/></g>
<g transform="translate(421.3,340.2) rotate(8.8)"><rect x="-9.0" y="-5.7" width="18.0" height="11.3" rx="1.6" fill="#f3c4c3"/><line x1="-10.1" y1="-4.9" x2="-10.1" y2="4.9" stroke="#f3c4c3" stroke-width="2.4" stroke-dasharray="0.9 0.9" opacity="0.85"/><ellipse cx="3.5" cy="0" rx="1.8" ry="2.8" fill="#e3808c"/></g>
<g transform="translate(419.8,351.9) rotate(5.9)"><rect x="-9.0" y="-5.7" width="18.0" height="11.3" rx="1.6" fill="#f3c4c3"/><line x1="-10.1" y1="-4.9" x2="-10.1" y2="4.9" stroke="#f3c4c3" stroke-width="2.4" stroke-dasharray="0.9 0.9" opacity="0.85"/><ellipse cx="3.5" cy="0" rx="1.8" ry="2.8" fill="#e3808c"/></g>
<g transform="translate(418.8,363.7) rotate(4.1)"><rect x="-9.0" y="-5.7" width="18.0" height="11.3" rx="1.6" fill="#f3c4c3"/><line x1="-10.1" y1="-4.9" x2="-10.1" y2="4.9" stroke="#f3c4c3" stroke-width="2.4" stroke-dasharray="0.9 0.9" opacity="0.85"/><ellipse cx="3.5" cy="0" rx="1.8" ry="2.8" fill="#e3808c"/></g>
<g transform="translate(418.8,363.7) rotate(4.1)"><rect x="-1.5" y="-3.4" width="11.5" height="6.8" rx="1.5" fill="#d0dc62"/><circle cx="5.5" cy="0" r="2.3" fill="#b8c848"/><circle cx="-1.5" cy="0" r="6.8" fill="#dde47c"/><circle cx="-1.5" cy="0" r="3.7" fill="#f4f6d8" opacity="0.4"/></g>
<g transform="translate(418.0,375.4) rotate(3.6)"><rect x="-9.0" y="-5.7" width="18.0" height="11.3" rx="1.6" fill="#f3c4c3"/><line x1="-10.1" y1="-4.9" x2="-10.1" y2="4.9" stroke="#f3c4c3" stroke-width="2.4" stroke-dasharray="0.9 0.9" opacity="0.85"/><ellipse cx="3.5" cy="0" rx="1.8" ry="2.8" fill="#e3808c"/></g>
<g transform="translate(417.2,387.2) rotate(4.0)"><rect x="-9.0" y="-5.7" width="18.0" height="11.3" rx="1.6" fill="#f3c4c3"/><line x1="-10.1" y1="-4.9" x2="-10.1" y2="4.9" stroke="#f3c4c3" stroke-width="2.4" stroke-dasharray="0.9 0.9" opacity="0.85"/><ellipse cx="3.5" cy="0" rx="1.8" ry="2.8" fill="#e3808c"/></g>
<g transform="translate(416.3,399.0) rotate(4.2)"><rect x="-9.0" y="-5.7" width="18.0" height="11.3" rx="1.6" fill="#f3c4c3"/><line x1="-10.1" y1="-4.9" x2="-10.1" y2="4.9" stroke="#f3c4c3" stroke-width="2.4" stroke-dasharray="0.9 0.9" opacity="0.85"/><ellipse cx="3.5" cy="0" rx="1.8" ry="2.8" fill="#e3808c"/></g>
<g transform="translate(415.5,410.7) rotate(4.2)"><rect x="-9.0" y="-5.7" width="18.0" height="11.3" rx="1.6" fill="#f3c4c3"/><line x1="-10.1" y1="-4.9" x2="-10.1" y2="4.9" stroke="#f3c4c3" stroke-width="2.4" stroke-dasharray="0.9 0.9" opacity="0.85"/><ellipse cx="3.5" cy="0" rx="1.8" ry="2.8" fill="#e3808c"/></g>
<g transform="translate(414.6,422.5) rotate(4.4)"><rect x="-9.0" y="-5.7" width="18.0" height="11.3" rx="1.6" fill="#f3c4c3"/><line x1="-10.1" y1="-4.9" x2="-10.1" y2="4.9" stroke="#f3c4c3" stroke-width="2.4" stroke-dasharray="0.9 0.9" opacity="0.85"/><ellipse cx="3.5" cy="0" rx="1.8" ry="2.8" fill="#e3808c"/></g>
<g transform="translate(413.7,434.3) rotate(4.2)"><rect x="-9.0" y="-5.7" width="18.0" height="11.3" rx="1.6" fill="#f3c4c3"/><line x1="-10.1" y1="-4.9" x2="-10.1" y2="4.9" stroke="#f3c4c3" stroke-width="2.4" stroke-dasharray="0.9 0.9" opacity="0.85"/><ellipse cx="3.5" cy="0" rx="1.8" ry="2.8" fill="#e3808c"/></g>
<g transform="translate(412.8,446.0) rotate(4.2)"><rect x="-9.0" y="-5.7" width="18.0" height="11.3" rx="1.6" fill="#f3c4c3"/><line x1="-10.1" y1="-4.9" x2="-10.1" y2="4.9" stroke="#f3c4c3" stroke-width="2.4" stroke-dasharray="0.9 0.9" opacity="0.85"/><ellipse cx="3.5" cy="0" rx="1.8" ry="2.8" fill="#e3808c"/></g>
<g transform="translate(412.8,446.0) rotate(4.2)"><rect x="-1.5" y="-3.4" width="11.5" height="6.8" rx="1.5" fill="#d0dc62"/><circle cx="5.5" cy="0" r="2.3" fill="#b8c848"/><circle cx="-1.5" cy="0" r="6.8" fill="#dde47c"/><circle cx="-1.5" cy="0" r="3.7" fill="#f4f6d8" opacity="0.4"/></g>
<g transform="translate(411.8,457.8) rotate(5.7)"><rect x="-9.0" y="-5.7" width="18.0" height="11.3" rx="1.6" fill="#f3c4c3"/><line x1="-10.1" y1="-4.9" x2="-10.1" y2="4.9" stroke="#f3c4c3" stroke-width="2.4" stroke-dasharray="0.9 0.9" opacity="0.85"/><ellipse cx="3.5" cy="0" rx="1.8" ry="2.8" fill="#e3808c"/></g>
<g transform="translate(410.4,469.5) rotate(8.1)"><rect x="-9.0" y="-5.7" width="18.0" height="11.3" rx="1.6" fill="#f3c4c3"/><line x1="-10.1" y1="-4.9" x2="-10.1" y2="4.9" stroke="#f3c4c3" stroke-width="2.4" stroke-dasharray="0.9 0.9" opacity="0.85"/><ellipse cx="3.5" cy="0" rx="1.8" ry="2.8" fill="#e3808c"/></g>
<g transform="translate(408.5,481.2) rotate(10.0)"><rect x="-9.0" y="-5.7" width="18.0" height="11.3" rx="1.6" fill="#f3c4c3"/><line x1="-10.1" y1="-4.9" x2="-10.1" y2="4.9" stroke="#f3c4c3" stroke-width="2.4" stroke-dasharray="0.9 0.9" opacity="0.85"/><ellipse cx="3.5" cy="0" rx="1.8" ry="2.8" fill="#e3808c"/></g>
<g transform="translate(406.2,492.7) rotate(12.5)"><rect x="-9.0" y="-5.7" width="18.0" height="11.3" rx="1.6" fill="#f3c4c3"/><line x1="-10.1" y1="-4.9" x2="-10.1" y2="4.9" stroke="#f3c4c3" stroke-width="2.4" stroke-dasharray="0.9 0.9" opacity="0.85"/><ellipse cx="3.5" cy="0" rx="1.8" ry="2.8" fill="#e3808c"/></g>
<g transform="translate(403.3,504.2) rotate(16.3)"><rect x="-9.0" y="-5.7" width="18.0" height="11.3" rx="1.6" fill="#f3c4c3"/><line x1="-10.1" y1="-4.9" x2="-10.1" y2="4.9" stroke="#f3c4c3" stroke-width="2.4" stroke-dasharray="0.9 0.9" opacity="0.85"/><ellipse cx="3.5" cy="0" rx="1.8" ry="2.8" fill="#e3808c"/></g>
<g transform="translate(399.6,515.4) rotate(21.0)"><rect x="-9.0" y="-5.7" width="18.0" height="11.3" rx="1.6" fill="#f3c4c3"/><line x1="-10.1" y1="-4.9" x2="-10.1" y2="4.9" stroke="#f3c4c3" stroke-width="2.4" stroke-dasharray="0.9 0.9" opacity="0.85"/><ellipse cx="3.5" cy="0" rx="1.8" ry="2.8" fill="#e3808c"/></g>
<g transform="translate(395.0,526.2) rotate(24.9)"><rect x="-9.0" y="-5.7" width="18.0" height="11.3" rx="1.6" fill="#f3c4c3"/><line x1="-10.1" y1="-4.9" x2="-10.1" y2="4.9" stroke="#f3c4c3" stroke-width="2.4" stroke-dasharray="0.9 0.9" opacity="0.85"/><ellipse cx="3.5" cy="0" rx="1.8" ry="2.8" fill="#e3808c"/></g>
<g transform="translate(389.7,536.8) rotate(27.8)"><rect x="-9.0" y="-5.7" width="18.0" height="11.3" rx="1.6" fill="#f3c4c3"/><line x1="-10.1" y1="-4.9" x2="-10.1" y2="4.9" stroke="#f3c4c3" stroke-width="2.4" stroke-dasharray="0.9 0.9" opacity="0.85"/><ellipse cx="3.5" cy="0" rx="1.8" ry="2.8" fill="#e3808c"/></g>
<g transform="translate(384.1,547.2) rotate(28.5)"><rect x="-9.0" y="-5.7" width="18.0" height="11.3" rx="1.6" fill="#f3c4c3"/><line x1="-10.1" y1="-4.9" x2="-10.1" y2="4.9" stroke="#f3c4c3" stroke-width="2.4" stroke-dasharray="0.9 0.9" opacity="0.85"/><ellipse cx="3.5" cy="0" rx="1.8" ry="2.8" fill="#e3808c"/></g>
<g transform="translate(449.1,308.7) rotate(-24.7)"><rect x="-9.0" y="-5.7" width="18.0" height="11.3" rx="1.6" fill="#f3c4c3"/><line x1="10.1" y1="-4.9" x2="10.1" y2="4.9" stroke="#f3c4c3" stroke-width="2.4" stroke-dasharray="0.9 0.9" opacity="0.85"/><ellipse cx="-3.5" cy="0" rx="1.8" ry="2.8" fill="#e3808c"/></g>
<g transform="translate(453.3,319.7) rotate(-16.6)"><rect x="-9.0" y="-5.7" width="18.0" height="11.3" rx="1.6" fill="#f3c4c3"/><line x1="10.1" y1="-4.9" x2="10.1" y2="4.9" stroke="#f3c4c3" stroke-width="2.4" stroke-dasharray="0.9 0.9" opacity="0.85"/><ellipse cx="-3.5" cy="0" rx="1.8" ry="2.8" fill="#e3808c"/></g>
<g transform="translate(456.0,331.2) rotate(-10.4)"><rect x="-9.0" y="-5.7" width="18.0" height="11.3" rx="1.6" fill="#f3c4c3"/><line x1="10.1" y1="-4.9" x2="10.1" y2="4.9" stroke="#f3c4c3" stroke-width="2.4" stroke-dasharray="0.9 0.9" opacity="0.85"/><ellipse cx="-3.5" cy="0" rx="1.8" ry="2.8" fill="#e3808c"/></g>
<g transform="translate(457.8,342.8) rotate(-7.0)"><rect x="-9.0" y="-5.7" width="18.0" height="11.3" rx="1.6" fill="#f3c4c3"/><line x1="10.1" y1="-4.9" x2="10.1" y2="4.9" stroke="#f3c4c3" stroke-width="2.4" stroke-dasharray="0.9 0.9" opacity="0.85"/><ellipse cx="-3.5" cy="0" rx="1.8" ry="2.8" fill="#e3808c"/></g>
<g transform="translate(457.8,342.8) rotate(-7.0)"><rect x="-10.0" y="-3.4" width="11.5" height="6.8" rx="1.5" fill="#d0dc62"/><circle cx="-5.5" cy="0" r="2.3" fill="#b8c848"/><circle cx="1.5" cy="0" r="6.8" fill="#dde47c"/><circle cx="1.5" cy="0" r="3.7" fill="#f4f6d8" opacity="0.4"/></g>
<g transform="translate(459.0,354.6) rotate(-4.6)"><rect x="-9.0" y="-5.7" width="18.0" height="11.3" rx="1.6" fill="#f3c4c3"/><line x1="10.1" y1="-4.9" x2="10.1" y2="4.9" stroke="#f3c4c3" stroke-width="2.4" stroke-dasharray="0.9 0.9" opacity="0.85"/><ellipse cx="-3.5" cy="0" rx="1.8" ry="2.8" fill="#e3808c"/></g>
<g transform="translate(459.5,366.4) rotate(-1.4)"><rect x="-9.0" y="-5.7" width="18.0" height="11.3" rx="1.6" fill="#f3c4c3"/><line x1="10.1" y1="-4.9" x2="10.1" y2="4.9" stroke="#f3c4c3" stroke-width="2.4" stroke-dasharray="0.9 0.9" opacity="0.85"/><ellipse cx="-3.5" cy="0" rx="1.8" ry="2.8" fill="#e3808c"/></g>
<g transform="translate(459.7,378.2) rotate(-0.4)"><rect x="-9.0" y="-5.7" width="18.0" height="11.3" rx="1.6" fill="#f1aa72"/><ellipse cx="-3.5" cy="0" rx="2" ry="3" fill="#d7701f"/></g>
<g transform="translate(459.8,390.0) rotate(-0.6)"><rect x="-9.0" y="-5.7" width="18.0" height="11.3" rx="1.6" fill="#f3c4c3"/><line x1="10.1" y1="-4.9" x2="10.1" y2="4.9" stroke="#f3c4c3" stroke-width="2.4" stroke-dasharray="0.9 0.9" opacity="0.85"/><ellipse cx="-3.5" cy="0" rx="1.8" ry="2.8" fill="#e3808c"/></g>
<g transform="translate(460.1,401.8) rotate(-1.8)"><rect x="-9.0" y="-5.7" width="18.0" height="11.3" rx="1.6" fill="#f3c4c3"/><line x1="10.1" y1="-4.9" x2="10.1" y2="4.9" stroke="#f3c4c3" stroke-width="2.4" stroke-dasharray="0.9 0.9" opacity="0.85"/><ellipse cx="-3.5" cy="0" rx="1.8" ry="2.8" fill="#e3808c"/></g>
<g transform="translate(460.4,413.6) rotate(-1.8)"><rect x="-9.0" y="-5.7" width="18.0" height="11.3" rx="1.6" fill="#f3c4c3"/><line x1="10.1" y1="-4.9" x2="10.1" y2="4.9" stroke="#f3c4c3" stroke-width="2.4" stroke-dasharray="0.9 0.9" opacity="0.85"/><ellipse cx="-3.5" cy="0" rx="1.8" ry="2.8" fill="#e3808c"/></g>
<g transform="translate(460.4,413.6) rotate(-1.8)"><rect x="-10.0" y="-3.4" width="11.5" height="6.8" rx="1.5" fill="#d0dc62"/><circle cx="-5.5" cy="0" r="2.3" fill="#b8c848"/><circle cx="1.5" cy="0" r="6.8" fill="#dde47c"/><circle cx="1.5" cy="0" r="3.7" fill="#f4f6d8" opacity="0.4"/></g>
<g transform="translate(460.8,425.3) rotate(-2.0)"><rect x="-9.0" y="-5.7" width="18.0" height="11.3" rx="1.6" fill="#f3c4c3"/><line x1="10.1" y1="-4.9" x2="10.1" y2="4.9" stroke="#f3c4c3" stroke-width="2.4" stroke-dasharray="0.9 0.9" opacity="0.85"/><ellipse cx="-3.5" cy="0" rx="1.8" ry="2.8" fill="#e3808c"/></g>
<g transform="translate(461.3,437.1) rotate(-2.6)"><rect x="-9.0" y="-5.7" width="18.0" height="11.3" rx="1.6" fill="#f3c4c3"/><line x1="10.1" y1="-4.9" x2="10.1" y2="4.9" stroke="#f3c4c3" stroke-width="2.4" stroke-dasharray="0.9 0.9" opacity="0.85"/><ellipse cx="-3.5" cy="0" rx="1.8" ry="2.8" fill="#e3808c"/></g>
<g transform="translate(461.9,448.9) rotate(-3.7)"><rect x="-9.0" y="-5.7" width="18.0" height="11.3" rx="1.6" fill="#f3c4c3"/><line x1="10.1" y1="-4.9" x2="10.1" y2="4.9" stroke="#f3c4c3" stroke-width="2.4" stroke-dasharray="0.9 0.9" opacity="0.85"/><ellipse cx="-3.5" cy="0" rx="1.8" ry="2.8" fill="#e3808c"/></g>
<g transform="translate(462.8,460.7) rotate(-4.6)"><rect x="-9.0" y="-5.7" width="18.0" height="11.3" rx="1.6" fill="#f3c4c3"/><line x1="10.1" y1="-4.9" x2="10.1" y2="4.9" stroke="#f3c4c3" stroke-width="2.4" stroke-dasharray="0.9 0.9" opacity="0.85"/><ellipse cx="-3.5" cy="0" rx="1.8" ry="2.8" fill="#e3808c"/></g>
<g transform="translate(463.9,472.4) rotate(-6.2)"><rect x="-9.0" y="-5.7" width="18.0" height="11.3" rx="1.6" fill="#f3c4c3"/><line x1="10.1" y1="-4.9" x2="10.1" y2="4.9" stroke="#f3c4c3" stroke-width="2.4" stroke-dasharray="0.9 0.9" opacity="0.85"/><ellipse cx="-3.5" cy="0" rx="1.8" ry="2.8" fill="#e3808c"/></g>
<g transform="translate(465.4,484.1) rotate(-8.7)"><rect x="-9.0" y="-5.7" width="18.0" height="11.3" rx="1.6" fill="#f3c4c3"/><line x1="10.1" y1="-4.9" x2="10.1" y2="4.9" stroke="#f3c4c3" stroke-width="2.4" stroke-dasharray="0.9 0.9" opacity="0.85"/><ellipse cx="-3.5" cy="0" rx="1.8" ry="2.8" fill="#e3808c"/></g>
<g transform="translate(467.5,495.7) rotate(-12.3)"><rect x="-9.0" y="-5.7" width="18.0" height="11.3" rx="1.6" fill="#f3c4c3"/><line x1="10.1" y1="-4.9" x2="10.1" y2="4.9" stroke="#f3c4c3" stroke-width="2.4" stroke-dasharray="0.9 0.9" opacity="0.85"/><ellipse cx="-3.5" cy="0" rx="1.8" ry="2.8" fill="#e3808c"/></g>
<g transform="translate(470.5,507.2) rotate(-16.4)"><rect x="-9.0" y="-5.7" width="18.0" height="11.3" rx="1.6" fill="#f3c4c3"/><line x1="10.1" y1="-4.9" x2="10.1" y2="4.9" stroke="#f3c4c3" stroke-width="2.4" stroke-dasharray="0.9 0.9" opacity="0.85"/><ellipse cx="-3.5" cy="0" rx="1.8" ry="2.8" fill="#e3808c"/></g>
<g transform="translate(470.5,507.2) rotate(-16.4)"><rect x="-10.0" y="-3.4" width="11.5" height="6.8" rx="1.5" fill="#d0dc62"/><circle cx="-5.5" cy="0" r="2.3" fill="#b8c848"/><circle cx="1.5" cy="0" r="6.8" fill="#dde47c"/><circle cx="1.5" cy="0" r="3.7" fill="#f4f6d8" opacity="0.4"/></g>
<g transform="translate(474.1,518.4) rotate(-20.8)"><rect x="-9.0" y="-5.7" width="18.0" height="11.3" rx="1.6" fill="#f3c4c3"/><line x1="10.1" y1="-4.9" x2="10.1" y2="4.9" stroke="#f3c4c3" stroke-width="2.4" stroke-dasharray="0.9 0.9" opacity="0.85"/><ellipse cx="-3.5" cy="0" rx="1.8" ry="2.8" fill="#e3808c"/></g>
<g transform="translate(479.2,529.0) rotate(-28.7)"><rect x="-9.0" y="-5.7" width="18.0" height="11.3" rx="1.6" fill="#f3c4c3"/><line x1="10.1" y1="-4.9" x2="10.1" y2="4.9" stroke="#f3c4c3" stroke-width="2.4" stroke-dasharray="0.9 0.9" opacity="0.85"/><ellipse cx="-3.5" cy="0" rx="1.8" ry="2.8" fill="#e3808c"/></g>
<g transform="translate(484.7,539.4) rotate(-24.8)"><rect x="-9.0" y="-5.7" width="18.0" height="11.3" rx="1.6" fill="#f3c4c3"/><line x1="10.1" y1="-4.9" x2="10.1" y2="4.9" stroke="#f3c4c3" stroke-width="2.4" stroke-dasharray="0.9 0.9" opacity="0.85"/><ellipse cx="-3.5" cy="0" rx="1.8" ry="2.8" fill="#e3808c"/></g>
<g transform="translate(489.9,550.0) rotate(-16.2)"><rect x="-9.0" y="-5.7" width="18.0" height="11.3" rx="1.6" fill="#f3c4c3"/><line x1="10.1" y1="-4.9" x2="10.1" y2="4.9" stroke="#f3c4c3" stroke-width="2.4" stroke-dasharray="0.9 0.9" opacity="0.85"/><ellipse cx="-3.5" cy="0" rx="1.8" ry="2.8" fill="#e3808c"/></g>
<g transform="translate(491.4,561.7) rotate(-2.8)"><rect x="-9.0" y="-5.7" width="18.0" height="11.3" rx="1.6" fill="#68c2ba"/><ellipse cx="-4.0" cy="0" rx="2.4" ry="3.4" fill="#2f9a78"/></g>
<g transform="translate(491.8,573.5) rotate(-0.7)"><rect x="-9.0" y="-5.7" width="18.0" height="11.3" rx="1.6" fill="#68c2ba"/><ellipse cx="-4.0" cy="0" rx="2.4" ry="3.4" fill="#2f9a78"/></g>
<g transform="translate(491.9,585.3) rotate(-0.2)"><rect x="-9.0" y="-5.7" width="18.0" height="11.3" rx="1.6" fill="#68c2ba"/><ellipse cx="-4.0" cy="0" rx="2.4" ry="3.4" fill="#2f9a78"/></g>
<g transform="translate(491.9,597.1) rotate(-1.0)"><rect x="-9.0" y="-5.7" width="18.0" height="11.3" rx="1.6" fill="#68c2ba"/><ellipse cx="-4.0" cy="0" rx="2.4" ry="3.4" fill="#2f9a78"/></g>
<g transform="translate(492.1,608.9) rotate(-0.4)"><rect x="-9.0" y="-5.7" width="18.0" height="11.3" rx="1.6" fill="#d6e48e"/><ellipse cx="-4.0" cy="0" rx="2.4" ry="3.4" fill="#a9bf55"/></g>
<g transform="translate(492.3,620.7) rotate(-2.4)"><rect x="-9.0" y="-5.7" width="18.0" height="11.3" rx="1.6" fill="#b6e2d8"/><ellipse cx="-4.0" cy="0" rx="2.2" ry="3" fill="#6cc8d4"/></g>
<g transform="translate(493.8,632.4) rotate(-11.0)"><rect x="-9.0" y="-5.7" width="18.0" height="11.3" rx="1.6" fill="#b3a3d3"/><ellipse cx="-4.5" cy="0" rx="2.2" ry="3" fill="#8a6cbc"/><circle cx="2.0" cy="0" r="3.2" fill="#e6def2" opacity="0.7"/></g>
<g transform="translate(497.0,643.7) rotate(-22.4)"><rect x="-9.0" y="-5.7" width="18.0" height="11.3" rx="1.6" fill="#b6e2d8"/><ellipse cx="-4.0" cy="0" rx="2.2" ry="3" fill="#6cc8d4"/></g>
<g transform="translate(502.8,653.9) rotate(-37.7)"><rect x="-9.0" y="-5.7" width="18.0" height="11.3" rx="1.6" fill="#b3a3d3"/><ellipse cx="-4.5" cy="0" rx="2.2" ry="3" fill="#8a6cbc"/><circle cx="2.0" cy="0" r="3.2" fill="#e6def2" opacity="0.7"/></g>
<g transform="translate(511.4,662.0) rotate(-56.6)"><rect x="-9.0" y="-5.7" width="18.0" height="11.3" rx="1.6" fill="#b6e2d8"/><ellipse cx="-4.0" cy="0" rx="2.2" ry="3" fill="#6cc8d4"/></g>
<g transform="translate(522.3,666.0) rotate(-86.2)"><rect x="-9.0" y="-5.7" width="18.0" height="11.3" rx="1.6" fill="#b3a3d3"/><ellipse cx="-4.5" cy="0" rx="2.2" ry="3" fill="#8a6cbc"/><circle cx="2.0" cy="0" r="3.2" fill="#e6def2" opacity="0.7"/></g>
<g transform="translate(533.5,662.7) rotate(-120.5)"><rect x="-9.0" y="-5.7" width="18.0" height="11.3" rx="1.6" fill="#b6e2d8"/><ellipse cx="-4.0" cy="0" rx="2.2" ry="3" fill="#6cc8d4"/></g>
<g transform="translate(542.3,655.0) rotate(-139.7)"><rect x="-9.0" y="-5.7" width="18.0" height="11.3" rx="1.6" fill="#b3a3d3"/><ellipse cx="-4.5" cy="0" rx="2.2" ry="3" fill="#8a6cbc"/><circle cx="2.0" cy="0" r="3.2" fill="#e6def2" opacity="0.7"/></g>
<g transform="translate(548.4,644.9) rotate(-156.9)"><rect x="-9.0" y="-5.7" width="18.0" height="11.3" rx="1.6" fill="#b6e2d8"/><ellipse cx="-4.0" cy="0" rx="2.2" ry="3" fill="#6cc8d4"/></g>
<g transform="translate(551.9,633.7) rotate(-167.8)"><rect x="-9.0" y="-5.7" width="18.0" height="11.3" rx="1.6" fill="#b3a3d3"/><ellipse cx="-4.5" cy="0" rx="2.2" ry="3" fill="#8a6cbc"/><circle cx="2.0" cy="0" r="3.2" fill="#e6def2" opacity="0.7"/></g>
<g transform="translate(553.8,622.0) rotate(-173.8)"><rect x="-9.0" y="-5.7" width="18.0" height="11.3" rx="1.6" fill="#b6e2d8"/><ellipse cx="-4.0" cy="0" rx="2.2" ry="3" fill="#6cc8d4"/></g>
<g transform="translate(554.6,610.2) rotate(-177.4)"><rect x="-9.0" y="-5.7" width="18.0" height="11.3" rx="1.6" fill="#d6e48e"/><ellipse cx="-4.0" cy="0" rx="2.4" ry="3.4" fill="#a9bf55"/></g>
<g transform="translate(555.1,598.5) rotate(-177.9)"><rect x="-9.0" y="-5.7" width="18.0" height="11.3" rx="1.6" fill="#a3aba6"/><ellipse cx="-4.0" cy="0" rx="2.4" ry="3.4" fill="#3f9a78"/></g>
<g transform="translate(555.3,586.7) rotate(-179.6)"><rect x="-9.0" y="-5.7" width="18.0" height="11.3" rx="1.6" fill="#a3aba6"/><ellipse cx="-4.0" cy="0" rx="2.4" ry="3.4" fill="#3f9a78"/></g>
<g transform="translate(555.3,574.9) rotate(-179.5)"><rect x="-9.0" y="-5.7" width="18.0" height="11.3" rx="1.6" fill="#a3aba6"/><ellipse cx="-4.0" cy="0" rx="2.4" ry="3.4" fill="#3f9a78"/></g>
<g transform="translate(555.6,563.1) rotate(-177.7)"><rect x="-9.0" y="-5.7" width="18.0" height="11.3" rx="1.6" fill="#a3aba6"/><ellipse cx="-4.0" cy="0" rx="2.4" ry="3.4" fill="#3f9a78"/></g>
<g transform="translate(556.6,551.3) rotate(-169.8)"><rect x="-9.0" y="-5.7" width="18.0" height="11.3" rx="1.6" fill="#f5a8a8"/><line x1="10.1" y1="-4.9" x2="10.1" y2="4.9" stroke="#f5a8a8" stroke-width="2.4" stroke-dasharray="0.9 0.9" opacity="0.85"/><ellipse cx="-3.5" cy="0" rx="1.8" ry="2.8" fill="#e3808c"/></g>
<g transform="translate(560.9,540.3) rotate(-161.9)"><rect x="-9.0" y="-5.7" width="18.0" height="11.3" rx="1.6" fill="#f6a6a6"/><line x1="10.1" y1="-4.9" x2="10.1" y2="4.9" stroke="#f6a6a6" stroke-width="2.4" stroke-dasharray="0.9 0.9" opacity="0.85"/><ellipse cx="-3.5" cy="0" rx="1.8" ry="2.8" fill="#e3808c"/></g>
<g transform="translate(564.6,529.1) rotate(-161.5)"><rect x="-9.0" y="-5.7" width="18.0" height="11.3" rx="1.6" fill="#f6a4a4"/><line x1="10.1" y1="-4.9" x2="10.1" y2="4.9" stroke="#f6a4a4" stroke-width="2.4" stroke-dasharray="0.9 0.9" opacity="0.85"/><ellipse cx="-3.5" cy="0" rx="1.8" ry="2.8" fill="#e3808c"/></g>
<g transform="translate(568.2,517.9) rotate(-162.6)"><rect x="-9.0" y="-5.7" width="18.0" height="11.3" rx="1.6" fill="#f6a4a4"/><line x1="10.1" y1="-4.9" x2="10.1" y2="4.9" stroke="#f6a4a4" stroke-width="2.4" stroke-dasharray="0.9 0.9" opacity="0.85"/><ellipse cx="-3.5" cy="0" rx="1.8" ry="2.8" fill="#e3808c"/></g>
<g transform="translate(571.6,506.6) rotate(-165.0)"><rect x="-9.0" y="-5.7" width="18.0" height="11.3" rx="1.6" fill="#f6a6a5"/><line x1="10.1" y1="-4.9" x2="10.1" y2="4.9" stroke="#f6a6a5" stroke-width="2.4" stroke-dasharray="0.9 0.9" opacity="0.85"/><ellipse cx="-3.5" cy="0" rx="1.8" ry="2.8" fill="#e3808c"/></g>
<g transform="translate(571.6,506.6) rotate(-165.0)"><rect x="-10.0" y="-3.4" width="11.5" height="6.8" rx="1.5" fill="#d0dc62"/><circle cx="-5.5" cy="0" r="2.3" fill="#b8c848"/><circle cx="1.5" cy="0" r="6.8" fill="#dde47c"/><circle cx="1.5" cy="0" r="3.7" fill="#f4f6d8" opacity="0.4"/></g>
<g transform="translate(574.6,495.2) rotate(-165.6)"><rect x="-9.0" y="-5.7" width="18.0" height="11.3" rx="1.6" fill="#f5a8a8"/><line x1="10.1" y1="-4.9" x2="10.1" y2="4.9" stroke="#f5a8a8" stroke-width="2.4" stroke-dasharray="0.9 0.9" opacity="0.85"/><ellipse cx="-3.5" cy="0" rx="1.8" ry="2.8" fill="#e3808c"/></g>
<g transform="translate(577.4,483.7) rotate(-166.7)"><rect x="-9.0" y="-5.7" width="18.0" height="11.3" rx="1.6" fill="#f5abab"/><line x1="10.1" y1="-4.9" x2="10.1" y2="4.9" stroke="#f5abab" stroke-width="2.4" stroke-dasharray="0.9 0.9" opacity="0.85"/><ellipse cx="-3.5" cy="0" rx="1.8" ry="2.8" fill="#e3808c"/></g>
<g transform="translate(579.9,472.2) rotate(-168.6)"><rect x="-9.0" y="-5.7" width="18.0" height="11.3" rx="1.6" fill="#f5afaf"/><line x1="10.1" y1="-4.9" x2="10.1" y2="4.9" stroke="#f5afaf" stroke-width="2.4" stroke-dasharray="0.9 0.9" opacity="0.85"/><ellipse cx="-3.5" cy="0" rx="1.8" ry="2.8" fill="#e3808c"/></g>
<g transform="translate(581.9,460.6) rotate(-171.3)"><rect x="-9.0" y="-5.7" width="18.0" height="11.3" rx="1.6" fill="#f4b4b3"/><line x1="10.1" y1="-4.9" x2="10.1" y2="4.9" stroke="#f4b4b3" stroke-width="2.4" stroke-dasharray="0.9 0.9" opacity="0.85"/><ellipse cx="-3.5" cy="0" rx="1.8" ry="2.8" fill="#e3808c"/></g>
<g transform="translate(583.4,448.9) rotate(-174.0)"><rect x="-9.0" y="-5.7" width="18.0" height="11.3" rx="1.6" fill="#f4b8b8"/><line x1="10.1" y1="-4.9" x2="10.1" y2="4.9" stroke="#f4b8b8" stroke-width="2.4" stroke-dasharray="0.9 0.9" opacity="0.85"/><ellipse cx="-3.5" cy="0" rx="1.8" ry="2.8" fill="#e3808c"/></g>
<g transform="translate(584.4,437.1) rotate(-175.8)"><rect x="-9.0" y="-5.7" width="18.0" height="11.3" rx="1.6" fill="#f4bdbc"/><line x1="10.1" y1="-4.9" x2="10.1" y2="4.9" stroke="#f4bdbc" stroke-width="2.4" stroke-dasharray="0.9 0.9" opacity="0.85"/><ellipse cx="-3.5" cy="0" rx="1.8" ry="2.8" fill="#e3808c"/></g>
<g transform="translate(585.2,425.3) rotate(-176.6)"><rect x="-9.0" y="-5.7" width="18.0" height="11.3" rx="1.6" fill="#f3c2c1"/><line x1="10.1" y1="-4.9" x2="10.1" y2="4.9" stroke="#f3c2c1" stroke-width="2.4" stroke-dasharray="0.9 0.9" opacity="0.85"/><ellipse cx="-3.5" cy="0" rx="1.8" ry="2.8" fill="#e3808c"/></g>
<g transform="translate(585.8,413.6) rotate(-177.1)"><rect x="-9.0" y="-5.7" width="18.0" height="11.3" rx="1.6" fill="#f3c4c3"/><line x1="10.1" y1="-4.9" x2="10.1" y2="4.9" stroke="#f3c4c3" stroke-width="2.4" stroke-dasharray="0.9 0.9" opacity="0.85"/><ellipse cx="-3.5" cy="0" rx="1.8" ry="2.8" fill="#e3808c"/></g>
<g transform="translate(585.8,413.6) rotate(-177.1)"><rect x="-10.0" y="-3.4" width="11.5" height="6.8" rx="1.5" fill="#d0dc62"/><circle cx="-5.5" cy="0" r="2.3" fill="#b8c848"/><circle cx="1.5" cy="0" r="6.8" fill="#dde47c"/><circle cx="1.5" cy="0" r="3.7" fill="#f4f6d8" opacity="0.4"/></g>
<g transform="translate(586.3,401.8) rotate(-178.4)"><rect x="-9.0" y="-5.7" width="18.0" height="11.3" rx="1.6" fill="#f3c4c3"/><line x1="10.1" y1="-4.9" x2="10.1" y2="4.9" stroke="#f3c4c3" stroke-width="2.4" stroke-dasharray="0.9 0.9" opacity="0.85"/><ellipse cx="-3.5" cy="0" rx="1.8" ry="2.8" fill="#e3808c"/></g>
<g transform="translate(586.6,390.0) rotate(-179.2)"><rect x="-9.0" y="-5.7" width="18.0" height="11.3" rx="1.6" fill="#f3c4c3"/><line x1="10.1" y1="-4.9" x2="10.1" y2="4.9" stroke="#f3c4c3" stroke-width="2.4" stroke-dasharray="0.9 0.9" opacity="0.85"/><ellipse cx="-3.5" cy="0" rx="1.8" ry="2.8" fill="#e3808c"/></g>
<g transform="translate(586.7,378.2) rotate(-179.5)"><rect x="-9.0" y="-5.7" width="18.0" height="11.3" rx="1.6" fill="#f3c4c3"/><line x1="10.1" y1="-4.9" x2="10.1" y2="4.9" stroke="#f3c4c3" stroke-width="2.4" stroke-dasharray="0.9 0.9" opacity="0.85"/><ellipse cx="-3.5" cy="0" rx="1.8" ry="2.8" fill="#e3808c"/></g>
<g transform="translate(586.8,366.4) rotate(-178.8)"><rect x="-9.0" y="-5.7" width="18.0" height="11.3" rx="1.6" fill="#f3c4c3"/><line x1="10.1" y1="-4.9" x2="10.1" y2="4.9" stroke="#f3c4c3" stroke-width="2.4" stroke-dasharray="0.9 0.9" opacity="0.85"/><ellipse cx="-3.5" cy="0" rx="1.8" ry="2.8" fill="#e3808c"/></g>
<g transform="translate(587.2,354.6) rotate(-177.8)"><rect x="-9.0" y="-5.7" width="18.0" height="11.3" rx="1.6" fill="#f3c4c3"/><line x1="10.1" y1="-4.9" x2="10.1" y2="4.9" stroke="#f3c4c3" stroke-width="2.4" stroke-dasharray="0.9 0.9" opacity="0.85"/><ellipse cx="-3.5" cy="0" rx="1.8" ry="2.8" fill="#e3808c"/></g>
<g transform="translate(587.8,342.8) rotate(-176.4)"><rect x="-9.0" y="-5.7" width="18.0" height="11.3" rx="1.6" fill="#f3c4c3"/><line x1="10.1" y1="-4.9" x2="10.1" y2="4.9" stroke="#f3c4c3" stroke-width="2.4" stroke-dasharray="0.9 0.9" opacity="0.85"/><ellipse cx="-3.5" cy="0" rx="1.8" ry="2.8" fill="#e3808c"/></g>
<g transform="translate(587.8,342.8) rotate(-176.4)"><rect x="-10.0" y="-3.4" width="11.5" height="6.8" rx="1.5" fill="#d0dc62"/><circle cx="-5.5" cy="0" r="2.3" fill="#b8c848"/><circle cx="1.5" cy="0" r="6.8" fill="#dde47c"/><circle cx="1.5" cy="0" r="3.7" fill="#f4f6d8" opacity="0.4"/></g>
<g transform="translate(588.9,331.0) rotate(-172.0)"><rect x="-9.0" y="-5.7" width="18.0" height="11.3" rx="1.6" fill="#f3c4c3"/><line x1="10.1" y1="-4.9" x2="10.1" y2="4.9" stroke="#f3c4c3" stroke-width="2.4" stroke-dasharray="0.9 0.9" opacity="0.85"/><ellipse cx="-3.5" cy="0" rx="1.8" ry="2.8" fill="#e3808c"/></g>
<g transform="translate(591.4,319.5) rotate(-162.7)"><rect x="-9.0" y="-5.7" width="18.0" height="11.3" rx="1.6" fill="#f3c4c3"/><line x1="10.1" y1="-4.9" x2="10.1" y2="4.9" stroke="#f3c4c3" stroke-width="2.4" stroke-dasharray="0.9 0.9" opacity="0.85"/><ellipse cx="-3.5" cy="0" rx="1.8" ry="2.8" fill="#e3808c"/></g>
<g transform="translate(595.5,308.5) rotate(-155.0)"><rect x="-9.0" y="-5.7" width="18.0" height="11.3" rx="1.6" fill="#f3c4c3"/><line x1="10.1" y1="-4.9" x2="10.1" y2="4.9" stroke="#f3c4c3" stroke-width="2.4" stroke-dasharray="0.9 0.9" opacity="0.85"/><ellipse cx="-3.5" cy="0" rx="1.8" ry="2.8" fill="#e3808c"/></g>
<g transform="translate(613.1,305.2) rotate(-30.5)"><rect x="-9.0" y="-5.7" width="18.0" height="11.3" rx="1.6" fill="#f3c4c3"/><line x1="10.1" y1="-4.9" x2="10.1" y2="4.9" stroke="#f3c4c3" stroke-width="2.4" stroke-dasharray="0.9 0.9" opacity="0.85"/><ellipse cx="-3.5" cy="0" rx="1.8" ry="2.8" fill="#e3808c"/></g>
<g transform="translate(618.3,315.7) rotate(-21.9)"><rect x="-9.0" y="-5.7" width="18.0" height="11.3" rx="1.6" fill="#f3c4c3"/><line x1="10.1" y1="-4.9" x2="10.1" y2="4.9" stroke="#f3c4c3" stroke-width="2.4" stroke-dasharray="0.9 0.9" opacity="0.85"/><ellipse cx="-3.5" cy="0" rx="1.8" ry="2.8" fill="#e3808c"/></g>
<g transform="translate(622.5,326.7) rotate(-18.9)"><rect x="-9.0" y="-5.7" width="18.0" height="11.3" rx="1.6" fill="#f3c4c3"/><line x1="10.1" y1="-4.9" x2="10.1" y2="4.9" stroke="#f3c4c3" stroke-width="2.4" stroke-dasharray="0.9 0.9" opacity="0.85"/><ellipse cx="-3.5" cy="0" rx="1.8" ry="2.8" fill="#e3808c"/></g>
<g transform="translate(625.6,338.1) rotate(-11.9)"><rect x="-9.0" y="-5.7" width="18.0" height="11.3" rx="1.6" fill="#f3c4c3"/><line x1="10.1" y1="-4.9" x2="10.1" y2="4.9" stroke="#f3c4c3" stroke-width="2.4" stroke-dasharray="0.9 0.9" opacity="0.85"/><ellipse cx="-3.5" cy="0" rx="1.8" ry="2.8" fill="#e3808c"/></g>
<g transform="translate(627.4,349.8) rotate(-6.7)"><rect x="-9.0" y="-5.7" width="18.0" height="11.3" rx="1.6" fill="#f3c4c3"/><line x1="10.1" y1="-4.9" x2="10.1" y2="4.9" stroke="#f3c4c3" stroke-width="2.4" stroke-dasharray="0.9 0.9" opacity="0.85"/><ellipse cx="-3.5" cy="0" rx="1.8" ry="2.8" fill="#e3808c"/></g>
<g transform="translate(628.6,361.5) rotate(-4.8)"><rect x="-9.0" y="-5.7" width="18.0" height="11.3" rx="1.6" fill="#f3c4c3"/><line x1="10.1" y1="-4.9" x2="10.1" y2="4.9" stroke="#f3c4c3" stroke-width="2.4" stroke-dasharray="0.9 0.9" opacity="0.85"/><ellipse cx="-3.5" cy="0" rx="1.8" ry="2.8" fill="#e3808c"/></g>
<g transform="translate(628.6,361.5) rotate(-4.8)"><rect x="-10.0" y="-3.4" width="11.5" height="6.8" rx="1.5" fill="#d0dc62"/><circle cx="-5.5" cy="0" r="2.3" fill="#b8c848"/><circle cx="1.5" cy="0" r="6.8" fill="#dde47c"/><circle cx="1.5" cy="0" r="3.7" fill="#f4f6d8" opacity="0.4"/></g>
<g transform="translate(629.5,373.3) rotate(-4.2)"><rect x="-9.0" y="-5.7" width="18.0" height="11.3" rx="1.6" fill="#f3c4c3"/><line x1="10.1" y1="-4.9" x2="10.1" y2="4.9" stroke="#f3c4c3" stroke-width="2.4" stroke-dasharray="0.9 0.9" opacity="0.85"/><ellipse cx="-3.5" cy="0" rx="1.8" ry="2.8" fill="#e3808c"/></g>
<g transform="translate(630.3,385.1) rotate(-3.4)"><rect x="-9.0" y="-5.7" width="18.0" height="11.3" rx="1.6" fill="#f3c4c3"/><line x1="10.1" y1="-4.9" x2="10.1" y2="4.9" stroke="#f3c4c3" stroke-width="2.4" stroke-dasharray="0.9 0.9" opacity="0.85"/><ellipse cx="-3.5" cy="0" rx="1.8" ry="2.8" fill="#e3808c"/></g>
<g transform="translate(630.9,396.8) rotate(-2.2)"><rect x="-9.0" y="-5.7" width="18.0" height="11.3" rx="1.6" fill="#f3c4c3"/><line x1="10.1" y1="-4.9" x2="10.1" y2="4.9" stroke="#f3c4c3" stroke-width="2.4" stroke-dasharray="0.9 0.9" opacity="0.85"/><ellipse cx="-3.5" cy="0" rx="1.8" ry="2.8" fill="#e3808c"/></g>
<g transform="translate(631.3,408.6) rotate(-2.6)"><rect x="-9.0" y="-5.7" width="18.0" height="11.3" rx="1.6" fill="#f3c4c3"/><line x1="10.1" y1="-4.9" x2="10.1" y2="4.9" stroke="#f3c4c3" stroke-width="2.4" stroke-dasharray="0.9 0.9" opacity="0.85"/><ellipse cx="-3.5" cy="0" rx="1.8" ry="2.8" fill="#e3808c"/></g>
<g transform="translate(632.0,420.4) rotate(-4.2)"><rect x="-9.0" y="-5.7" width="18.0" height="11.3" rx="1.6" fill="#f1aa72"/><ellipse cx="-3.5" cy="0" rx="2" ry="3" fill="#d7701f"/></g>
<g transform="translate(632.9,432.2) rotate(-4.4)"><rect x="-9.0" y="-5.7" width="18.0" height="11.3" rx="1.6" fill="#f4bebd"/><line x1="10.1" y1="-4.9" x2="10.1" y2="4.9" stroke="#f4bebd" stroke-width="2.4" stroke-dasharray="0.9 0.9" opacity="0.85"/><ellipse cx="-3.5" cy="0" rx="1.8" ry="2.8" fill="#e3808c"/></g>
<g transform="translate(633.9,443.9) rotate(-5.5)"><rect x="-9.0" y="-5.7" width="18.0" height="11.3" rx="1.6" fill="#f4b9b9"/><line x1="10.1" y1="-4.9" x2="10.1" y2="4.9" stroke="#f4b9b9" stroke-width="2.4" stroke-dasharray="0.9 0.9" opacity="0.85"/><ellipse cx="-3.5" cy="0" rx="1.8" ry="2.8" fill="#e3808c"/></g>
<g transform="translate(633.9,443.9) rotate(-5.5)"><rect x="-10.0" y="-3.4" width="11.5" height="6.8" rx="1.5" fill="#d0dc62"/><circle cx="-5.5" cy="0" r="2.3" fill="#b8c848"/><circle cx="1.5" cy="0" r="6.8" fill="#dde47c"/><circle cx="1.5" cy="0" r="3.7" fill="#f4f6d8" opacity="0.4"/></g>
<g transform="translate(635.3,455.7) rotate(-8.2)"><rect x="-9.0" y="-5.7" width="18.0" height="11.3" rx="1.6" fill="#f4b4b4"/><line x1="10.1" y1="-4.9" x2="10.1" y2="4.9" stroke="#f4b4b4" stroke-width="2.4" stroke-dasharray="0.9 0.9" opacity="0.85"/><ellipse cx="-3.5" cy="0" rx="1.8" ry="2.8" fill="#e3808c"/></g>
<g transform="translate(637.4,467.3) rotate(-12.1)"><rect x="-9.0" y="-5.7" width="18.0" height="11.3" rx="1.6" fill="#f5afaf"/><line x1="10.1" y1="-4.9" x2="10.1" y2="4.9" stroke="#f5afaf" stroke-width="2.4" stroke-dasharray="0.9 0.9" opacity="0.85"/><ellipse cx="-3.5" cy="0" rx="1.8" ry="2.8" fill="#e3808c"/></g>
<g transform="translate(640.3,478.7) rotate(-15.3)"><rect x="-9.0" y="-5.7" width="18.0" height="11.3" rx="1.6" fill="#f5abab"/><line x1="10.1" y1="-4.9" x2="10.1" y2="4.9" stroke="#f5abab" stroke-width="2.4" stroke-dasharray="0.9 0.9" opacity="0.85"/><ellipse cx="-3.5" cy="0" rx="1.8" ry="2.8" fill="#e3808c"/></g>
<g transform="translate(643.5,490.0) rotate(-16.5)"><rect x="-9.0" y="-5.7" width="18.0" height="11.3" rx="1.6" fill="#f6a7a7"/><line x1="10.1" y1="-4.9" x2="10.1" y2="4.9" stroke="#f6a7a7" stroke-width="2.4" stroke-dasharray="0.9 0.9" opacity="0.85"/><ellipse cx="-3.5" cy="0" rx="1.8" ry="2.8" fill="#e3808c"/></g>
<g transform="translate(646.9,501.3) rotate(-17.5)"><rect x="-9.0" y="-5.7" width="18.0" height="11.3" rx="1.6" fill="#f6a4a4"/><line x1="10.1" y1="-4.9" x2="10.1" y2="4.9" stroke="#f6a4a4" stroke-width="2.4" stroke-dasharray="0.9 0.9" opacity="0.85"/><ellipse cx="-3.5" cy="0" rx="1.8" ry="2.8" fill="#e3808c"/></g>
<g transform="translate(650.6,512.6) rotate(-18.9)"><rect x="-9.0" y="-5.7" width="18.0" height="11.3" rx="1.6" fill="#f6a2a2"/><line x1="10.1" y1="-4.9" x2="10.1" y2="4.9" stroke="#f6a2a2" stroke-width="2.4" stroke-dasharray="0.9 0.9" opacity="0.85"/><ellipse cx="-3.5" cy="0" rx="1.8" ry="2.8" fill="#e3808c"/></g>
<g transform="translate(654.5,523.7) rotate(-19.2)"><rect x="-9.0" y="-5.7" width="18.0" height="11.3" rx="1.6" fill="#f6a2a2"/><line x1="10.1" y1="-4.9" x2="10.1" y2="4.9" stroke="#f6a2a2" stroke-width="2.4" stroke-dasharray="0.9 0.9" opacity="0.85"/><ellipse cx="-3.5" cy="0" rx="1.8" ry="2.8" fill="#e3808c"/></g>
<g transform="translate(658.5,534.8) rotate(-21.7)"><rect x="-9.0" y="-5.7" width="18.0" height="11.3" rx="1.6" fill="#f6a2a2"/><line x1="10.1" y1="-4.9" x2="10.1" y2="4.9" stroke="#f6a2a2" stroke-width="2.4" stroke-dasharray="0.9 0.9" opacity="0.85"/><ellipse cx="-3.5" cy="0" rx="1.8" ry="2.8" fill="#e3808c"/></g>
<g transform="translate(662.8,545.8) rotate(-18.7)"><rect x="-9.0" y="-5.7" width="18.0" height="11.3" rx="1.6" fill="#f6a4a4"/><line x1="10.1" y1="-4.9" x2="10.1" y2="4.9" stroke="#f6a4a4" stroke-width="2.4" stroke-dasharray="0.9 0.9" opacity="0.85"/><ellipse cx="-3.5" cy="0" rx="1.8" ry="2.8" fill="#e3808c"/></g>
<g transform="translate(665.4,557.3) rotate(-6.5)"><rect x="-9.0" y="-5.7" width="18.0" height="11.3" rx="1.6" fill="#a3aba6"/><ellipse cx="-4.0" cy="0" rx="2.4" ry="3.4" fill="#3f9a78"/></g>
<g transform="translate(666.0,569.1) rotate(-1.8)"><rect x="-9.0" y="-5.7" width="18.0" height="11.3" rx="1.6" fill="#a3aba6"/><ellipse cx="-4.0" cy="0" rx="2.4" ry="3.4" fill="#3f9a78"/></g>
<g transform="translate(666.1,580.9) rotate(0.0)"><rect x="-9.0" y="-5.7" width="18.0" height="11.3" rx="1.6" fill="#a3aba6"/><ellipse cx="-4.0" cy="0" rx="2.4" ry="3.4" fill="#3f9a78"/></g>
<g transform="translate(666.1,592.7) rotate(0.4)"><rect x="-9.0" y="-5.7" width="18.0" height="11.3" rx="1.6" fill="#a3aba6"/><ellipse cx="-4.0" cy="0" rx="2.4" ry="3.4" fill="#3f9a78"/></g>
<g transform="translate(666.0,604.5) rotate(0.3)"><rect x="-9.0" y="-5.7" width="18.0" height="11.3" rx="1.6" fill="#d6e48e"/><ellipse cx="-4.0" cy="0" rx="2.4" ry="3.4" fill="#a9bf55"/></g>
<g transform="translate(666.0,616.3) rotate(-0.8)"><rect x="-9.0" y="-5.7" width="18.0" height="11.3" rx="1.6" fill="#b6e2d8"/><ellipse cx="-4.0" cy="0" rx="2.2" ry="3" fill="#6cc8d4"/></g>
<g transform="translate(666.3,628.1) rotate(-6.9)"><rect x="-9.0" y="-5.7" width="18.0" height="11.3" rx="1.6" fill="#b3a3d3"/><ellipse cx="-4.5" cy="0" rx="2.2" ry="3" fill="#8a6cbc"/><circle cx="2.0" cy="0" r="3.2" fill="#e6def2" opacity="0.7"/></g>
<g transform="translate(669.3,639.4) rotate(-21.8)"><rect x="-9.0" y="-5.7" width="18.0" height="11.3" rx="1.6" fill="#b6e2d8"/><ellipse cx="-4.0" cy="0" rx="2.2" ry="3" fill="#6cc8d4"/></g>
<g transform="translate(675.9,649.1) rotate(-46.9)"><rect x="-9.0" y="-5.7" width="18.0" height="11.3" rx="1.6" fill="#b3a3d3"/><ellipse cx="-4.5" cy="0" rx="2.2" ry="3" fill="#8a6cbc"/><circle cx="2.0" cy="0" r="3.2" fill="#e6def2" opacity="0.7"/></g>
<g transform="translate(685.8,655.4) rotate(-68.3)"><rect x="-9.0" y="-5.7" width="18.0" height="11.3" rx="1.6" fill="#b6e2d8"/><ellipse cx="-4.0" cy="0" rx="2.2" ry="3" fill="#6cc8d4"/></g>
<g transform="translate(697.2,658.6) rotate(-77.0)"><rect x="-9.0" y="-5.7" width="18.0" height="11.3" rx="1.6" fill="#b3a3d3"/><ellipse cx="-4.5" cy="0" rx="2.2" ry="3" fill="#8a6cbc"/><circle cx="2.0" cy="0" r="3.2" fill="#e6def2" opacity="0.7"/></g>
<g transform="translate(1278.2,307.5) rotate(31.0)"><rect x="-7.8" y="-4.7" width="15.5" height="9.3" rx="1.6" fill="#f3c4c3"/><line x1="-8.8" y1="-3.9" x2="-8.8" y2="3.9" stroke="#f3c4c3" stroke-width="2.4" stroke-dasharray="0.9 0.9" opacity="0.85"/><ellipse cx="2.2" cy="0" rx="1.8" ry="2.8" fill="#e3808c"/></g>
<g transform="translate(1273.9,316.2) rotate(19.0)"><rect x="-7.8" y="-4.7" width="15.5" height="9.3" rx="1.6" fill="#f3c4c3"/><line x1="-8.8" y1="-3.9" x2="-8.8" y2="3.9" stroke="#f3c4c3" stroke-width="2.4" stroke-dasharray="0.9 0.9" opacity="0.85"/><ellipse cx="2.2" cy="0" rx="1.8" ry="2.8" fill="#e3808c"/></g>
<g transform="translate(1271.2,325.7) rotate(12.3)"><rect x="-7.8" y="-4.7" width="15.5" height="9.3" rx="1.6" fill="#f3c4c3"/><line x1="-8.8" y1="-3.9" x2="-8.8" y2="3.9" stroke="#f3c4c3" stroke-width="2.4" stroke-dasharray="0.9 0.9" opacity="0.85"/><ellipse cx="2.2" cy="0" rx="1.8" ry="2.8" fill="#e3808c"/></g>
<g transform="translate(1269.6,335.3) rotate(7.9)"><rect x="-7.8" y="-4.7" width="15.5" height="9.3" rx="1.6" fill="#f3c4c3"/><line x1="-8.8" y1="-3.9" x2="-8.8" y2="3.9" stroke="#f3c4c3" stroke-width="2.4" stroke-dasharray="0.9 0.9" opacity="0.85"/><ellipse cx="2.2" cy="0" rx="1.8" ry="2.8" fill="#e3808c"/></g>
<g transform="translate(1268.5,345.1) rotate(4.6)"><rect x="-7.8" y="-4.7" width="15.5" height="9.3" rx="1.6" fill="#f3c4c3"/><line x1="-8.8" y1="-3.9" x2="-8.8" y2="3.9" stroke="#f3c4c3" stroke-width="2.4" stroke-dasharray="0.9 0.9" opacity="0.85"/><ellipse cx="2.2" cy="0" rx="1.8" ry="2.8" fill="#e3808c"/></g>
<g transform="translate(1268.5,345.1) rotate(4.6)"><rect x="-1.5" y="-2.8" width="10.2" height="5.6" rx="1.5" fill="#d0dc62"/><circle cx="4.2" cy="0" r="1.9" fill="#b8c848"/><circle cx="-1.5" cy="0" r="5.6" fill="#dde47c"/><circle cx="-1.5" cy="0" r="3.1" fill="#f4f6d8" opacity="0.4"/></g>
<g transform="translate(1267.9,354.8) rotate(2.8)"><rect x="-7.8" y="-4.7" width="15.5" height="9.3" rx="1.6" fill="#f3c4c3"/><line x1="-8.8" y1="-3.9" x2="-8.8" y2="3.9" stroke="#f3c4c3" stroke-width="2.4" stroke-dasharray="0.9 0.9" opacity="0.85"/><ellipse cx="2.2" cy="0" rx="1.8" ry="2.8" fill="#e3808c"/></g>
<g transform="translate(1267.5,364.6) rotate(2.1)"><rect x="-7.8" y="-4.7" width="15.5" height="9.3" rx="1.6" fill="#f3c4c3"/><line x1="-8.8" y1="-3.9" x2="-8.8" y2="3.9" stroke="#f3c4c3" stroke-width="2.4" stroke-dasharray="0.9 0.9" opacity="0.85"/><ellipse cx="2.2" cy="0" rx="1.8" ry="2.8" fill="#e3808c"/></g>
<g transform="translate(1267.2,374.4) rotate(2.0)"><rect x="-7.8" y="-4.7" width="15.5" height="9.3" rx="1.6" fill="#f3c4c3"/><line x1="-8.8" y1="-3.9" x2="-8.8" y2="3.9" stroke="#f3c4c3" stroke-width="2.4" stroke-dasharray="0.9 0.9" opacity="0.85"/><ellipse cx="2.2" cy="0" rx="1.8" ry="2.8" fill="#e3808c"/></g>
<g transform="translate(1266.9,384.2) rotate(1.6)"><rect x="-7.8" y="-4.7" width="15.5" height="9.3" rx="1.6" fill="#f3c4c3"/><line x1="-8.8" y1="-3.9" x2="-8.8" y2="3.9" stroke="#f3c4c3" stroke-width="2.4" stroke-dasharray="0.9 0.9" opacity="0.85"/><ellipse cx="2.2" cy="0" rx="1.8" ry="2.8" fill="#e3808c"/></g>
<g transform="translate(1266.6,394.0) rotate(1.0)"><rect x="-7.8" y="-4.7" width="15.5" height="9.3" rx="1.6" fill="#f3c4c3"/><line x1="-8.8" y1="-3.9" x2="-8.8" y2="3.9" stroke="#f3c4c3" stroke-width="2.4" stroke-dasharray="0.9 0.9" opacity="0.85"/><ellipse cx="2.2" cy="0" rx="1.8" ry="2.8" fill="#e3808c"/></g>
<g transform="translate(1266.5,403.8) rotate(1.4)"><rect x="-7.8" y="-4.7" width="15.5" height="9.3" rx="1.6" fill="#f3c4c3"/><line x1="-8.8" y1="-3.9" x2="-8.8" y2="3.9" stroke="#f3c4c3" stroke-width="2.4" stroke-dasharray="0.9 0.9" opacity="0.85"/><ellipse cx="2.2" cy="0" rx="1.8" ry="2.8" fill="#e3808c"/></g>
<g transform="translate(1266.1,413.6) rotate(3.5)"><rect x="-7.8" y="-4.7" width="15.5" height="9.3" rx="1.6" fill="#f3c4c3"/><line x1="-8.8" y1="-3.9" x2="-8.8" y2="3.9" stroke="#f3c4c3" stroke-width="2.4" stroke-dasharray="0.9 0.9" opacity="0.85"/><ellipse cx="2.2" cy="0" rx="1.8" ry="2.8" fill="#e3808c"/></g>
<g transform="translate(1266.1,413.6) rotate(3.5)"><rect x="-1.5" y="-2.8" width="10.2" height="5.6" rx="1.5" fill="#d0dc62"/><circle cx="4.2" cy="0" r="1.9" fill="#b8c848"/><circle cx="-1.5" cy="0" r="5.6" fill="#dde47c"/><circle cx="-1.5" cy="0" r="3.1" fill="#f4f6d8" opacity="0.4"/></g>
<g transform="translate(1265.4,423.4) rotate(5.2)"><rect x="-7.8" y="-4.7" width="15.5" height="9.3" rx="1.6" fill="#f3c4c3"/><line x1="-8.8" y1="-3.9" x2="-8.8" y2="3.9" stroke="#f3c4c3" stroke-width="2.4" stroke-dasharray="0.9 0.9" opacity="0.85"/><ellipse cx="2.2" cy="0" rx="1.8" ry="2.8" fill="#e3808c"/></g>
<g transform="translate(1264.2,433.1) rotate(8.7)"><rect x="-7.8" y="-4.7" width="15.5" height="9.3" rx="1.6" fill="#f3c4c3"/><line x1="-8.8" y1="-3.9" x2="-8.8" y2="3.9" stroke="#f3c4c3" stroke-width="2.4" stroke-dasharray="0.9 0.9" opacity="0.85"/><ellipse cx="2.2" cy="0" rx="1.8" ry="2.8" fill="#e3808c"/></g>
<g transform="translate(1262.4,442.7) rotate(13.5)"><rect x="-7.8" y="-4.7" width="15.5" height="9.3" rx="1.6" fill="#f3c4c3"/><line x1="-8.8" y1="-3.9" x2="-8.8" y2="3.9" stroke="#f3c4c3" stroke-width="2.4" stroke-dasharray="0.9 0.9" opacity="0.85"/><ellipse cx="2.2" cy="0" rx="1.8" ry="2.8" fill="#e3808c"/></g>
<g transform="translate(1259.7,452.2) rotate(17.7)"><rect x="-7.8" y="-4.7" width="15.5" height="9.3" rx="1.6" fill="#f3c4c3"/><line x1="-8.8" y1="-3.9" x2="-8.8" y2="3.9" stroke="#f3c4c3" stroke-width="2.4" stroke-dasharray="0.9 0.9" opacity="0.85"/><ellipse cx="2.2" cy="0" rx="1.8" ry="2.8" fill="#e3808c"/></g>
<g transform="translate(1256.6,461.4) rotate(19.8)"><rect x="-7.8" y="-4.7" width="15.5" height="9.3" rx="1.6" fill="#f3c4c3"/><line x1="-8.8" y1="-3.9" x2="-8.8" y2="3.9" stroke="#f3c4c3" stroke-width="2.4" stroke-dasharray="0.9 0.9" opacity="0.85"/><ellipse cx="2.2" cy="0" rx="1.8" ry="2.8" fill="#e3808c"/></g>
<g transform="translate(1252.9,470.5) rotate(23.6)"><rect x="-7.8" y="-4.7" width="15.5" height="9.3" rx="1.6" fill="#fbb83a"/><circle cx="2.2" cy="0" r="3.6" fill="#8fd0f0"/><circle cx="2.2" cy="0" r="2.6" fill="#1e88d8"/></g>
<g transform="translate(1248.9,479.5) rotate(23.9)"><rect x="-7.8" y="-4.7" width="15.5" height="9.3" rx="1.6" fill="#fbb83a"/><circle cx="2.2" cy="0" r="3.6" fill="#8fd0f0"/><circle cx="2.2" cy="0" r="2.6" fill="#1e88d8"/></g>
<g transform="translate(1245.1,488.5) rotate(23.5)"><rect x="-7.8" y="-4.7" width="15.5" height="9.3" rx="1.6" fill="#fbb83a"/><circle cx="2.2" cy="0" r="3.6" fill="#8fd0f0"/><circle cx="2.2" cy="0" r="2.6" fill="#1e88d8"/></g>
<g transform="translate(1241.5,497.6) rotate(18.5)"><rect x="-7.8" y="-4.7" width="15.5" height="9.3" rx="1.6" fill="#fbb83a"/><circle cx="2.2" cy="0" r="3.6" fill="#8fd0f0"/><circle cx="2.2" cy="0" r="2.6" fill="#1e88d8"/></g>
<g transform="translate(1239.2,507.1) rotate(9.6)"><rect x="-7.8" y="-4.7" width="15.5" height="9.3" rx="1.6" fill="#fbb83a"/><circle cx="2.2" cy="0" r="3.6" fill="#8fd0f0"/><circle cx="2.2" cy="0" r="2.6" fill="#1e88d8"/></g>
<g transform="translate(1237.9,516.8) rotate(5.8)"><rect x="-7.8" y="-4.7" width="15.5" height="9.3" rx="1.6" fill="#fbb83a"/><circle cx="2.2" cy="0" r="3.6" fill="#8fd0f0"/><circle cx="2.2" cy="0" r="2.6" fill="#1e88d8"/></g>
<g transform="translate(1237.2,526.6) rotate(3.5)"><rect x="-7.8" y="-4.7" width="15.5" height="9.3" rx="1.6" fill="#fbb83a"/><circle cx="2.2" cy="0" r="3.6" fill="#8fd0f0"/><circle cx="2.2" cy="0" r="2.6" fill="#1e88d8"/></g>
<g transform="translate(1236.8,536.4) rotate(0.1)"><rect x="-7.8" y="-4.7" width="15.5" height="9.3" rx="1.6" fill="#fbb83a"/><circle cx="2.2" cy="0" r="3.6" fill="#8fd0f0"/><circle cx="2.2" cy="0" r="2.6" fill="#1e88d8"/></g>
<g transform="translate(1236.9,546.2) rotate(-1.0)"><rect x="-7.8" y="-4.7" width="15.5" height="9.3" rx="1.6" fill="#fbb83a"/><circle cx="2.2" cy="0" r="3.6" fill="#8fd0f0"/><circle cx="2.2" cy="0" r="2.6" fill="#1e88d8"/></g>
<g transform="translate(1237.1,556.0) rotate(-0.4)"><rect x="-7.8" y="-4.7" width="15.5" height="9.3" rx="1.6" fill="#b6e2d8"/><ellipse cx="2.8" cy="0" rx="2.2" ry="3" fill="#6cc8d4"/></g>
<g transform="translate(1236.8,565.8) rotate(3.3)"><rect x="-7.8" y="-4.7" width="15.5" height="9.3" rx="1.6" fill="#b3a3d3"/><ellipse cx="3.2" cy="0" rx="2.2" ry="3" fill="#8a6cbc"/><circle cx="-2.0" cy="0" r="3.2" fill="#e6def2" opacity="0.7"/></g>
<g transform="translate(1235.4,575.5) rotate(15.1)"><rect x="-7.8" y="-4.7" width="15.5" height="9.3" rx="1.6" fill="#b6e2d8"/><ellipse cx="2.8" cy="0" rx="2.2" ry="3" fill="#6cc8d4"/></g>
<g transform="translate(1231.6,584.5) rotate(33.0)"><rect x="-7.8" y="-4.7" width="15.5" height="9.3" rx="1.6" fill="#b3a3d3"/><ellipse cx="3.2" cy="0" rx="2.2" ry="3" fill="#8a6cbc"/><circle cx="-2.0" cy="0" r="3.2" fill="#e6def2" opacity="0.7"/></g>
<g transform="translate(1225.1,591.7) rotate(51.3)"><rect x="-7.8" y="-4.7" width="15.5" height="9.3" rx="1.6" fill="#b6e2d8"/><ellipse cx="2.8" cy="0" rx="2.2" ry="3" fill="#6cc8d4"/></g>
<g transform="translate(1296.8,307.4) rotate(-21.0)"><rect x="-7.8" y="-4.7" width="15.5" height="9.3" rx="1.6" fill="#f3c4c3"/><line x1="8.8" y1="-3.9" x2="8.8" y2="3.9" stroke="#f3c4c3" stroke-width="2.4" stroke-dasharray="0.9 0.9" opacity="0.85"/><ellipse cx="-2.2" cy="0" rx="1.8" ry="2.8" fill="#e3808c"/></g>
<g transform="translate(1299.9,316.7) rotate(-14.3)"><rect x="-7.8" y="-4.7" width="15.5" height="9.3" rx="1.6" fill="#f3c4c3"/><line x1="8.8" y1="-3.9" x2="8.8" y2="3.9" stroke="#f3c4c3" stroke-width="2.4" stroke-dasharray="0.9 0.9" opacity="0.85"/><ellipse cx="-2.2" cy="0" rx="1.8" ry="2.8" fill="#e3808c"/></g>
<g transform="translate(1301.6,326.3) rotate(-7.7)"><rect x="-7.8" y="-4.7" width="15.5" height="9.3" rx="1.6" fill="#f3c4c3"/><line x1="8.8" y1="-3.9" x2="8.8" y2="3.9" stroke="#f3c4c3" stroke-width="2.4" stroke-dasharray="0.9 0.9" opacity="0.85"/><ellipse cx="-2.2" cy="0" rx="1.8" ry="2.8" fill="#e3808c"/></g>
<g transform="translate(1301.6,326.3) rotate(-7.7)"><rect x="-8.8" y="-2.8" width="10.2" height="5.6" rx="1.5" fill="#d0dc62"/><circle cx="-4.2" cy="0" r="1.9" fill="#b8c848"/><circle cx="1.5" cy="0" r="5.6" fill="#dde47c"/><circle cx="1.5" cy="0" r="3.1" fill="#f4f6d8" opacity="0.4"/></g>
<g transform="translate(1302.7,336.1) rotate(-4.7)"><rect x="-7.8" y="-4.7" width="15.5" height="9.3" rx="1.6" fill="#f3c4c3"/><line x1="8.8" y1="-3.9" x2="8.8" y2="3.9" stroke="#f3c4c3" stroke-width="2.4" stroke-dasharray="0.9 0.9" opacity="0.85"/><ellipse cx="-2.2" cy="0" rx="1.8" ry="2.8" fill="#e3808c"/></g>
<g transform="translate(1303.3,345.8) rotate(-3.3)"><rect x="-7.8" y="-4.7" width="15.5" height="9.3" rx="1.6" fill="#f3c4c3"/><line x1="8.8" y1="-3.9" x2="8.8" y2="3.9" stroke="#f3c4c3" stroke-width="2.4" stroke-dasharray="0.9 0.9" opacity="0.85"/><ellipse cx="-2.2" cy="0" rx="1.8" ry="2.8" fill="#e3808c"/></g>
<g transform="translate(1303.8,355.6) rotate(-2.6)"><rect x="-7.8" y="-4.7" width="15.5" height="9.3" rx="1.6" fill="#f1aa72"/><ellipse cx="-2.2" cy="0" rx="2" ry="3" fill="#d7701f"/></g>
<g transform="translate(1304.2,365.4) rotate(-1.5)"><rect x="-7.8" y="-4.7" width="15.5" height="9.3" rx="1.6" fill="#f3c4c3"/><line x1="8.8" y1="-3.9" x2="8.8" y2="3.9" stroke="#f3c4c3" stroke-width="2.4" stroke-dasharray="0.9 0.9" opacity="0.85"/><ellipse cx="-2.2" cy="0" rx="1.8" ry="2.8" fill="#e3808c"/></g>
<g transform="translate(1304.4,375.2) rotate(-0.8)"><rect x="-7.8" y="-4.7" width="15.5" height="9.3" rx="1.6" fill="#f3c4c3"/><line x1="8.8" y1="-3.9" x2="8.8" y2="3.9" stroke="#f3c4c3" stroke-width="2.4" stroke-dasharray="0.9 0.9" opacity="0.85"/><ellipse cx="-2.2" cy="0" rx="1.8" ry="2.8" fill="#e3808c"/></g>
<g transform="translate(1304.5,385.0) rotate(-0.5)"><rect x="-7.8" y="-4.7" width="15.5" height="9.3" rx="1.6" fill="#f3c4c3"/><line x1="8.8" y1="-3.9" x2="8.8" y2="3.9" stroke="#f3c4c3" stroke-width="2.4" stroke-dasharray="0.9 0.9" opacity="0.85"/><ellipse cx="-2.2" cy="0" rx="1.8" ry="2.8" fill="#e3808c"/></g>
<g transform="translate(1304.5,385.0) rotate(-0.5)"><rect x="-8.8" y="-2.8" width="10.2" height="5.6" rx="1.5" fill="#d0dc62"/><circle cx="-4.2" cy="0" r="1.9" fill="#b8c848"/><circle cx="1.5" cy="0" r="5.6" fill="#dde47c"/><circle cx="1.5" cy="0" r="3.1" fill="#f4f6d8" opacity="0.4"/></g>
<g transform="translate(1304.6,394.8) rotate(-0.6)"><rect x="-7.8" y="-4.7" width="15.5" height="9.3" rx="1.6" fill="#f3c4c3"/><line x1="8.8" y1="-3.9" x2="8.8" y2="3.9" stroke="#f3c4c3" stroke-width="2.4" stroke-dasharray="0.9 0.9" opacity="0.85"/><ellipse cx="-2.2" cy="0" rx="1.8" ry="2.8" fill="#e3808c"/></g>
<g transform="translate(1304.7,404.6) rotate(-1.0)"><rect x="-7.8" y="-4.7" width="15.5" height="9.3" rx="1.6" fill="#f3c4c3"/><line x1="8.8" y1="-3.9" x2="8.8" y2="3.9" stroke="#f3c4c3" stroke-width="2.4" stroke-dasharray="0.9 0.9" opacity="0.85"/><ellipse cx="-2.2" cy="0" rx="1.8" ry="2.8" fill="#e3808c"/></g>
<g transform="translate(1305.0,414.4) rotate(-2.3)"><rect x="-7.8" y="-4.7" width="15.5" height="9.3" rx="1.6" fill="#f3c4c3"/><line x1="8.8" y1="-3.9" x2="8.8" y2="3.9" stroke="#f3c4c3" stroke-width="2.4" stroke-dasharray="0.9 0.9" opacity="0.85"/><ellipse cx="-2.2" cy="0" rx="1.8" ry="2.8" fill="#e3808c"/></g>
<g transform="translate(1305.4,424.2) rotate(-3.0)"><rect x="-7.8" y="-4.7" width="15.5" height="9.3" rx="1.6" fill="#f3c4c3"/><line x1="8.8" y1="-3.9" x2="8.8" y2="3.9" stroke="#f3c4c3" stroke-width="2.4" stroke-dasharray="0.9 0.9" opacity="0.85"/><ellipse cx="-2.2" cy="0" rx="1.8" ry="2.8" fill="#e3808c"/></g>
<g transform="translate(1306.0,434.0) rotate(-4.3)"><rect x="-7.8" y="-4.7" width="15.5" height="9.3" rx="1.6" fill="#f3c4c3"/><line x1="8.8" y1="-3.9" x2="8.8" y2="3.9" stroke="#f3c4c3" stroke-width="2.4" stroke-dasharray="0.9 0.9" opacity="0.85"/><ellipse cx="-2.2" cy="0" rx="1.8" ry="2.8" fill="#e3808c"/></g>
<g transform="translate(1307.0,443.7) rotate(-7.2)"><rect x="-7.8" y="-4.7" width="15.5" height="9.3" rx="1.6" fill="#f3c4c3"/><line x1="8.8" y1="-3.9" x2="8.8" y2="3.9" stroke="#f3c4c3" stroke-width="2.4" stroke-dasharray="0.9 0.9" opacity="0.85"/><ellipse cx="-2.2" cy="0" rx="1.8" ry="2.8" fill="#e3808c"/></g>
<g transform="translate(1308.6,453.4) rotate(-11.7)"><rect x="-7.8" y="-4.7" width="15.5" height="9.3" rx="1.6" fill="#f3c4c3"/><line x1="8.8" y1="-3.9" x2="8.8" y2="3.9" stroke="#f3c4c3" stroke-width="2.4" stroke-dasharray="0.9 0.9" opacity="0.85"/><ellipse cx="-2.2" cy="0" rx="1.8" ry="2.8" fill="#e3808c"/></g>
<g transform="translate(1310.9,462.9) rotate(-15.6)"><rect x="-7.8" y="-4.7" width="15.5" height="9.3" rx="1.6" fill="#f3c4c3"/><line x1="8.8" y1="-3.9" x2="8.8" y2="3.9" stroke="#f3c4c3" stroke-width="2.4" stroke-dasharray="0.9 0.9" opacity="0.85"/><ellipse cx="-2.2" cy="0" rx="1.8" ry="2.8" fill="#e3808c"/></g>
<g transform="translate(1310.9,462.9) rotate(-15.6)"><rect x="-8.8" y="-2.8" width="10.2" height="5.6" rx="1.5" fill="#d0dc62"/><circle cx="-4.2" cy="0" r="1.9" fill="#b8c848"/><circle cx="1.5" cy="0" r="5.6" fill="#dde47c"/><circle cx="1.5" cy="0" r="3.1" fill="#f4f6d8" opacity="0.4"/></g>
<g transform="translate(1313.9,472.3) rotate(-19.3)"><rect x="-7.8" y="-4.7" width="15.5" height="9.3" rx="1.6" fill="#f3c4c3"/><line x1="8.8" y1="-3.9" x2="8.8" y2="3.9" stroke="#f3c4c3" stroke-width="2.4" stroke-dasharray="0.9 0.9" opacity="0.85"/><ellipse cx="-2.2" cy="0" rx="1.8" ry="2.8" fill="#e3808c"/></g>
<g transform="translate(1317.5,481.4) rotate(-27.2)"><rect x="-7.8" y="-4.7" width="15.5" height="9.3" rx="1.6" fill="#f3c4c3"/><line x1="8.8" y1="-3.9" x2="8.8" y2="3.9" stroke="#f3c4c3" stroke-width="2.4" stroke-dasharray="0.9 0.9" opacity="0.85"/><ellipse cx="-2.2" cy="0" rx="1.8" ry="2.8" fill="#e3808c"/></g>
<g transform="translate(1322.6,489.8) rotate(-32.7)"><rect x="-7.8" y="-4.7" width="15.5" height="9.3" rx="1.6" fill="#f3c4c3"/><line x1="8.8" y1="-3.9" x2="8.8" y2="3.9" stroke="#f3c4c3" stroke-width="2.4" stroke-dasharray="0.9 0.9" opacity="0.85"/><ellipse cx="-2.2" cy="0" rx="1.8" ry="2.8" fill="#e3808c"/></g>
<g transform="translate(1327.1,498.4) rotate(-24.9)"><rect x="-7.8" y="-4.7" width="15.5" height="9.3" rx="1.6" fill="#f3c4c3"/><line x1="8.8" y1="-3.9" x2="8.8" y2="3.9" stroke="#f3c4c3" stroke-width="2.4" stroke-dasharray="0.9 0.9" opacity="0.85"/><ellipse cx="-2.2" cy="0" rx="1.8" ry="2.8" fill="#e3808c"/></g>
<g transform="translate(1329.7,507.8) rotate(-6.3)"><rect x="-7.8" y="-4.7" width="15.5" height="9.3" rx="1.6" fill="#68c2ba"/><ellipse cx="-2.8" cy="0" rx="2.4" ry="3.4" fill="#2f9a78"/></g>
<g transform="translate(1330.2,517.6) rotate(-1.2)"><rect x="-7.8" y="-4.7" width="15.5" height="9.3" rx="1.6" fill="#68c2ba"/><ellipse cx="-2.8" cy="0" rx="2.4" ry="3.4" fill="#2f9a78"/></g>
<g transform="translate(1330.2,527.4) rotate(0.3)"><rect x="-7.8" y="-4.7" width="15.5" height="9.3" rx="1.6" fill="#68c2ba"/><ellipse cx="-2.8" cy="0" rx="2.4" ry="3.4" fill="#2f9a78"/></g>
<g transform="translate(1330.1,537.2) rotate(0.8)"><rect x="-7.8" y="-4.7" width="15.5" height="9.3" rx="1.6" fill="#68c2ba"/><ellipse cx="-2.8" cy="0" rx="2.4" ry="3.4" fill="#2f9a78"/></g>
<g transform="translate(1330.0,547.0) rotate(0.6)"><rect x="-7.8" y="-4.7" width="15.5" height="9.3" rx="1.6" fill="#68c2ba"/><ellipse cx="-2.8" cy="0" rx="2.4" ry="3.4" fill="#2f9a78"/></g>
<g transform="translate(1329.9,556.8) rotate(-0.7)"><rect x="-7.8" y="-4.7" width="15.5" height="9.3" rx="1.6" fill="#d6e48e"/><ellipse cx="-2.8" cy="0" rx="2.4" ry="3.4" fill="#a9bf55"/></g>
<g transform="translate(1330.2,566.6) rotate(-2.2)"><rect x="-7.8" y="-4.7" width="15.5" height="9.3" rx="1.6" fill="#b6e2d8"/><ellipse cx="-2.8" cy="0" rx="2.2" ry="3" fill="#6cc8d4"/></g>
<g transform="translate(1331.5,576.3) rotate(-15.5)"><rect x="-7.8" y="-4.7" width="15.5" height="9.3" rx="1.6" fill="#b3a3d3"/><ellipse cx="-3.2" cy="0" rx="2.2" ry="3" fill="#8a6cbc"/><circle cx="2.0" cy="0" r="3.2" fill="#e6def2" opacity="0.7"/></g>
<g transform="translate(1335.0,585.4) rotate(-27.8)"><rect x="-7.8" y="-4.7" width="15.5" height="9.3" rx="1.6" fill="#b6e2d8"/><ellipse cx="-2.8" cy="0" rx="2.2" ry="3" fill="#6cc8d4"/></g>
<g transform="translate(1341.1,593.0) rotate(-49.5)"><rect x="-7.8" y="-4.7" width="15.5" height="9.3" rx="1.6" fill="#b3a3d3"/><ellipse cx="-3.2" cy="0" rx="2.2" ry="3" fill="#8a6cbc"/><circle cx="2.0" cy="0" r="3.2" fill="#e6def2" opacity="0.7"/></g>
<g transform="translate(1349.3,598.3) rotate(-66.2)"><rect x="-7.8" y="-4.7" width="15.5" height="9.3" rx="1.6" fill="#b6e2d8"/><ellipse cx="-2.8" cy="0" rx="2.2" ry="3" fill="#6cc8d4"/></g>
<g transform="translate(1358.8,599.6) rotate(-103.5)"><rect x="-7.8" y="-4.7" width="15.5" height="9.3" rx="1.6" fill="#b3a3d3"/><ellipse cx="-3.2" cy="0" rx="2.2" ry="3" fill="#8a6cbc"/><circle cx="2.0" cy="0" r="3.2" fill="#e6def2" opacity="0.7"/></g>
<g transform="translate(1367.6,595.4) rotate(-123.9)"><rect x="-7.8" y="-4.7" width="15.5" height="9.3" rx="1.6" fill="#b6e2d8"/><ellipse cx="-2.8" cy="0" rx="2.2" ry="3" fill="#6cc8d4"/></g>
<g transform="translate(1374.8,588.9) rotate(-143.8)"><rect x="-7.8" y="-4.7" width="15.5" height="9.3" rx="1.6" fill="#b3a3d3"/><ellipse cx="-3.2" cy="0" rx="2.2" ry="3" fill="#8a6cbc"/><circle cx="2.0" cy="0" r="3.2" fill="#e6def2" opacity="0.7"/></g>
<g transform="translate(1379.3,580.2) rotate(-160.5)"><rect x="-7.8" y="-4.7" width="15.5" height="9.3" rx="1.6" fill="#b6e2d8"/><ellipse cx="-2.8" cy="0" rx="2.2" ry="3" fill="#6cc8d4"/></g>
<g transform="translate(1381.5,570.7) rotate(-174.7)"><rect x="-7.8" y="-4.7" width="15.5" height="9.3" rx="1.6" fill="#b3a3d3"/><ellipse cx="-3.2" cy="0" rx="2.2" ry="3" fill="#8a6cbc"/><circle cx="2.0" cy="0" r="3.2" fill="#e6def2" opacity="0.7"/></g>
<g transform="translate(1382.0,560.9) rotate(-178.3)"><rect x="-7.8" y="-4.7" width="15.5" height="9.3" rx="1.6" fill="#b6e2d8"/><ellipse cx="-2.8" cy="0" rx="2.2" ry="3" fill="#6cc8d4"/></g>
<g transform="translate(1382.1,551.1) rotate(-180.4)"><rect x="-7.8" y="-4.7" width="15.5" height="9.3" rx="1.6" fill="#d6e48e"/><ellipse cx="-2.8" cy="0" rx="2.4" ry="3.4" fill="#a9bf55"/></g>
<g transform="translate(1381.9,541.3) rotate(-180.8)"><rect x="-7.8" y="-4.7" width="15.5" height="9.3" rx="1.6" fill="#68c2ba"/><ellipse cx="-2.8" cy="0" rx="2.4" ry="3.4" fill="#2f9a78"/></g>
<g transform="translate(1381.8,531.5) rotate(-180.6)"><rect x="-7.8" y="-4.7" width="15.5" height="9.3" rx="1.6" fill="#68c2ba"/><ellipse cx="-2.8" cy="0" rx="2.4" ry="3.4" fill="#2f9a78"/></g>
<g transform="translate(1381.8,521.7) rotate(-179.8)"><rect x="-7.8" y="-4.7" width="15.5" height="9.3" rx="1.6" fill="#68c2ba"/><ellipse cx="-2.8" cy="0" rx="2.4" ry="3.4" fill="#2f9a78"/></g>
<g transform="translate(1382.0,511.9) rotate(-176.3)"><rect x="-7.8" y="-4.7" width="15.5" height="9.3" rx="1.6" fill="#68c2ba"/><ellipse cx="-2.8" cy="0" rx="2.4" ry="3.4" fill="#2f9a78"/></g>
<g transform="translate(1383.1,502.2) rotate(-166.1)"><rect x="-7.8" y="-4.7" width="15.5" height="9.3" rx="1.6" fill="#68c2ba"/><ellipse cx="-2.8" cy="0" rx="2.4" ry="3.4" fill="#2f9a78"/></g>
<g transform="translate(1386.4,492.9) rotate(-159.3)"><rect x="-7.8" y="-4.7" width="15.5" height="9.3" rx="1.6" fill="#f3c4c3"/><line x1="8.8" y1="-3.9" x2="8.8" y2="3.9" stroke="#f3c4c3" stroke-width="2.4" stroke-dasharray="0.9 0.9" opacity="0.85"/><ellipse cx="-2.2" cy="0" rx="1.8" ry="2.8" fill="#e3808c"/></g>
<g transform="translate(1390.3,483.9) rotate(-155.0)"><rect x="-7.8" y="-4.7" width="15.5" height="9.3" rx="1.6" fill="#f3c4c3"/><line x1="8.8" y1="-3.9" x2="8.8" y2="3.9" stroke="#f3c4c3" stroke-width="2.4" stroke-dasharray="0.9 0.9" opacity="0.85"/><ellipse cx="-2.2" cy="0" rx="1.8" ry="2.8" fill="#e3808c"/></g>
<g transform="translate(1394.6,475.1) rotate(-154.0)"><rect x="-7.8" y="-4.7" width="15.5" height="9.3" rx="1.6" fill="#f3c4c3"/><line x1="8.8" y1="-3.9" x2="8.8" y2="3.9" stroke="#f3c4c3" stroke-width="2.4" stroke-dasharray="0.9 0.9" opacity="0.85"/><ellipse cx="-2.2" cy="0" rx="1.8" ry="2.8" fill="#e3808c"/></g>
<g transform="translate(425,283) rotate(-12)"><path d="M-5.5,-7.5 Q0,-9.5 5.5,-7.5 L2.5,7.0 Q0,9.5 -2.5,7.0 Z" fill="#f3c4c3"/><path d="M-5.0,-8.5 L5.0,-8.5" stroke="#f3c4c3" stroke-width="2.6" stroke-dasharray="1 1.1" transform="translate(0,-1.2)"/><ellipse cx="0" cy="1.5" rx="1.5" ry="1.2" fill="#e3808c"/></g>
<g transform="translate(440,275) rotate(18)"><path d="M-5.5,-7.5 Q0,-9.5 5.5,-7.5 L2.5,7.0 Q0,9.5 -2.5,7.0 Z" fill="#f3c4c3"/><path d="M-5.0,-8.5 L5.0,-8.5" stroke="#f3c4c3" stroke-width="2.6" stroke-dasharray="1 1.1" transform="translate(0,-1.2)"/><ellipse cx="0" cy="1.5" rx="1.5" ry="1.2" fill="#e3808c"/></g>
<g transform="translate(444,295) rotate(-8)"><path d="M-5.5,-7.5 Q0,-9.5 5.5,-7.5 L2.5,7.0 Q0,9.5 -2.5,7.0 Z" fill="#f3c4c3"/><path d="M-5.0,-8.5 L5.0,-8.5" stroke="#f3c4c3" stroke-width="2.6" stroke-dasharray="1 1.1" transform="translate(0,-1.2)"/><ellipse cx="0" cy="1.5" rx="1.5" ry="1.2" fill="#e3808c"/></g>
<g transform="translate(607,274) rotate(-30)"><path d="M-5.5,-7.5 Q0,-9.5 5.5,-7.5 L2.5,7.0 Q0,9.5 -2.5,7.0 Z" fill="#f3c4c3"/><path d="M-5.0,-8.5 L5.0,-8.5" stroke="#f3c4c3" stroke-width="2.6" stroke-dasharray="1 1.1" transform="translate(0,-1.2)"/><ellipse cx="0" cy="1.5" rx="1.5" ry="1.2" fill="#e3808c"/></g>
<g transform="translate(623,284) rotate(15)"><path d="M-5.5,-7.5 Q0,-9.5 5.5,-7.5 L2.5,7.0 Q0,9.5 -2.5,7.0 Z" fill="#f3c4c3"/><path d="M-5.0,-8.5 L5.0,-8.5" stroke="#f3c4c3" stroke-width="2.6" stroke-dasharray="1 1.1" transform="translate(0,-1.2)"/><ellipse cx="0" cy="1.5" rx="1.5" ry="1.2" fill="#e3808c"/></g>
<g transform="translate(604,294) rotate(-3)"><path d="M-5.5,-7.5 Q0,-9.5 5.5,-7.5 L2.5,7.0 Q0,9.5 -2.5,7.0 Z" fill="#f3c4c3"/><path d="M-5.0,-8.5 L5.0,-8.5" stroke="#f3c4c3" stroke-width="2.6" stroke-dasharray="1 1.1" transform="translate(0,-1.2)"/><ellipse cx="0" cy="1.5" rx="1.5" ry="1.2" fill="#e3808c"/></g>
<g transform="translate(1275,281) rotate(-12)"><path d="M-4.8,-6.0 Q0,-8.0 4.8,-6.0 L2.1,5.5 Q0,8.0 -2.1,5.5 Z" fill="#f3c4c3"/><path d="M-4.2,-7.0 L4.2,-7.0" stroke="#f3c4c3" stroke-width="2.6" stroke-dasharray="1 1.1" transform="translate(0,-1.2)"/><ellipse cx="0" cy="1.5" rx="1.5" ry="1.2" fill="#e3808c"/></g>
<g transform="translate(1288,273) rotate(18)"><path d="M-4.8,-6.0 Q0,-8.0 4.8,-6.0 L2.1,5.5 Q0,8.0 -2.1,5.5 Z" fill="#f3c4c3"/><path d="M-4.2,-7.0 L4.2,-7.0" stroke="#f3c4c3" stroke-width="2.6" stroke-dasharray="1 1.1" transform="translate(0,-1.2)"/><ellipse cx="0" cy="1.5" rx="1.5" ry="1.2" fill="#e3808c"/></g>
<g transform="translate(1290,290) rotate(-8)"><path d="M-4.8,-6.0 Q0,-8.0 4.8,-6.0 L2.1,5.5 Q0,8.0 -2.1,5.5 Z" fill="#f3c4c3"/><path d="M-4.2,-7.0 L4.2,-7.0" stroke="#f3c4c3" stroke-width="2.6" stroke-dasharray="1 1.1" transform="translate(0,-1.2)"/><ellipse cx="0" cy="1.5" rx="1.5" ry="1.2" fill="#e3808c"/></g>
<g transform="translate(436,308) rotate(-18)"><path d="M-5.5,-7.5 Q0,-9.5 5.5,-7.5 L2.5,7.0 Q0,9.5 -2.5,7.0 Z" fill="#f3c4c3"/><path d="M-5.0,-8.5 L5.0,-8.5" stroke="#f3c4c3" stroke-width="2.6" stroke-dasharray="1 1.1" transform="translate(0,-1.2)"/><ellipse cx="0" cy="1.5" rx="1.5" ry="1.2" fill="#e3808c"/></g>
<g transform="translate(603,308) rotate(-18)"><path d="M-5.5,-7.5 Q0,-9.5 5.5,-7.5 L2.5,7.0 Q0,9.5 -2.5,7.0 Z" fill="#f3c4c3"/><path d="M-5.0,-8.5 L5.0,-8.5" stroke="#f3c4c3" stroke-width="2.6" stroke-dasharray="1 1.1" transform="translate(0,-1.2)"/><ellipse cx="0" cy="1.5" rx="1.5" ry="1.2" fill="#e3808c"/></g>
<g transform="translate(446,309) rotate(16)"><path d="M-5.5,-7.5 Q0,-9.5 5.5,-7.5 L2.5,7.0 Q0,9.5 -2.5,7.0 Z" fill="#f3c4c3"/><path d="M-5.0,-8.5 L5.0,-8.5" stroke="#f3c4c3" stroke-width="2.6" stroke-dasharray="1 1.1" transform="translate(0,-1.2)"/><ellipse cx="0" cy="1.5" rx="1.5" ry="1.2" fill="#e3808c"/></g>
<g transform="translate(613,309) rotate(16)"><path d="M-5.5,-7.5 Q0,-9.5 5.5,-7.5 L2.5,7.0 Q0,9.5 -2.5,7.0 Z" fill="#f3c4c3"/><path d="M-5.0,-8.5 L5.0,-8.5" stroke="#f3c4c3" stroke-width="2.6" stroke-dasharray="1 1.1" transform="translate(0,-1.2)"/><ellipse cx="0" cy="1.5" rx="1.5" ry="1.2" fill="#e3808c"/></g>
<g transform="translate(1284,307) rotate(-16)"><path d="M-4.8,-6.0 Q0,-8.0 4.8,-6.0 L2.1,5.5 Q0,8.0 -2.1,5.5 Z" fill="#f3c4c3"/><path d="M-4.2,-7.0 L4.2,-7.0" stroke="#f3c4c3" stroke-width="2.6" stroke-dasharray="1 1.1" transform="translate(0,-1.2)"/><ellipse cx="0" cy="1.5" rx="1.5" ry="1.2" fill="#e3808c"/></g>
<g transform="translate(1293,308) rotate(14)"><path d="M-4.8,-6.0 Q0,-8.0 4.8,-6.0 L2.1,5.5 Q0,8.0 -2.1,5.5 Z" fill="#f3c4c3"/><path d="M-4.2,-7.0 L4.2,-7.0" stroke="#f3c4c3" stroke-width="2.6" stroke-dasharray="1 1.1" transform="translate(0,-1.2)"/><ellipse cx="0" cy="1.5" rx="1.5" ry="1.2" fill="#e3808c"/></g>
<polygon points="504.3,297.8 502.6,299.6 503.5,301.8 501.3,302.8 501.2,305.2 498.8,305.3 497.8,307.5 495.6,306.6 493.8,308.3 492.0,306.6 489.8,307.5 488.8,305.3 486.4,305.2 486.3,302.8 484.1,301.8 485.0,299.6 483.3,297.8 485.0,296.0 484.1,293.8 486.3,292.8 486.4,290.4 488.8,290.3 489.8,288.1 492.0,289.0 493.8,287.3 495.6,289.0 497.8,288.1 498.8,290.3 501.2,290.4 501.3,292.8 503.5,293.8 502.6,296.0" fill="#f8b840"/>
<polygon points="552.8,311.0 550.2,312.7 552.0,315.2 549.0,315.8 549.6,318.8 546.6,318.2 546.0,321.2 543.5,319.4 541.8,322.0 540.1,319.4 537.6,321.2 537.0,318.2 534.0,318.8 534.6,315.8 531.6,315.2 533.4,312.7 530.8,311.0 533.4,309.3 531.6,306.8 534.6,306.2 534.0,303.2 537.0,303.8 537.6,300.8 540.1,302.6 541.8,300.0 543.5,302.6 546.0,300.8 546.6,303.8 549.6,303.2 549.0,306.2 552.0,306.8 550.2,309.3" fill="#000"/>
<polygon points="511.7,420.7 509.1,422.4 510.9,424.9 507.9,425.5 508.5,428.5 505.5,427.9 504.9,430.9 502.4,429.1 500.7,431.7 499.0,429.1 496.5,430.9 495.9,427.9 492.9,428.5 493.5,425.5 490.5,424.9 492.3,422.4 489.7,420.7 492.3,419.0 490.5,416.5 493.5,415.9 492.9,412.9 495.9,413.5 496.5,410.5 499.0,412.3 500.7,409.7 502.4,412.3 504.9,410.5 505.5,413.5 508.5,412.9 507.9,415.9 510.9,416.5 509.1,419.0" fill="#000"/>
<line x1="546" y1="432" x2="556" y2="423" stroke="#9c86b6" stroke-width="7" stroke-linecap="round"/>
<path d="M543,434 L538,436 L535,438" stroke="#9c86b6" stroke-width="1" fill="none"/>
<path d="M491,309 C488,322 480,334 473.3,342.2 C490,350 503,365 506,384" stroke="#000" stroke-width="1.6" fill="none" marker-end="url(#ahK)"/>
<path d="M526.2,415.6 C528,395 540,380 560,372.7 C550,360 543,345 541,328" stroke="#000" stroke-width="1.6" fill="none" marker-end="url(#ahK)"/>

<!-- middle text -->
<g font-family="Liberation Sans, sans-serif" font-size="23" fill="#40e28a" stroke="#40e28a" stroke-width="0.5">
  <text x="785.7" y="406.4" textLength="142.7" lengthAdjust="spacingAndGlyphs">Enter spatial</text>
  <text x="805.4" y="432.8" textLength="103.6" lengthAdjust="spacingAndGlyphs">plasticity</text>
</g>

<!-- big cells -->
<g>
  <rect x="754" y="279" width="44" height="64.5" rx="6" fill="#f2c4c2"/>
  <ellipse cx="776" cy="328" rx="9" ry="5" fill="#e0808a"/>
  <path d="M763,281 L761.5,272 M769.5,281 L769,271 M777,281 L778,271 M785,281 L787,272" stroke="#f2c4c2" stroke-width="2.2" fill="none" stroke-linecap="round"/>

  <rect x="753" y="486.5" width="46" height="69" rx="7" transform="rotate(1.8 776 521)" fill="#b8ddd6"/>
  <ellipse cx="775" cy="540" rx="12" ry="6" fill="#6ecad6"/>

  <rect x="984.5" y="396.5" width="36.5" height="53" rx="5" fill="#fcba38" stroke="#c98a3a" stroke-width="0.6"/>
  <circle cx="1003.7" cy="432" r="9.4" fill="url(#gNuc)" stroke="#86cfa6" stroke-width="0.8"/>

<rect x="1038.8" y="325.5" width="19.3" height="29.2" rx="2.5" fill="#fbbb3a"/><circle cx="1048.6" cy="345.2" r="5.2" fill="url(#gNuc)"/>
<rect x="1059.5" y="325.5" width="19.3" height="29.2" rx="2.5" fill="#fbbb3a"/><circle cx="1069.3" cy="345.2" r="5.2" fill="url(#gNuc)"/>
<rect x="1080.3" y="325.5" width="19.3" height="29.2" rx="2.5" fill="#fbbb3a"/><circle cx="1090.1" cy="345.2" r="5.2" fill="url(#gNuc)"/>
<rect x="1101.0" y="325.5" width="19.3" height="29.2" rx="2.5" fill="#fbbb3a"/><circle cx="1110.8" cy="345.2" r="5.2" fill="url(#gNuc)"/>
<rect x="1121.7" y="325.5" width="19.3" height="29.2" rx="2.5" fill="#fbbb3a"/><circle cx="1131.5" cy="345.2" r="5.2" fill="url(#gNuc)"/>
<rect x="1142.5" y="325.5" width="19.3" height="29.2" rx="2.5" fill="#fbbb3a"/><circle cx="1152.2" cy="345.2" r="5.2" fill="url(#gNuc)"/>
<rect x="1163.2" y="325.5" width="19.3" height="29.2" rx="2.5" fill="#fbbb3a"/><circle cx="1173.0" cy="345.2" r="5.2" fill="url(#gNuc)"/>
<rect x="1183.9" y="325.5" width="19.3" height="29.2" rx="2.5" fill="#fbbb3a"/><circle cx="1193.7" cy="345.2" r="5.2" fill="url(#gNuc)"/>
  <rect x="1216" y="595.5" width="35" height="51.5" rx="5" fill="#fcba38" stroke="#c98a3a" stroke-width="0.6"/>
  <circle cx="1234.5" cy="629" r="9.4" fill="url(#gNuc)" stroke="#86cfa6" stroke-width="0.8"/>

  <rect x="1321" y="596.5" width="36" height="52.5" rx="5" fill="#b8ddd6"/>
  <ellipse cx="1339" cy="637.4" rx="9" ry="4.5" fill="#6ecad6"/>
</g>

<!-- connectors -->
<g stroke="#ffffff" stroke-width="1.3" fill="none">
  <path d="M636,333 L704,317 L744,317"/>
  <path d="M808,317 L888,317 C925,317 945,360 972,408" marker-end="url(#ahW)"/>
  <path d="M808,517.5 L889,517.5 C930,517.5 950,470 973,425" marker-end="url(#ahW)"/>
  <path d="M972,443 C950,490 930,529.5 889,529.5 L808,529.5" marker-end="url(#ahW)"/>
  <path d="M674,556 L704,527.5 L745,527.5"/>
  <path d="M1121.3,397.3 L1121.3,440.7 L1244,486"/>
  <path d="M1258,624 L1313,624" marker-end="url(#ahW)"/>
</g>

</svg>
</body></html>
